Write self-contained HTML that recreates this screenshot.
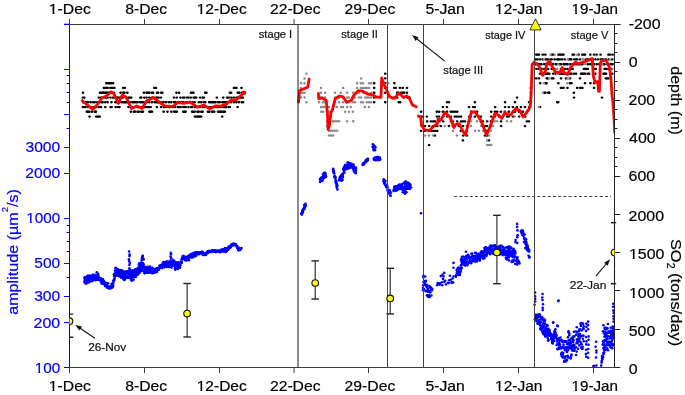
<!DOCTYPE html>
<html><head><meta charset="utf-8"><style>html,body{margin:0;padding:0;background:#fff;overflow:hidden}svg{display:block;will-change:transform}svg text{font-family:"Liberation Sans",sans-serif;stroke-width:0.2px}</style></head>
<body><svg width="685" height="395" viewBox="0 0 685 395">
<rect width="685" height="395" fill="#fff"/>
<defs><clipPath id="pc"><rect x="69.5" y="24" width="545" height="344"/></clipPath></defs>
<g clip-path="url(#pc)">
<g fill="#000"><rect x="81.6" y="91.6" width="2.7" height="2.3" rx="1.1"/><rect x="81.5" y="96.4" width="2.7" height="2.3" rx="1.1"/><rect x="81.8" y="101.1" width="2.7" height="2.3" rx="1.1"/><rect x="81.5" y="105.9" width="2.7" height="2.3" rx="1.1"/><rect x="83.0" y="96.4" width="2.7" height="2.3" rx="1.1"/><rect x="82.8" y="101.1" width="2.7" height="2.3" rx="1.1"/><rect x="83.0" y="105.9" width="2.7" height="2.3" rx="1.1"/><rect x="84.2" y="101.1" width="2.7" height="2.3" rx="1.1"/><rect x="84.3" y="105.9" width="2.7" height="2.3" rx="1.1"/><rect x="85.5" y="101.1" width="2.7" height="2.3" rx="1.1"/><rect x="85.5" y="110.6" width="2.7" height="2.3" rx="1.1"/><rect x="87.0" y="101.1" width="2.7" height="2.3" rx="1.1"/><rect x="86.7" y="105.9" width="2.7" height="2.3" rx="1.1"/><rect x="86.7" y="110.6" width="2.7" height="2.3" rx="1.1"/><rect x="88.1" y="110.6" width="2.7" height="2.3" rx="1.1"/><rect x="88.2" y="115.4" width="2.7" height="2.3" rx="1.1"/><rect x="89.4" y="101.1" width="2.7" height="2.3" rx="1.1"/><rect x="89.3" y="105.9" width="2.7" height="2.3" rx="1.1"/><rect x="90.7" y="110.6" width="2.7" height="2.3" rx="1.1"/><rect x="91.9" y="101.1" width="2.7" height="2.3" rx="1.1"/><rect x="92.0" y="105.9" width="2.7" height="2.3" rx="1.1"/><rect x="93.4" y="101.1" width="2.7" height="2.3" rx="1.1"/><rect x="93.5" y="110.6" width="2.7" height="2.3" rx="1.1"/><rect x="94.6" y="105.9" width="2.7" height="2.3" rx="1.1"/><rect x="94.5" y="110.6" width="2.7" height="2.3" rx="1.1"/><rect x="94.8" y="115.4" width="2.7" height="2.3" rx="1.1"/><rect x="95.9" y="101.1" width="2.7" height="2.3" rx="1.1"/><rect x="96.1" y="115.4" width="2.7" height="2.3" rx="1.1"/><rect x="97.4" y="96.4" width="2.7" height="2.3" rx="1.1"/><rect x="97.3" y="101.1" width="2.7" height="2.3" rx="1.1"/><rect x="97.2" y="105.9" width="2.7" height="2.3" rx="1.1"/><rect x="97.3" y="115.4" width="2.7" height="2.3" rx="1.1"/><rect x="98.6" y="91.6" width="2.7" height="2.3" rx="1.1"/><rect x="98.4" y="105.9" width="2.7" height="2.3" rx="1.1"/><rect x="98.4" y="115.4" width="2.7" height="2.3" rx="1.1"/><rect x="100.0" y="91.6" width="2.7" height="2.3" rx="1.1"/><rect x="99.7" y="96.4" width="2.7" height="2.3" rx="1.1"/><rect x="99.9" y="101.1" width="2.7" height="2.3" rx="1.1"/><rect x="99.7" y="105.9" width="2.7" height="2.3" rx="1.1"/><rect x="101.3" y="91.6" width="2.7" height="2.3" rx="1.1"/><rect x="101.0" y="96.4" width="2.7" height="2.3" rx="1.1"/><rect x="101.3" y="101.1" width="2.7" height="2.3" rx="1.1"/><rect x="102.6" y="86.8" width="2.7" height="2.3" rx="1.1"/><rect x="102.4" y="91.6" width="2.7" height="2.3" rx="1.1"/><rect x="103.7" y="86.8" width="2.7" height="2.3" rx="1.1"/><rect x="103.8" y="91.6" width="2.7" height="2.3" rx="1.1"/><rect x="103.6" y="96.4" width="2.7" height="2.3" rx="1.1"/><rect x="103.9" y="101.1" width="2.7" height="2.3" rx="1.1"/><rect x="103.9" y="105.9" width="2.7" height="2.3" rx="1.1"/><rect x="104.9" y="82.1" width="2.7" height="2.3" rx="1.1"/><rect x="105.1" y="86.8" width="2.7" height="2.3" rx="1.1"/><rect x="104.9" y="91.6" width="2.7" height="2.3" rx="1.1"/><rect x="105.2" y="96.4" width="2.7" height="2.3" rx="1.1"/><rect x="106.2" y="82.1" width="2.7" height="2.3" rx="1.1"/><rect x="106.3" y="86.8" width="2.7" height="2.3" rx="1.1"/><rect x="106.2" y="91.6" width="2.7" height="2.3" rx="1.1"/><rect x="106.2" y="96.4" width="2.7" height="2.3" rx="1.1"/><rect x="106.2" y="101.1" width="2.7" height="2.3" rx="1.1"/><rect x="107.7" y="82.1" width="2.7" height="2.3" rx="1.1"/><rect x="107.8" y="91.6" width="2.7" height="2.3" rx="1.1"/><rect x="108.8" y="82.1" width="2.7" height="2.3" rx="1.1"/><rect x="109.0" y="86.8" width="2.7" height="2.3" rx="1.1"/><rect x="109.0" y="96.4" width="2.7" height="2.3" rx="1.1"/><rect x="109.1" y="105.9" width="2.7" height="2.3" rx="1.1"/><rect x="110.2" y="82.1" width="2.7" height="2.3" rx="1.1"/><rect x="110.3" y="86.8" width="2.7" height="2.3" rx="1.1"/><rect x="110.3" y="91.6" width="2.7" height="2.3" rx="1.1"/><rect x="110.1" y="101.1" width="2.7" height="2.3" rx="1.1"/><rect x="110.3" y="105.9" width="2.7" height="2.3" rx="1.1"/><rect x="111.7" y="82.1" width="2.7" height="2.3" rx="1.1"/><rect x="111.7" y="86.8" width="2.7" height="2.3" rx="1.1"/><rect x="111.5" y="96.4" width="2.7" height="2.3" rx="1.1"/><rect x="113.0" y="86.8" width="2.7" height="2.3" rx="1.1"/><rect x="112.7" y="91.6" width="2.7" height="2.3" rx="1.1"/><rect x="112.8" y="96.4" width="2.7" height="2.3" rx="1.1"/><rect x="114.1" y="96.4" width="2.7" height="2.3" rx="1.1"/><rect x="114.0" y="101.1" width="2.7" height="2.3" rx="1.1"/><rect x="114.3" y="105.9" width="2.7" height="2.3" rx="1.1"/><rect x="115.5" y="96.4" width="2.7" height="2.3" rx="1.1"/><rect x="115.6" y="101.1" width="2.7" height="2.3" rx="1.1"/><rect x="116.6" y="96.4" width="2.7" height="2.3" rx="1.1"/><rect x="116.6" y="105.9" width="2.7" height="2.3" rx="1.1"/><rect x="117.9" y="96.4" width="2.7" height="2.3" rx="1.1"/><rect x="118.2" y="101.1" width="2.7" height="2.3" rx="1.1"/><rect x="118.1" y="105.9" width="2.7" height="2.3" rx="1.1"/><rect x="119.2" y="91.6" width="2.7" height="2.3" rx="1.1"/><rect x="119.5" y="96.4" width="2.7" height="2.3" rx="1.1"/><rect x="120.5" y="96.4" width="2.7" height="2.3" rx="1.1"/><rect x="120.7" y="101.1" width="2.7" height="2.3" rx="1.1"/><rect x="121.8" y="86.8" width="2.7" height="2.3" rx="1.1"/><rect x="122.0" y="91.6" width="2.7" height="2.3" rx="1.1"/><rect x="121.8" y="96.4" width="2.7" height="2.3" rx="1.1"/><rect x="122.0" y="101.1" width="2.7" height="2.3" rx="1.1"/><rect x="123.4" y="86.8" width="2.7" height="2.3" rx="1.1"/><rect x="123.1" y="91.6" width="2.7" height="2.3" rx="1.1"/><rect x="123.4" y="101.1" width="2.7" height="2.3" rx="1.1"/><rect x="124.7" y="96.4" width="2.7" height="2.3" rx="1.1"/><rect x="124.4" y="101.1" width="2.7" height="2.3" rx="1.1"/><rect x="126.0" y="91.6" width="2.7" height="2.3" rx="1.1"/><rect x="125.7" y="101.1" width="2.7" height="2.3" rx="1.1"/><rect x="127.1" y="96.4" width="2.7" height="2.3" rx="1.1"/><rect x="127.1" y="105.9" width="2.7" height="2.3" rx="1.1"/><rect x="128.4" y="96.4" width="2.7" height="2.3" rx="1.1"/><rect x="128.3" y="101.1" width="2.7" height="2.3" rx="1.1"/><rect x="129.9" y="96.4" width="2.7" height="2.3" rx="1.1"/><rect x="129.7" y="105.9" width="2.7" height="2.3" rx="1.1"/><rect x="129.6" y="110.6" width="2.7" height="2.3" rx="1.1"/><rect x="130.9" y="101.1" width="2.7" height="2.3" rx="1.1"/><rect x="130.9" y="105.9" width="2.7" height="2.3" rx="1.1"/><rect x="132.2" y="101.1" width="2.7" height="2.3" rx="1.1"/><rect x="132.5" y="110.6" width="2.7" height="2.3" rx="1.1"/><rect x="133.6" y="101.1" width="2.7" height="2.3" rx="1.1"/><rect x="133.5" y="105.9" width="2.7" height="2.3" rx="1.1"/><rect x="133.5" y="110.6" width="2.7" height="2.3" rx="1.1"/><rect x="134.9" y="101.1" width="2.7" height="2.3" rx="1.1"/><rect x="136.3" y="101.1" width="2.7" height="2.3" rx="1.1"/><rect x="136.3" y="105.9" width="2.7" height="2.3" rx="1.1"/><rect x="136.2" y="110.6" width="2.7" height="2.3" rx="1.1"/><rect x="137.7" y="105.9" width="2.7" height="2.3" rx="1.1"/><rect x="137.5" y="110.6" width="2.7" height="2.3" rx="1.1"/><rect x="139.0" y="96.4" width="2.7" height="2.3" rx="1.1"/><rect x="138.9" y="101.1" width="2.7" height="2.3" rx="1.1"/><rect x="140.0" y="96.4" width="2.7" height="2.3" rx="1.1"/><rect x="140.1" y="101.1" width="2.7" height="2.3" rx="1.1"/><rect x="140.1" y="105.9" width="2.7" height="2.3" rx="1.1"/><rect x="140.0" y="110.6" width="2.7" height="2.3" rx="1.1"/><rect x="141.6" y="101.1" width="2.7" height="2.3" rx="1.1"/><rect x="141.6" y="110.6" width="2.7" height="2.3" rx="1.1"/><rect x="142.6" y="91.6" width="2.7" height="2.3" rx="1.1"/><rect x="142.9" y="96.4" width="2.7" height="2.3" rx="1.1"/><rect x="142.6" y="105.9" width="2.7" height="2.3" rx="1.1"/><rect x="144.2" y="101.1" width="2.7" height="2.3" rx="1.1"/><rect x="143.9" y="105.9" width="2.7" height="2.3" rx="1.1"/><rect x="145.2" y="91.6" width="2.7" height="2.3" rx="1.1"/><rect x="145.2" y="96.4" width="2.7" height="2.3" rx="1.1"/><rect x="145.3" y="101.1" width="2.7" height="2.3" rx="1.1"/><rect x="145.3" y="105.9" width="2.7" height="2.3" rx="1.1"/><rect x="146.5" y="91.6" width="2.7" height="2.3" rx="1.1"/><rect x="146.7" y="105.9" width="2.7" height="2.3" rx="1.1"/><rect x="148.0" y="91.6" width="2.7" height="2.3" rx="1.1"/><rect x="148.0" y="96.4" width="2.7" height="2.3" rx="1.1"/><rect x="147.8" y="101.1" width="2.7" height="2.3" rx="1.1"/><rect x="147.9" y="105.9" width="2.7" height="2.3" rx="1.1"/><rect x="148.1" y="110.6" width="2.7" height="2.3" rx="1.1"/><rect x="149.3" y="105.9" width="2.7" height="2.3" rx="1.1"/><rect x="149.4" y="110.6" width="2.7" height="2.3" rx="1.1"/><rect x="150.4" y="91.6" width="2.7" height="2.3" rx="1.1"/><rect x="150.6" y="96.4" width="2.7" height="2.3" rx="1.1"/><rect x="150.6" y="101.1" width="2.7" height="2.3" rx="1.1"/><rect x="150.7" y="110.6" width="2.7" height="2.3" rx="1.1"/><rect x="151.7" y="91.6" width="2.7" height="2.3" rx="1.1"/><rect x="151.7" y="96.4" width="2.7" height="2.3" rx="1.1"/><rect x="153.0" y="86.8" width="2.7" height="2.3" rx="1.1"/><rect x="153.3" y="101.1" width="2.7" height="2.3" rx="1.1"/><rect x="154.6" y="86.8" width="2.7" height="2.3" rx="1.1"/><rect x="154.4" y="96.4" width="2.7" height="2.3" rx="1.1"/><rect x="154.6" y="101.1" width="2.7" height="2.3" rx="1.1"/><rect x="155.7" y="91.6" width="2.7" height="2.3" rx="1.1"/><rect x="155.9" y="96.4" width="2.7" height="2.3" rx="1.1"/><rect x="155.9" y="101.1" width="2.7" height="2.3" rx="1.1"/><rect x="155.6" y="105.9" width="2.7" height="2.3" rx="1.1"/><rect x="156.9" y="91.6" width="2.7" height="2.3" rx="1.1"/><rect x="157.2" y="96.4" width="2.7" height="2.3" rx="1.1"/><rect x="157.0" y="101.1" width="2.7" height="2.3" rx="1.1"/><rect x="158.3" y="101.1" width="2.7" height="2.3" rx="1.1"/><rect x="159.8" y="91.6" width="2.7" height="2.3" rx="1.1"/><rect x="159.6" y="96.4" width="2.7" height="2.3" rx="1.1"/><rect x="159.7" y="105.9" width="2.7" height="2.3" rx="1.1"/><rect x="161.0" y="91.6" width="2.7" height="2.3" rx="1.1"/><rect x="161.0" y="101.1" width="2.7" height="2.3" rx="1.1"/><rect x="162.2" y="101.1" width="2.7" height="2.3" rx="1.1"/><rect x="162.3" y="105.9" width="2.7" height="2.3" rx="1.1"/><rect x="162.3" y="110.6" width="2.7" height="2.3" rx="1.1"/><rect x="163.6" y="105.9" width="2.7" height="2.3" rx="1.1"/><rect x="164.8" y="101.1" width="2.7" height="2.3" rx="1.1"/><rect x="164.7" y="105.9" width="2.7" height="2.3" rx="1.1"/><rect x="166.1" y="110.6" width="2.7" height="2.3" rx="1.1"/><rect x="167.5" y="101.1" width="2.7" height="2.3" rx="1.1"/><rect x="167.4" y="105.9" width="2.7" height="2.3" rx="1.1"/><rect x="168.6" y="105.9" width="2.7" height="2.3" rx="1.1"/><rect x="169.9" y="101.1" width="2.7" height="2.3" rx="1.1"/><rect x="170.0" y="105.9" width="2.7" height="2.3" rx="1.1"/><rect x="170.0" y="110.6" width="2.7" height="2.3" rx="1.1"/><rect x="171.4" y="105.9" width="2.7" height="2.3" rx="1.1"/><rect x="172.6" y="96.4" width="2.7" height="2.3" rx="1.1"/><rect x="172.7" y="101.1" width="2.7" height="2.3" rx="1.1"/><rect x="172.8" y="110.6" width="2.7" height="2.3" rx="1.1"/><rect x="173.8" y="101.1" width="2.7" height="2.3" rx="1.1"/><rect x="173.8" y="105.9" width="2.7" height="2.3" rx="1.1"/><rect x="174.1" y="110.6" width="2.7" height="2.3" rx="1.1"/><rect x="175.1" y="91.6" width="2.7" height="2.3" rx="1.1"/><rect x="175.4" y="96.4" width="2.7" height="2.3" rx="1.1"/><rect x="175.4" y="110.6" width="2.7" height="2.3" rx="1.1"/><rect x="176.4" y="101.1" width="2.7" height="2.3" rx="1.1"/><rect x="176.6" y="105.9" width="2.7" height="2.3" rx="1.1"/><rect x="177.7" y="91.6" width="2.7" height="2.3" rx="1.1"/><rect x="177.9" y="101.1" width="2.7" height="2.3" rx="1.1"/><rect x="177.7" y="105.9" width="2.7" height="2.3" rx="1.1"/><rect x="179.1" y="96.4" width="2.7" height="2.3" rx="1.1"/><rect x="179.3" y="105.9" width="2.7" height="2.3" rx="1.1"/><rect x="180.3" y="101.1" width="2.7" height="2.3" rx="1.1"/><rect x="181.7" y="96.4" width="2.7" height="2.3" rx="1.1"/><rect x="181.8" y="101.1" width="2.7" height="2.3" rx="1.1"/><rect x="181.9" y="105.9" width="2.7" height="2.3" rx="1.1"/><rect x="181.9" y="110.6" width="2.7" height="2.3" rx="1.1"/><rect x="183.1" y="96.4" width="2.7" height="2.3" rx="1.1"/><rect x="182.9" y="105.9" width="2.7" height="2.3" rx="1.1"/><rect x="183.2" y="110.6" width="2.7" height="2.3" rx="1.1"/><rect x="184.4" y="101.1" width="2.7" height="2.3" rx="1.1"/><rect x="184.4" y="105.9" width="2.7" height="2.3" rx="1.1"/><rect x="184.2" y="110.6" width="2.7" height="2.3" rx="1.1"/><rect x="185.8" y="96.4" width="2.7" height="2.3" rx="1.1"/><rect x="185.8" y="101.1" width="2.7" height="2.3" rx="1.1"/><rect x="187.1" y="96.4" width="2.7" height="2.3" rx="1.1"/><rect x="187.0" y="101.1" width="2.7" height="2.3" rx="1.1"/><rect x="187.1" y="105.9" width="2.7" height="2.3" rx="1.1"/><rect x="188.1" y="101.1" width="2.7" height="2.3" rx="1.1"/><rect x="189.6" y="91.6" width="2.7" height="2.3" rx="1.1"/><rect x="189.4" y="96.4" width="2.7" height="2.3" rx="1.1"/><rect x="189.7" y="105.9" width="2.7" height="2.3" rx="1.1"/><rect x="190.9" y="91.6" width="2.7" height="2.3" rx="1.1"/><rect x="191.0" y="101.1" width="2.7" height="2.3" rx="1.1"/><rect x="190.8" y="105.9" width="2.7" height="2.3" rx="1.1"/><rect x="190.8" y="110.6" width="2.7" height="2.3" rx="1.1"/><rect x="192.0" y="91.6" width="2.7" height="2.3" rx="1.1"/><rect x="192.3" y="96.4" width="2.7" height="2.3" rx="1.1"/><rect x="192.1" y="110.6" width="2.7" height="2.3" rx="1.1"/><rect x="193.5" y="96.4" width="2.7" height="2.3" rx="1.1"/><rect x="193.3" y="101.1" width="2.7" height="2.3" rx="1.1"/><rect x="193.5" y="105.9" width="2.7" height="2.3" rx="1.1"/><rect x="193.3" y="110.6" width="2.7" height="2.3" rx="1.1"/><rect x="193.5" y="115.4" width="2.7" height="2.3" rx="1.1"/><rect x="194.9" y="96.4" width="2.7" height="2.3" rx="1.1"/><rect x="194.6" y="105.9" width="2.7" height="2.3" rx="1.1"/><rect x="194.9" y="115.4" width="2.7" height="2.3" rx="1.1"/><rect x="196.1" y="105.9" width="2.7" height="2.3" rx="1.1"/><rect x="196.2" y="110.6" width="2.7" height="2.3" rx="1.1"/><rect x="196.2" y="115.4" width="2.7" height="2.3" rx="1.1"/><rect x="197.4" y="101.1" width="2.7" height="2.3" rx="1.1"/><rect x="197.4" y="110.6" width="2.7" height="2.3" rx="1.1"/><rect x="197.5" y="115.4" width="2.7" height="2.3" rx="1.1"/><rect x="198.8" y="96.4" width="2.7" height="2.3" rx="1.1"/><rect x="198.6" y="105.9" width="2.7" height="2.3" rx="1.1"/><rect x="198.6" y="115.4" width="2.7" height="2.3" rx="1.1"/><rect x="199.9" y="101.1" width="2.7" height="2.3" rx="1.1"/><rect x="200.0" y="110.6" width="2.7" height="2.3" rx="1.1"/><rect x="199.9" y="115.4" width="2.7" height="2.3" rx="1.1"/><rect x="201.3" y="96.4" width="2.7" height="2.3" rx="1.1"/><rect x="201.2" y="105.9" width="2.7" height="2.3" rx="1.1"/><rect x="201.2" y="110.6" width="2.7" height="2.3" rx="1.1"/><rect x="202.5" y="96.4" width="2.7" height="2.3" rx="1.1"/><rect x="202.4" y="101.1" width="2.7" height="2.3" rx="1.1"/><rect x="202.7" y="105.9" width="2.7" height="2.3" rx="1.1"/><rect x="203.8" y="91.6" width="2.7" height="2.3" rx="1.1"/><rect x="203.9" y="101.1" width="2.7" height="2.3" rx="1.1"/><rect x="203.8" y="105.9" width="2.7" height="2.3" rx="1.1"/><rect x="205.1" y="91.6" width="2.7" height="2.3" rx="1.1"/><rect x="206.4" y="105.9" width="2.7" height="2.3" rx="1.1"/><rect x="206.6" y="110.6" width="2.7" height="2.3" rx="1.1"/><rect x="207.8" y="101.1" width="2.7" height="2.3" rx="1.1"/><rect x="207.9" y="110.6" width="2.7" height="2.3" rx="1.1"/><rect x="209.1" y="101.1" width="2.7" height="2.3" rx="1.1"/><rect x="209.0" y="105.9" width="2.7" height="2.3" rx="1.1"/><rect x="210.5" y="101.1" width="2.7" height="2.3" rx="1.1"/><rect x="210.3" y="105.9" width="2.7" height="2.3" rx="1.1"/><rect x="210.5" y="110.6" width="2.7" height="2.3" rx="1.1"/><rect x="211.8" y="101.1" width="2.7" height="2.3" rx="1.1"/><rect x="211.6" y="110.6" width="2.7" height="2.3" rx="1.1"/><rect x="212.8" y="101.1" width="2.7" height="2.3" rx="1.1"/><rect x="212.8" y="105.9" width="2.7" height="2.3" rx="1.1"/><rect x="212.8" y="110.6" width="2.7" height="2.3" rx="1.1"/><rect x="214.2" y="101.1" width="2.7" height="2.3" rx="1.1"/><rect x="214.4" y="105.9" width="2.7" height="2.3" rx="1.1"/><rect x="215.5" y="96.4" width="2.7" height="2.3" rx="1.1"/><rect x="215.5" y="105.9" width="2.7" height="2.3" rx="1.1"/><rect x="216.7" y="101.1" width="2.7" height="2.3" rx="1.1"/><rect x="216.8" y="105.9" width="2.7" height="2.3" rx="1.1"/><rect x="216.7" y="110.6" width="2.7" height="2.3" rx="1.1"/><rect x="218.3" y="101.1" width="2.7" height="2.3" rx="1.1"/><rect x="218.0" y="105.9" width="2.7" height="2.3" rx="1.1"/><rect x="218.0" y="110.6" width="2.7" height="2.3" rx="1.1"/><rect x="219.4" y="105.9" width="2.7" height="2.3" rx="1.1"/><rect x="219.3" y="110.6" width="2.7" height="2.3" rx="1.1"/><rect x="220.9" y="101.1" width="2.7" height="2.3" rx="1.1"/><rect x="220.7" y="110.6" width="2.7" height="2.3" rx="1.1"/><rect x="220.8" y="115.4" width="2.7" height="2.3" rx="1.1"/><rect x="221.9" y="96.4" width="2.7" height="2.3" rx="1.1"/><rect x="221.9" y="101.1" width="2.7" height="2.3" rx="1.1"/><rect x="222.0" y="105.9" width="2.7" height="2.3" rx="1.1"/><rect x="222.0" y="110.6" width="2.7" height="2.3" rx="1.1"/><rect x="223.2" y="101.1" width="2.7" height="2.3" rx="1.1"/><rect x="223.5" y="105.9" width="2.7" height="2.3" rx="1.1"/><rect x="223.5" y="110.6" width="2.7" height="2.3" rx="1.1"/><rect x="224.7" y="101.1" width="2.7" height="2.3" rx="1.1"/><rect x="224.7" y="105.9" width="2.7" height="2.3" rx="1.1"/><rect x="225.8" y="96.4" width="2.7" height="2.3" rx="1.1"/><rect x="227.4" y="96.4" width="2.7" height="2.3" rx="1.1"/><rect x="227.1" y="101.1" width="2.7" height="2.3" rx="1.1"/><rect x="227.2" y="105.9" width="2.7" height="2.3" rx="1.1"/><rect x="228.6" y="91.6" width="2.7" height="2.3" rx="1.1"/><rect x="228.5" y="105.9" width="2.7" height="2.3" rx="1.1"/><rect x="229.7" y="91.6" width="2.7" height="2.3" rx="1.1"/><rect x="230.0" y="96.4" width="2.7" height="2.3" rx="1.1"/><rect x="229.7" y="101.1" width="2.7" height="2.3" rx="1.1"/><rect x="232.6" y="86.8" width="2.7" height="2.3" rx="1.1"/><rect x="232.4" y="96.4" width="2.7" height="2.3" rx="1.1"/><rect x="232.5" y="101.1" width="2.7" height="2.3" rx="1.1"/><rect x="233.9" y="86.8" width="2.7" height="2.3" rx="1.1"/><rect x="235.1" y="86.8" width="2.7" height="2.3" rx="1.1"/><rect x="235.1" y="96.4" width="2.7" height="2.3" rx="1.1"/><rect x="235.1" y="101.1" width="2.7" height="2.3" rx="1.1"/><rect x="236.4" y="91.6" width="2.7" height="2.3" rx="1.1"/><rect x="236.4" y="96.4" width="2.7" height="2.3" rx="1.1"/><rect x="236.3" y="105.9" width="2.7" height="2.3" rx="1.1"/><rect x="237.8" y="91.6" width="2.7" height="2.3" rx="1.1"/><rect x="237.5" y="96.4" width="2.7" height="2.3" rx="1.1"/><rect x="237.5" y="101.1" width="2.7" height="2.3" rx="1.1"/><rect x="238.9" y="96.4" width="2.7" height="2.3" rx="1.1"/><rect x="240.1" y="86.8" width="2.7" height="2.3" rx="1.1"/><rect x="240.4" y="91.6" width="2.7" height="2.3" rx="1.1"/><rect x="240.3" y="96.4" width="2.7" height="2.3" rx="1.1"/><rect x="240.3" y="101.1" width="2.7" height="2.3" rx="1.1"/><rect x="241.5" y="96.4" width="2.7" height="2.3" rx="1.1"/><rect x="241.7" y="101.1" width="2.7" height="2.3" rx="1.1"/><rect x="372.8" y="82.1" width="2.7" height="2.3" rx="1.1"/><rect x="372.8" y="86.8" width="2.7" height="2.3" rx="1.1"/><rect x="372.8" y="91.6" width="2.7" height="2.3" rx="1.1"/><rect x="372.8" y="96.4" width="2.7" height="2.3" rx="1.1"/><rect x="372.8" y="101.1" width="2.7" height="2.3" rx="1.1"/><rect x="383.9" y="72.6" width="2.7" height="2.3" rx="1.1"/><rect x="383.9" y="77.3" width="2.7" height="2.3" rx="1.1"/><rect x="383.9" y="82.1" width="2.7" height="2.3" rx="1.1"/><rect x="383.9" y="86.8" width="2.7" height="2.3" rx="1.1"/><rect x="383.9" y="91.6" width="2.7" height="2.3" rx="1.1"/><rect x="383.9" y="101.1" width="2.7" height="2.3" rx="1.1"/><rect x="393.0" y="82.1" width="2.7" height="2.3" rx="1.1"/><rect x="392.9" y="86.8" width="2.7" height="2.3" rx="1.1"/><rect x="393.1" y="96.4" width="2.7" height="2.3" rx="1.1"/><rect x="394.4" y="86.8" width="2.7" height="2.3" rx="1.1"/><rect x="394.3" y="96.4" width="2.7" height="2.3" rx="1.1"/><rect x="395.8" y="91.6" width="2.7" height="2.3" rx="1.1"/><rect x="395.9" y="96.4" width="2.7" height="2.3" rx="1.1"/><rect x="397.2" y="91.6" width="2.7" height="2.3" rx="1.1"/><rect x="397.4" y="101.1" width="2.7" height="2.3" rx="1.1"/><rect x="398.6" y="86.8" width="2.7" height="2.3" rx="1.1"/><rect x="398.8" y="101.1" width="2.7" height="2.3" rx="1.1"/><rect x="399.9" y="91.6" width="2.7" height="2.3" rx="1.1"/><rect x="401.4" y="86.8" width="2.7" height="2.3" rx="1.1"/><rect x="401.4" y="91.6" width="2.7" height="2.3" rx="1.1"/><rect x="402.8" y="91.6" width="2.7" height="2.3" rx="1.1"/><rect x="405.6" y="86.8" width="2.7" height="2.3" rx="1.1"/><rect x="405.6" y="91.6" width="2.7" height="2.3" rx="1.1"/><rect x="405.8" y="96.4" width="2.7" height="2.3" rx="1.1"/><rect x="407.1" y="96.4" width="2.7" height="2.3" rx="1.1"/><rect x="408.3" y="96.4" width="2.7" height="2.3" rx="1.1"/><rect x="419.8" y="110.6" width="2.7" height="2.3" rx="1.1"/><rect x="419.7" y="115.4" width="2.7" height="2.3" rx="1.1"/><rect x="419.8" y="120.2" width="2.7" height="2.3" rx="1.1"/><rect x="419.7" y="129.7" width="2.7" height="2.3" rx="1.1"/><rect x="421.6" y="115.4" width="2.7" height="2.3" rx="1.1"/><rect x="423.7" y="124.9" width="2.7" height="2.3" rx="1.1"/><rect x="423.5" y="129.7" width="2.7" height="2.3" rx="1.1"/><rect x="425.5" y="115.4" width="2.7" height="2.3" rx="1.1"/><rect x="425.8" y="120.2" width="2.7" height="2.3" rx="1.1"/><rect x="427.8" y="124.9" width="2.7" height="2.3" rx="1.1"/><rect x="427.5" y="129.7" width="2.7" height="2.3" rx="1.1"/><rect x="427.8" y="144.0" width="2.7" height="2.3" rx="1.1"/><rect x="429.5" y="120.2" width="2.7" height="2.3" rx="1.1"/><rect x="429.5" y="129.7" width="2.7" height="2.3" rx="1.1"/><rect x="431.8" y="120.2" width="2.7" height="2.3" rx="1.1"/><rect x="431.5" y="124.9" width="2.7" height="2.3" rx="1.1"/><rect x="431.8" y="129.7" width="2.7" height="2.3" rx="1.1"/><rect x="433.5" y="120.2" width="2.7" height="2.3" rx="1.1"/><rect x="433.8" y="124.9" width="2.7" height="2.3" rx="1.1"/><rect x="433.7" y="129.7" width="2.7" height="2.3" rx="1.1"/><rect x="433.5" y="134.4" width="2.7" height="2.3" rx="1.1"/><rect x="435.5" y="110.6" width="2.7" height="2.3" rx="1.1"/><rect x="435.6" y="115.4" width="2.7" height="2.3" rx="1.1"/><rect x="435.7" y="124.9" width="2.7" height="2.3" rx="1.1"/><rect x="435.8" y="129.7" width="2.7" height="2.3" rx="1.1"/><rect x="437.8" y="110.6" width="2.7" height="2.3" rx="1.1"/><rect x="437.7" y="115.4" width="2.7" height="2.3" rx="1.1"/><rect x="437.8" y="120.2" width="2.7" height="2.3" rx="1.1"/><rect x="439.6" y="124.9" width="2.7" height="2.3" rx="1.1"/><rect x="441.6" y="105.9" width="2.7" height="2.3" rx="1.1"/><rect x="441.5" y="110.6" width="2.7" height="2.3" rx="1.1"/><rect x="441.8" y="115.4" width="2.7" height="2.3" rx="1.1"/><rect x="441.8" y="120.2" width="2.7" height="2.3" rx="1.1"/><rect x="445.7" y="101.1" width="2.7" height="2.3" rx="1.1"/><rect x="445.6" y="105.9" width="2.7" height="2.3" rx="1.1"/><rect x="445.7" y="110.6" width="2.7" height="2.3" rx="1.1"/><rect x="445.7" y="115.4" width="2.7" height="2.3" rx="1.1"/><rect x="447.6" y="101.1" width="2.7" height="2.3" rx="1.1"/><rect x="447.6" y="124.9" width="2.7" height="2.3" rx="1.1"/><rect x="449.5" y="110.6" width="2.7" height="2.3" rx="1.1"/><rect x="449.5" y="115.4" width="2.7" height="2.3" rx="1.1"/><rect x="449.6" y="120.2" width="2.7" height="2.3" rx="1.1"/><rect x="451.5" y="110.6" width="2.7" height="2.3" rx="1.1"/><rect x="451.6" y="120.2" width="2.7" height="2.3" rx="1.1"/><rect x="451.5" y="124.9" width="2.7" height="2.3" rx="1.1"/><rect x="453.6" y="110.6" width="2.7" height="2.3" rx="1.1"/><rect x="453.5" y="115.4" width="2.7" height="2.3" rx="1.1"/><rect x="453.5" y="124.9" width="2.7" height="2.3" rx="1.1"/><rect x="455.8" y="110.6" width="2.7" height="2.3" rx="1.1"/><rect x="455.5" y="115.4" width="2.7" height="2.3" rx="1.1"/><rect x="455.8" y="120.2" width="2.7" height="2.3" rx="1.1"/><rect x="457.6" y="115.4" width="2.7" height="2.3" rx="1.1"/><rect x="457.5" y="124.9" width="2.7" height="2.3" rx="1.1"/><rect x="459.7" y="115.4" width="2.7" height="2.3" rx="1.1"/><rect x="459.8" y="120.2" width="2.7" height="2.3" rx="1.1"/><rect x="459.5" y="129.7" width="2.7" height="2.3" rx="1.1"/><rect x="461.6" y="120.2" width="2.7" height="2.3" rx="1.1"/><rect x="461.7" y="124.9" width="2.7" height="2.3" rx="1.1"/><rect x="461.6" y="129.7" width="2.7" height="2.3" rx="1.1"/><rect x="461.8" y="134.4" width="2.7" height="2.3" rx="1.1"/><rect x="461.6" y="139.2" width="2.7" height="2.3" rx="1.1"/><rect x="463.7" y="120.2" width="2.7" height="2.3" rx="1.1"/><rect x="465.7" y="124.9" width="2.7" height="2.3" rx="1.1"/><rect x="465.5" y="129.7" width="2.7" height="2.3" rx="1.1"/><rect x="465.7" y="134.4" width="2.7" height="2.3" rx="1.1"/><rect x="467.7" y="105.9" width="2.7" height="2.3" rx="1.1"/><rect x="467.7" y="115.4" width="2.7" height="2.3" rx="1.1"/><rect x="467.5" y="120.2" width="2.7" height="2.3" rx="1.1"/><rect x="469.8" y="110.6" width="2.7" height="2.3" rx="1.1"/><rect x="469.5" y="115.4" width="2.7" height="2.3" rx="1.1"/><rect x="471.8" y="105.9" width="2.7" height="2.3" rx="1.1"/><rect x="473.5" y="101.1" width="2.7" height="2.3" rx="1.1"/><rect x="473.5" y="105.9" width="2.7" height="2.3" rx="1.1"/><rect x="473.5" y="110.6" width="2.7" height="2.3" rx="1.1"/><rect x="473.6" y="115.4" width="2.7" height="2.3" rx="1.1"/><rect x="475.8" y="110.6" width="2.7" height="2.3" rx="1.1"/><rect x="477.5" y="115.4" width="2.7" height="2.3" rx="1.1"/><rect x="479.6" y="115.4" width="2.7" height="2.3" rx="1.1"/><rect x="479.6" y="120.2" width="2.7" height="2.3" rx="1.1"/><rect x="481.5" y="120.2" width="2.7" height="2.3" rx="1.1"/><rect x="483.8" y="124.9" width="2.7" height="2.3" rx="1.1"/><rect x="483.6" y="134.4" width="2.7" height="2.3" rx="1.1"/><rect x="485.8" y="120.2" width="2.7" height="2.3" rx="1.1"/><rect x="485.6" y="124.9" width="2.7" height="2.3" rx="1.1"/><rect x="485.5" y="129.7" width="2.7" height="2.3" rx="1.1"/><rect x="485.5" y="134.4" width="2.7" height="2.3" rx="1.1"/><rect x="487.6" y="139.2" width="2.7" height="2.3" rx="1.1"/><rect x="489.8" y="110.6" width="2.7" height="2.3" rx="1.1"/><rect x="489.8" y="115.4" width="2.7" height="2.3" rx="1.1"/><rect x="489.6" y="120.2" width="2.7" height="2.3" rx="1.1"/><rect x="489.8" y="124.9" width="2.7" height="2.3" rx="1.1"/><rect x="493.8" y="105.9" width="2.7" height="2.3" rx="1.1"/><rect x="493.5" y="110.6" width="2.7" height="2.3" rx="1.1"/><rect x="493.5" y="115.4" width="2.7" height="2.3" rx="1.1"/><rect x="495.8" y="110.6" width="2.7" height="2.3" rx="1.1"/><rect x="497.7" y="115.4" width="2.7" height="2.3" rx="1.1"/><rect x="499.5" y="110.6" width="2.7" height="2.3" rx="1.1"/><rect x="499.7" y="120.2" width="2.7" height="2.3" rx="1.1"/><rect x="499.8" y="124.9" width="2.7" height="2.3" rx="1.1"/><rect x="501.5" y="115.4" width="2.7" height="2.3" rx="1.1"/><rect x="503.7" y="101.1" width="2.7" height="2.3" rx="1.1"/><rect x="503.7" y="105.9" width="2.7" height="2.3" rx="1.1"/><rect x="503.5" y="110.6" width="2.7" height="2.3" rx="1.1"/><rect x="505.8" y="115.4" width="2.7" height="2.3" rx="1.1"/><rect x="507.5" y="105.9" width="2.7" height="2.3" rx="1.1"/><rect x="507.5" y="110.6" width="2.7" height="2.3" rx="1.1"/><rect x="507.5" y="115.4" width="2.7" height="2.3" rx="1.1"/><rect x="511.5" y="105.9" width="2.7" height="2.3" rx="1.1"/><rect x="511.6" y="110.6" width="2.7" height="2.3" rx="1.1"/><rect x="511.6" y="115.4" width="2.7" height="2.3" rx="1.1"/><rect x="513.6" y="101.1" width="2.7" height="2.3" rx="1.1"/><rect x="513.7" y="110.6" width="2.7" height="2.3" rx="1.1"/><rect x="515.7" y="96.4" width="2.7" height="2.3" rx="1.1"/><rect x="515.5" y="105.9" width="2.7" height="2.3" rx="1.1"/><rect x="517.6" y="110.6" width="2.7" height="2.3" rx="1.1"/><rect x="517.8" y="115.4" width="2.7" height="2.3" rx="1.1"/><rect x="519.6" y="105.9" width="2.7" height="2.3" rx="1.1"/><rect x="521.6" y="110.6" width="2.7" height="2.3" rx="1.1"/><rect x="521.8" y="115.4" width="2.7" height="2.3" rx="1.1"/><rect x="523.6" y="105.9" width="2.7" height="2.3" rx="1.1"/><rect x="523.8" y="115.4" width="2.7" height="2.3" rx="1.1"/><rect x="523.7" y="124.9" width="2.7" height="2.3" rx="1.1"/><rect x="525.6" y="110.6" width="2.7" height="2.3" rx="1.1"/><rect x="525.6" y="120.2" width="2.7" height="2.3" rx="1.1"/><rect x="527.7" y="101.1" width="2.7" height="2.3" rx="1.1"/><rect x="527.8" y="105.9" width="2.7" height="2.3" rx="1.1"/><rect x="527.6" y="120.2" width="2.7" height="2.3" rx="1.1"/><rect x="529.5" y="86.8" width="2.7" height="2.3" rx="1.1"/><rect x="529.5" y="91.6" width="2.7" height="2.3" rx="1.1"/><rect x="529.7" y="96.4" width="2.7" height="2.3" rx="1.1"/><rect x="533.7" y="58.3" width="2.7" height="2.3" rx="1.1"/><rect x="533.5" y="63.1" width="2.7" height="2.3" rx="1.1"/><rect x="535.0" y="53.5" width="2.7" height="2.3" rx="1.1"/><rect x="534.8" y="58.3" width="2.7" height="2.3" rx="1.1"/><rect x="534.9" y="63.1" width="2.7" height="2.3" rx="1.1"/><rect x="535.1" y="67.8" width="2.7" height="2.3" rx="1.1"/><rect x="534.9" y="77.3" width="2.7" height="2.3" rx="1.1"/><rect x="536.1" y="53.5" width="2.7" height="2.3" rx="1.1"/><rect x="536.2" y="58.3" width="2.7" height="2.3" rx="1.1"/><rect x="537.5" y="53.5" width="2.7" height="2.3" rx="1.1"/><rect x="537.4" y="63.1" width="2.7" height="2.3" rx="1.1"/><rect x="537.4" y="67.8" width="2.7" height="2.3" rx="1.1"/><rect x="537.6" y="77.3" width="2.7" height="2.3" rx="1.1"/><rect x="538.7" y="58.3" width="2.7" height="2.3" rx="1.1"/><rect x="538.9" y="63.1" width="2.7" height="2.3" rx="1.1"/><rect x="538.7" y="72.6" width="2.7" height="2.3" rx="1.1"/><rect x="538.8" y="82.1" width="2.7" height="2.3" rx="1.1"/><rect x="538.7" y="105.9" width="2.7" height="2.3" rx="1.1"/><rect x="540.1" y="63.1" width="2.7" height="2.3" rx="1.1"/><rect x="540.2" y="67.8" width="2.7" height="2.3" rx="1.1"/><rect x="541.4" y="53.5" width="2.7" height="2.3" rx="1.1"/><rect x="541.3" y="58.3" width="2.7" height="2.3" rx="1.1"/><rect x="541.5" y="72.6" width="2.7" height="2.3" rx="1.1"/><rect x="542.9" y="63.1" width="2.7" height="2.3" rx="1.1"/><rect x="542.9" y="67.8" width="2.7" height="2.3" rx="1.1"/><rect x="542.9" y="72.6" width="2.7" height="2.3" rx="1.1"/><rect x="542.7" y="91.6" width="2.7" height="2.3" rx="1.1"/><rect x="544.0" y="53.5" width="2.7" height="2.3" rx="1.1"/><rect x="544.1" y="58.3" width="2.7" height="2.3" rx="1.1"/><rect x="543.9" y="63.1" width="2.7" height="2.3" rx="1.1"/><rect x="544.1" y="67.8" width="2.7" height="2.3" rx="1.1"/><rect x="543.9" y="72.6" width="2.7" height="2.3" rx="1.1"/><rect x="544.1" y="82.1" width="2.7" height="2.3" rx="1.1"/><rect x="544.1" y="91.6" width="2.7" height="2.3" rx="1.1"/><rect x="545.3" y="58.3" width="2.7" height="2.3" rx="1.1"/><rect x="545.4" y="72.6" width="2.7" height="2.3" rx="1.1"/><rect x="545.4" y="77.3" width="2.7" height="2.3" rx="1.1"/><rect x="545.2" y="82.1" width="2.7" height="2.3" rx="1.1"/><rect x="546.6" y="58.3" width="2.7" height="2.3" rx="1.1"/><rect x="546.8" y="67.8" width="2.7" height="2.3" rx="1.1"/><rect x="546.6" y="72.6" width="2.7" height="2.3" rx="1.1"/><rect x="546.7" y="77.3" width="2.7" height="2.3" rx="1.1"/><rect x="546.8" y="91.6" width="2.7" height="2.3" rx="1.1"/><rect x="547.9" y="63.1" width="2.7" height="2.3" rx="1.1"/><rect x="547.9" y="72.6" width="2.7" height="2.3" rx="1.1"/><rect x="548.0" y="91.6" width="2.7" height="2.3" rx="1.1"/><rect x="549.2" y="58.3" width="2.7" height="2.3" rx="1.1"/><rect x="550.5" y="53.5" width="2.7" height="2.3" rx="1.1"/><rect x="550.4" y="58.3" width="2.7" height="2.3" rx="1.1"/><rect x="550.6" y="63.1" width="2.7" height="2.3" rx="1.1"/><rect x="550.4" y="67.8" width="2.7" height="2.3" rx="1.1"/><rect x="550.6" y="77.3" width="2.7" height="2.3" rx="1.1"/><rect x="551.9" y="53.5" width="2.7" height="2.3" rx="1.1"/><rect x="551.7" y="63.1" width="2.7" height="2.3" rx="1.1"/><rect x="551.8" y="67.8" width="2.7" height="2.3" rx="1.1"/><rect x="551.9" y="72.6" width="2.7" height="2.3" rx="1.1"/><rect x="552.0" y="77.3" width="2.7" height="2.3" rx="1.1"/><rect x="553.3" y="58.3" width="2.7" height="2.3" rx="1.1"/><rect x="553.0" y="67.8" width="2.7" height="2.3" rx="1.1"/><rect x="554.4" y="63.1" width="2.7" height="2.3" rx="1.1"/><rect x="554.4" y="72.6" width="2.7" height="2.3" rx="1.1"/><rect x="555.9" y="58.3" width="2.7" height="2.3" rx="1.1"/><rect x="555.8" y="63.1" width="2.7" height="2.3" rx="1.1"/><rect x="555.8" y="101.1" width="2.7" height="2.3" rx="1.1"/><rect x="557.2" y="53.5" width="2.7" height="2.3" rx="1.1"/><rect x="557.1" y="58.3" width="2.7" height="2.3" rx="1.1"/><rect x="557.0" y="82.1" width="2.7" height="2.3" rx="1.1"/><rect x="556.9" y="101.1" width="2.7" height="2.3" rx="1.1"/><rect x="558.3" y="53.5" width="2.7" height="2.3" rx="1.1"/><rect x="558.5" y="58.3" width="2.7" height="2.3" rx="1.1"/><rect x="558.3" y="63.1" width="2.7" height="2.3" rx="1.1"/><rect x="558.2" y="72.6" width="2.7" height="2.3" rx="1.1"/><rect x="559.6" y="53.5" width="2.7" height="2.3" rx="1.1"/><rect x="559.5" y="63.1" width="2.7" height="2.3" rx="1.1"/><rect x="559.7" y="72.6" width="2.7" height="2.3" rx="1.1"/><rect x="559.7" y="77.3" width="2.7" height="2.3" rx="1.1"/><rect x="559.6" y="86.8" width="2.7" height="2.3" rx="1.1"/><rect x="561.0" y="53.5" width="2.7" height="2.3" rx="1.1"/><rect x="560.8" y="58.3" width="2.7" height="2.3" rx="1.1"/><rect x="561.0" y="67.8" width="2.7" height="2.3" rx="1.1"/><rect x="560.9" y="72.6" width="2.7" height="2.3" rx="1.1"/><rect x="560.9" y="86.8" width="2.7" height="2.3" rx="1.1"/><rect x="562.1" y="53.5" width="2.7" height="2.3" rx="1.1"/><rect x="562.2" y="63.1" width="2.7" height="2.3" rx="1.1"/><rect x="562.4" y="72.6" width="2.7" height="2.3" rx="1.1"/><rect x="562.1" y="86.8" width="2.7" height="2.3" rx="1.1"/><rect x="563.4" y="58.3" width="2.7" height="2.3" rx="1.1"/><rect x="563.6" y="63.1" width="2.7" height="2.3" rx="1.1"/><rect x="563.6" y="67.8" width="2.7" height="2.3" rx="1.1"/><rect x="563.6" y="72.6" width="2.7" height="2.3" rx="1.1"/><rect x="565.0" y="63.1" width="2.7" height="2.3" rx="1.1"/><rect x="564.7" y="77.3" width="2.7" height="2.3" rx="1.1"/><rect x="566.2" y="63.1" width="2.7" height="2.3" rx="1.1"/><rect x="566.0" y="67.8" width="2.7" height="2.3" rx="1.1"/><rect x="566.1" y="86.8" width="2.7" height="2.3" rx="1.1"/><rect x="567.4" y="58.3" width="2.7" height="2.3" rx="1.1"/><rect x="568.9" y="58.3" width="2.7" height="2.3" rx="1.1"/><rect x="568.9" y="63.1" width="2.7" height="2.3" rx="1.1"/><rect x="568.7" y="67.8" width="2.7" height="2.3" rx="1.1"/><rect x="568.9" y="72.6" width="2.7" height="2.3" rx="1.1"/><rect x="568.8" y="77.3" width="2.7" height="2.3" rx="1.1"/><rect x="568.8" y="82.1" width="2.7" height="2.3" rx="1.1"/><rect x="569.9" y="58.3" width="2.7" height="2.3" rx="1.1"/><rect x="570.2" y="67.8" width="2.7" height="2.3" rx="1.1"/><rect x="570.0" y="72.6" width="2.7" height="2.3" rx="1.1"/><rect x="570.1" y="82.1" width="2.7" height="2.3" rx="1.1"/><rect x="571.3" y="53.5" width="2.7" height="2.3" rx="1.1"/><rect x="571.4" y="63.1" width="2.7" height="2.3" rx="1.1"/><rect x="571.3" y="67.8" width="2.7" height="2.3" rx="1.1"/><rect x="572.7" y="53.5" width="2.7" height="2.3" rx="1.1"/><rect x="572.8" y="58.3" width="2.7" height="2.3" rx="1.1"/><rect x="572.5" y="63.1" width="2.7" height="2.3" rx="1.1"/><rect x="572.7" y="72.6" width="2.7" height="2.3" rx="1.1"/><rect x="572.5" y="91.6" width="2.7" height="2.3" rx="1.1"/><rect x="572.7" y="96.4" width="2.7" height="2.3" rx="1.1"/><rect x="574.5" y="58.3" width="2.7" height="2.3" rx="1.1"/><rect x="574.6" y="63.1" width="2.7" height="2.3" rx="1.1"/><rect x="574.7" y="72.6" width="2.7" height="2.3" rx="1.1"/><rect x="575.9" y="58.3" width="2.7" height="2.3" rx="1.1"/><rect x="575.9" y="63.1" width="2.7" height="2.3" rx="1.1"/><rect x="575.8" y="86.8" width="2.7" height="2.3" rx="1.1"/><rect x="577.2" y="53.5" width="2.7" height="2.3" rx="1.1"/><rect x="577.1" y="63.1" width="2.7" height="2.3" rx="1.1"/><rect x="578.6" y="58.3" width="2.7" height="2.3" rx="1.1"/><rect x="578.4" y="63.1" width="2.7" height="2.3" rx="1.1"/><rect x="578.7" y="77.3" width="2.7" height="2.3" rx="1.1"/><rect x="578.6" y="86.8" width="2.7" height="2.3" rx="1.1"/><rect x="579.9" y="63.1" width="2.7" height="2.3" rx="1.1"/><rect x="579.8" y="72.6" width="2.7" height="2.3" rx="1.1"/><rect x="579.8" y="86.8" width="2.7" height="2.3" rx="1.1"/><rect x="581.0" y="53.5" width="2.7" height="2.3" rx="1.1"/><rect x="581.1" y="63.1" width="2.7" height="2.3" rx="1.1"/><rect x="581.2" y="72.6" width="2.7" height="2.3" rx="1.1"/><rect x="581.0" y="86.8" width="2.7" height="2.3" rx="1.1"/><rect x="582.4" y="53.5" width="2.7" height="2.3" rx="1.1"/><rect x="582.6" y="67.8" width="2.7" height="2.3" rx="1.1"/><rect x="582.5" y="72.6" width="2.7" height="2.3" rx="1.1"/><rect x="583.7" y="53.5" width="2.7" height="2.3" rx="1.1"/><rect x="583.8" y="67.8" width="2.7" height="2.3" rx="1.1"/><rect x="583.6" y="72.6" width="2.7" height="2.3" rx="1.1"/><rect x="583.6" y="82.1" width="2.7" height="2.3" rx="1.1"/><rect x="584.9" y="58.3" width="2.7" height="2.3" rx="1.1"/><rect x="584.9" y="67.8" width="2.7" height="2.3" rx="1.1"/><rect x="586.2" y="58.3" width="2.7" height="2.3" rx="1.1"/><rect x="586.4" y="63.1" width="2.7" height="2.3" rx="1.1"/><rect x="586.4" y="67.8" width="2.7" height="2.3" rx="1.1"/><rect x="586.3" y="72.6" width="2.7" height="2.3" rx="1.1"/><rect x="587.8" y="58.3" width="2.7" height="2.3" rx="1.1"/><rect x="587.7" y="72.6" width="2.7" height="2.3" rx="1.1"/><rect x="589.0" y="53.5" width="2.7" height="2.3" rx="1.1"/><rect x="589.0" y="58.3" width="2.7" height="2.3" rx="1.1"/><rect x="588.8" y="63.1" width="2.7" height="2.3" rx="1.1"/><rect x="589.1" y="82.1" width="2.7" height="2.3" rx="1.1"/><rect x="590.3" y="58.3" width="2.7" height="2.3" rx="1.1"/><rect x="590.4" y="63.1" width="2.7" height="2.3" rx="1.1"/><rect x="591.5" y="58.3" width="2.7" height="2.3" rx="1.1"/><rect x="591.7" y="63.1" width="2.7" height="2.3" rx="1.1"/><rect x="592.7" y="53.5" width="2.7" height="2.3" rx="1.1"/><rect x="592.8" y="63.1" width="2.7" height="2.3" rx="1.1"/><rect x="592.7" y="67.8" width="2.7" height="2.3" rx="1.1"/><rect x="592.8" y="82.1" width="2.7" height="2.3" rx="1.1"/><rect x="592.7" y="86.8" width="2.7" height="2.3" rx="1.1"/><rect x="594.1" y="58.3" width="2.7" height="2.3" rx="1.1"/><rect x="594.3" y="67.8" width="2.7" height="2.3" rx="1.1"/><rect x="594.0" y="72.6" width="2.7" height="2.3" rx="1.1"/><rect x="595.3" y="53.5" width="2.7" height="2.3" rx="1.1"/><rect x="595.5" y="63.1" width="2.7" height="2.3" rx="1.1"/><rect x="596.8" y="58.3" width="2.7" height="2.3" rx="1.1"/><rect x="598.0" y="63.1" width="2.7" height="2.3" rx="1.1"/><rect x="599.2" y="53.5" width="2.7" height="2.3" rx="1.1"/><rect x="599.5" y="58.3" width="2.7" height="2.3" rx="1.1"/><rect x="599.5" y="63.1" width="2.7" height="2.3" rx="1.1"/><rect x="600.5" y="58.3" width="2.7" height="2.3" rx="1.1"/><rect x="600.6" y="96.4" width="2.7" height="2.3" rx="1.1"/><rect x="601.9" y="58.3" width="2.7" height="2.3" rx="1.1"/><rect x="602.1" y="63.1" width="2.7" height="2.3" rx="1.1"/><rect x="602.1" y="72.6" width="2.7" height="2.3" rx="1.1"/><rect x="603.2" y="63.1" width="2.7" height="2.3" rx="1.1"/><rect x="603.3" y="67.8" width="2.7" height="2.3" rx="1.1"/><rect x="603.4" y="72.6" width="2.7" height="2.3" rx="1.1"/><rect x="604.5" y="58.3" width="2.7" height="2.3" rx="1.1"/><rect x="604.7" y="67.8" width="2.7" height="2.3" rx="1.1"/><rect x="604.7" y="72.6" width="2.7" height="2.3" rx="1.1"/><rect x="604.4" y="77.3" width="2.7" height="2.3" rx="1.1"/><rect x="606.0" y="63.1" width="2.7" height="2.3" rx="1.1"/><rect x="605.8" y="77.3" width="2.7" height="2.3" rx="1.1"/><rect x="607.1" y="53.5" width="2.7" height="2.3" rx="1.1"/><rect x="607.3" y="58.3" width="2.7" height="2.3" rx="1.1"/><rect x="607.3" y="63.1" width="2.7" height="2.3" rx="1.1"/><rect x="607.0" y="67.8" width="2.7" height="2.3" rx="1.1"/><rect x="607.2" y="77.3" width="2.7" height="2.3" rx="1.1"/><rect x="608.6" y="53.5" width="2.7" height="2.3" rx="1.1"/><rect x="608.6" y="67.8" width="2.7" height="2.3" rx="1.1"/><rect x="609.7" y="63.1" width="2.7" height="2.3" rx="1.1"/><rect x="609.9" y="67.8" width="2.7" height="2.3" rx="1.1"/><rect x="611.2" y="53.5" width="2.7" height="2.3" rx="1.1"/><rect x="610.9" y="58.3" width="2.7" height="2.3" rx="1.1"/><rect x="611.2" y="63.1" width="2.7" height="2.3" rx="1.1"/><rect x="610.9" y="72.6" width="2.7" height="2.3" rx="1.1"/></g>
<g fill="#8a8a8a"><circle cx="301.0" cy="83.2" r="1.25"/><circle cx="300.8" cy="88.0" r="1.25"/><circle cx="301.2" cy="92.8" r="1.25"/><circle cx="300.9" cy="97.5" r="1.25"/><circle cx="302.9" cy="92.8" r="1.25"/><circle cx="304.5" cy="78.5" r="1.25"/><circle cx="304.5" cy="83.2" r="1.25"/><circle cx="304.5" cy="88.0" r="1.25"/><circle cx="304.7" cy="92.8" r="1.25"/><circle cx="304.6" cy="97.5" r="1.25"/><circle cx="306.4" cy="73.7" r="1.25"/><circle cx="306.4" cy="102.3" r="1.25"/><circle cx="319.0" cy="97.5" r="1.25"/><circle cx="319.1" cy="102.3" r="1.25"/><circle cx="321.0" cy="88.0" r="1.25"/><circle cx="321.1" cy="92.8" r="1.25"/><circle cx="321.0" cy="97.5" r="1.25"/><circle cx="321.0" cy="107.0" r="1.25"/><circle cx="321.2" cy="111.8" r="1.25"/><circle cx="323.0" cy="102.3" r="1.25"/><circle cx="323.1" cy="107.0" r="1.25"/><circle cx="323.1" cy="111.8" r="1.25"/><circle cx="325.2" cy="92.8" r="1.25"/><circle cx="325.1" cy="97.5" r="1.25"/><circle cx="324.8" cy="102.3" r="1.25"/><circle cx="324.8" cy="107.0" r="1.25"/><circle cx="327.1" cy="107.0" r="1.25"/><circle cx="326.9" cy="111.8" r="1.25"/><circle cx="327.1" cy="121.3" r="1.25"/><circle cx="327.1" cy="126.1" r="1.25"/><circle cx="329.0" cy="107.0" r="1.25"/><circle cx="328.9" cy="111.8" r="1.25"/><circle cx="329.2" cy="126.1" r="1.25"/><circle cx="329.0" cy="130.8" r="1.25"/><circle cx="329.1" cy="135.6" r="1.25"/><circle cx="331.1" cy="111.8" r="1.25"/><circle cx="330.9" cy="116.6" r="1.25"/><circle cx="330.8" cy="130.8" r="1.25"/><circle cx="331.2" cy="135.6" r="1.25"/><circle cx="332.9" cy="107.0" r="1.25"/><circle cx="333.0" cy="121.3" r="1.25"/><circle cx="332.8" cy="130.8" r="1.25"/><circle cx="333.2" cy="135.6" r="1.25"/><circle cx="334.9" cy="92.8" r="1.25"/><circle cx="335.2" cy="97.5" r="1.25"/><circle cx="334.9" cy="102.3" r="1.25"/><circle cx="334.9" cy="121.3" r="1.25"/><circle cx="334.8" cy="130.8" r="1.25"/><circle cx="336.9" cy="107.0" r="1.25"/><circle cx="337.0" cy="121.3" r="1.25"/><circle cx="337.2" cy="130.8" r="1.25"/><circle cx="339.1" cy="97.5" r="1.25"/><circle cx="339.1" cy="102.3" r="1.25"/><circle cx="339.1" cy="121.3" r="1.25"/><circle cx="340.9" cy="92.8" r="1.25"/><circle cx="341.0" cy="107.0" r="1.25"/><circle cx="343.1" cy="88.0" r="1.25"/><circle cx="343.1" cy="97.5" r="1.25"/><circle cx="343.1" cy="102.3" r="1.25"/><circle cx="343.0" cy="107.0" r="1.25"/><circle cx="345.1" cy="111.8" r="1.25"/><circle cx="347.1" cy="92.8" r="1.25"/><circle cx="347.1" cy="97.5" r="1.25"/><circle cx="346.9" cy="102.3" r="1.25"/><circle cx="347.1" cy="107.0" r="1.25"/><circle cx="347.0" cy="121.3" r="1.25"/><circle cx="349.1" cy="97.5" r="1.25"/><circle cx="348.8" cy="102.3" r="1.25"/><circle cx="349.0" cy="111.8" r="1.25"/><circle cx="350.8" cy="107.0" r="1.25"/><circle cx="353.1" cy="92.8" r="1.25"/><circle cx="353.0" cy="97.5" r="1.25"/><circle cx="353.1" cy="102.3" r="1.25"/><circle cx="352.9" cy="111.8" r="1.25"/><circle cx="353.2" cy="121.3" r="1.25"/><circle cx="354.9" cy="97.5" r="1.25"/><circle cx="355.0" cy="102.3" r="1.25"/><circle cx="357.1" cy="83.2" r="1.25"/><circle cx="357.1" cy="88.0" r="1.25"/><circle cx="357.0" cy="92.8" r="1.25"/><circle cx="358.9" cy="92.8" r="1.25"/><circle cx="358.9" cy="97.5" r="1.25"/><circle cx="361.1" cy="78.5" r="1.25"/><circle cx="360.9" cy="83.2" r="1.25"/><circle cx="360.9" cy="88.0" r="1.25"/><circle cx="361.2" cy="97.5" r="1.25"/><circle cx="361.1" cy="102.3" r="1.25"/><circle cx="363.1" cy="83.2" r="1.25"/><circle cx="363.2" cy="88.0" r="1.25"/><circle cx="363.2" cy="92.8" r="1.25"/><circle cx="362.9" cy="102.3" r="1.25"/><circle cx="365.0" cy="88.0" r="1.25"/><circle cx="365.2" cy="97.5" r="1.25"/><circle cx="364.9" cy="107.0" r="1.25"/><circle cx="367.0" cy="88.0" r="1.25"/><circle cx="367.1" cy="92.8" r="1.25"/><circle cx="367.0" cy="97.5" r="1.25"/><circle cx="366.9" cy="102.3" r="1.25"/><circle cx="369.0" cy="83.2" r="1.25"/><circle cx="369.0" cy="88.0" r="1.25"/><circle cx="368.9" cy="97.5" r="1.25"/><circle cx="368.9" cy="102.3" r="1.25"/><circle cx="368.9" cy="107.0" r="1.25"/><circle cx="371.0" cy="83.2" r="1.25"/><circle cx="371.2" cy="92.8" r="1.25"/><circle cx="371.0" cy="97.5" r="1.25"/><circle cx="371.0" cy="102.3" r="1.25"/><circle cx="388.2" cy="83.2" r="1.25"/><circle cx="387.9" cy="97.5" r="1.25"/><circle cx="421.0" cy="126.1" r="1.25"/><circle cx="425.1" cy="135.6" r="1.25"/><circle cx="429.0" cy="135.6" r="1.25"/><circle cx="433.1" cy="135.6" r="1.25"/><circle cx="438.8" cy="126.1" r="1.25"/><circle cx="444.9" cy="126.1" r="1.25"/><circle cx="453.0" cy="130.8" r="1.25"/><circle cx="456.9" cy="135.6" r="1.25"/><circle cx="470.8" cy="121.3" r="1.25"/><circle cx="471.0" cy="126.1" r="1.25"/><circle cx="475.2" cy="130.8" r="1.25"/><circle cx="476.9" cy="121.3" r="1.25"/><circle cx="479.0" cy="130.8" r="1.25"/><circle cx="481.1" cy="126.1" r="1.25"/><circle cx="483.1" cy="130.8" r="1.25"/><circle cx="487.1" cy="140.4" r="1.25"/><circle cx="487.1" cy="145.1" r="1.25"/><circle cx="489.2" cy="135.6" r="1.25"/><circle cx="489.0" cy="145.1" r="1.25"/><circle cx="490.9" cy="130.8" r="1.25"/><circle cx="491.2" cy="145.1" r="1.25"/><circle cx="492.9" cy="126.1" r="1.25"/><circle cx="494.8" cy="121.3" r="1.25"/><circle cx="497.1" cy="121.3" r="1.25"/><circle cx="506.9" cy="121.3" r="1.25"/><circle cx="511.1" cy="121.3" r="1.25"/><circle cx="514.8" cy="116.6" r="1.25"/><circle cx="531.2" cy="102.3" r="1.25"/><circle cx="538.9" cy="107.0" r="1.25"/><circle cx="542.8" cy="92.8" r="1.25"/><circle cx="544.1" cy="59.4" r="1.25"/><circle cx="543.9" cy="83.2" r="1.25"/><circle cx="546.8" cy="64.2" r="1.25"/><circle cx="549.4" cy="78.5" r="1.25"/><circle cx="550.5" cy="54.7" r="1.25"/><circle cx="554.7" cy="54.7" r="1.25"/><circle cx="557.1" cy="69.0" r="1.25"/><circle cx="557.0" cy="73.7" r="1.25"/><circle cx="558.3" cy="64.2" r="1.25"/><circle cx="560.8" cy="69.0" r="1.25"/><circle cx="567.7" cy="59.4" r="1.25"/><circle cx="567.4" cy="78.5" r="1.25"/><circle cx="567.5" cy="83.2" r="1.25"/><circle cx="569.0" cy="78.5" r="1.25"/><circle cx="577.2" cy="54.7" r="1.25"/><circle cx="582.6" cy="59.4" r="1.25"/><circle cx="583.8" cy="59.4" r="1.25"/><circle cx="585.3" cy="64.2" r="1.25"/><circle cx="602.0" cy="64.2" r="1.25"/><circle cx="609.9" cy="59.4" r="1.25"/><circle cx="612.5" cy="69.0" r="1.25"/></g>
<path d="M82.2,100.6 L85.0,103.0 L92.7,109.4 L97.0,105.0 L102.0,98.0 L106.5,96.0 L111.1,91.8 L114.0,94.0 L118.4,103.3 L122.3,95.0 L126.2,97.3 L131.5,108.5 L136.8,105.9 L142.0,108.5 L146.6,100.9 L153.8,97.6 L159.1,102.0 L164.6,105.9 L172.5,106.5 L177.7,102.6 L184.3,103.3 L189.6,102.0 L197.5,107.2 L204.0,105.2 L210.0,108.9 L215.2,105.9 L220.4,106.1 L225.7,104.6 L231.0,100.0 L236.2,100.0 L240.2,96.0 L244.1,92.7" fill="none" stroke="#ff0000" stroke-width="2.8" stroke-linejoin="round" stroke-linecap="round"/>
<path d="M298.5,102.2 L299.5,90.7 L301.5,89.8 L307.7,87.2 L309.1,79.2" fill="none" stroke="#ff0000" stroke-width="2.8" stroke-linejoin="round" stroke-linecap="round"/>
<path d="M318.4,93.4 L318.8,98.7 L321.9,97.8 L326.3,100.5 L327.5,115.0 L328.1,129.7 L329.5,125.0 L330.8,112.9 L332.6,109.3 L335.2,98.7 L339.6,96.0 L343.2,96.9 L346.5,102.2 L351.2,100.5 L354.0,95.0 L358.2,90.7 L362.7,91.2 L367.5,94.0 L373.0,95.0 L376.0,97.0 L381.0,97.3 L381.7,78.0 L384.5,85.5 L386.0,88.0 L389.0,96.0 L392.2,98.0 L395.3,98.0 L398.5,93.2 L401.0,94.8 L403.5,97.6 L406.7,96.0 L409.2,98.0 L412.4,104.9 L416.2,106.8" fill="none" stroke="#ff0000" stroke-width="2.8" stroke-linejoin="round" stroke-linecap="round"/>
<path d="M418.4,116.1 L420.6,116.9 L421.4,124.5 L424.4,129.8 L429.7,130.5 L432.8,126.8 L437.3,123.7 L438.1,119.2 L441.1,119.9 L444.9,112.3 L450.2,117.6 L454.0,127.5 L455.6,124.5 L459.3,123.7 L462.4,130.5 L465.4,135.1 L468.5,123.0 L471.5,111.6 L475.3,112.3 L480.6,119.9 L486.7,135.1 L489.7,127.5 L495.1,113.1 L498.8,115.4 L501.9,118.4 L504.9,112.3 L507.2,114.6 L511.0,114.6 L515.6,108.5 L520.1,110.8 L523.1,116.9 L526.9,112.3 L530.2,107.0 L531.2,93.2 L532.1,64.8 L533.9,62.2 L537.4,63.9 L540.1,68.4 L542.7,75.4 L545.4,71.0 L547.2,63.0 L549.8,61.3 L551.6,65.7 L555.1,71.9 L559.6,72.8 L562.2,67.5 L564.0,72.8 L567.5,74.6 L571.1,66.6 L575.5,62.2 L578.2,63.9 L583.5,62.2 L587.9,60.4 L592.3,58.6 L593.2,75.4 L595.0,82.5 L597.7,81.7 L598.6,91.4 L599.4,91.4 L600.3,63.0 L602.1,60.4 L606.5,60.9 L609.2,66.6 L611.0,79.0 L612.0,95.0 L612.7,100.0 L613.8,115.0 L614.8,133.0" fill="none" stroke="#ff0000" stroke-width="2.8" stroke-linejoin="round" stroke-linecap="round"/>
<circle cx="244.0" cy="92.8" r="2.3" fill="#ff0000"/>
<g fill="#0000ff"><circle cx="84.6" cy="282.3" r="1.3"/><circle cx="84.6" cy="280.8" r="1.3"/><circle cx="84.6" cy="277.4" r="1.3"/><circle cx="84.9" cy="278.4" r="1.3"/><circle cx="85.1" cy="277.8" r="1.3"/><circle cx="84.9" cy="278.4" r="1.3"/><circle cx="85.6" cy="279.8" r="1.3"/><circle cx="85.4" cy="283.5" r="1.3"/><circle cx="86.0" cy="280.2" r="1.3"/><circle cx="86.2" cy="277.6" r="1.3"/><circle cx="86.3" cy="279.4" r="1.3"/><circle cx="86.6" cy="276.5" r="1.3"/><circle cx="86.5" cy="283.5" r="1.3"/><circle cx="86.9" cy="281.9" r="1.3"/><circle cx="87.2" cy="278.0" r="1.3"/><circle cx="86.8" cy="280.2" r="1.3"/><circle cx="87.7" cy="280.1" r="1.3"/><circle cx="87.4" cy="278.9" r="1.3"/><circle cx="87.4" cy="278.3" r="1.3"/><circle cx="88.2" cy="281.9" r="1.3"/><circle cx="88.2" cy="278.3" r="1.3"/><circle cx="88.2" cy="275.5" r="1.3"/><circle cx="88.6" cy="281.5" r="1.3"/><circle cx="88.5" cy="282.5" r="1.3"/><circle cx="89.2" cy="281.0" r="1.3"/><circle cx="88.9" cy="281.0" r="1.3"/><circle cx="88.9" cy="280.5" r="1.3"/><circle cx="89.5" cy="276.3" r="1.3"/><circle cx="89.7" cy="280.2" r="1.3"/><circle cx="89.3" cy="282.0" r="1.3"/><circle cx="89.9" cy="277.9" r="1.3"/><circle cx="90.0" cy="281.3" r="1.3"/><circle cx="90.2" cy="279.4" r="1.3"/><circle cx="90.3" cy="275.6" r="1.3"/><circle cx="90.5" cy="279.1" r="1.3"/><circle cx="91.2" cy="277.9" r="1.3"/><circle cx="90.9" cy="278.0" r="1.3"/><circle cx="91.7" cy="278.9" r="1.3"/><circle cx="91.5" cy="277.8" r="1.3"/><circle cx="91.4" cy="277.1" r="1.3"/><circle cx="92.0" cy="281.3" r="1.3"/><circle cx="92.0" cy="276.2" r="1.3"/><circle cx="92.3" cy="276.9" r="1.3"/><circle cx="92.6" cy="280.6" r="1.3"/><circle cx="92.4" cy="279.8" r="1.3"/><circle cx="93.0" cy="278.0" r="1.3"/><circle cx="92.8" cy="274.8" r="1.3"/><circle cx="93.6" cy="276.7" r="1.3"/><circle cx="93.7" cy="279.8" r="1.3"/><circle cx="93.8" cy="277.8" r="1.3"/><circle cx="94.1" cy="275.4" r="1.3"/><circle cx="93.8" cy="277.3" r="1.3"/><circle cx="94.6" cy="278.1" r="1.3"/><circle cx="94.4" cy="276.8" r="1.3"/><circle cx="94.4" cy="274.9" r="1.3"/><circle cx="95.2" cy="276.7" r="1.3"/><circle cx="95.1" cy="275.9" r="1.3"/><circle cx="95.2" cy="277.7" r="1.3"/><circle cx="95.4" cy="277.2" r="1.3"/><circle cx="95.3" cy="280.3" r="1.3"/><circle cx="96.0" cy="277.6" r="1.3"/><circle cx="95.8" cy="275.2" r="1.3"/><circle cx="96.7" cy="272.4" r="1.3"/><circle cx="96.5" cy="279.2" r="1.3"/><circle cx="96.6" cy="278.0" r="1.3"/><circle cx="96.9" cy="277.6" r="1.3"/><circle cx="96.9" cy="277.8" r="1.3"/><circle cx="96.9" cy="278.1" r="1.3"/><circle cx="97.7" cy="279.7" r="1.3"/><circle cx="97.4" cy="279.8" r="1.3"/><circle cx="97.3" cy="278.9" r="1.3"/><circle cx="98.0" cy="274.6" r="1.3"/><circle cx="98.1" cy="273.9" r="1.3"/><circle cx="97.9" cy="277.9" r="1.3"/><circle cx="98.6" cy="276.5" r="1.3"/><circle cx="98.3" cy="278.7" r="1.3"/><circle cx="98.4" cy="276.4" r="1.3"/><circle cx="98.9" cy="278.9" r="1.3"/><circle cx="99.1" cy="278.7" r="1.3"/><circle cx="99.0" cy="279.4" r="1.3"/><circle cx="99.4" cy="279.1" r="1.3"/><circle cx="99.5" cy="280.3" r="1.3"/><circle cx="99.9" cy="279.2" r="1.3"/><circle cx="99.8" cy="279.2" r="1.3"/><circle cx="100.5" cy="278.6" r="1.3"/><circle cx="100.6" cy="278.3" r="1.3"/><circle cx="100.8" cy="278.5" r="1.3"/><circle cx="100.9" cy="280.7" r="1.3"/><circle cx="101.7" cy="283.4" r="1.3"/><circle cx="101.4" cy="282.3" r="1.3"/><circle cx="102.0" cy="280.0" r="1.3"/><circle cx="102.2" cy="283.8" r="1.3"/><circle cx="102.4" cy="280.7" r="1.3"/><circle cx="102.3" cy="281.3" r="1.3"/><circle cx="102.8" cy="283.8" r="1.3"/><circle cx="102.9" cy="279.4" r="1.3"/><circle cx="103.4" cy="280.8" r="1.3"/><circle cx="103.3" cy="281.7" r="1.3"/><circle cx="103.8" cy="281.4" r="1.3"/><circle cx="104.0" cy="282.5" r="1.3"/><circle cx="104.5" cy="284.6" r="1.3"/><circle cx="104.6" cy="282.3" r="1.3"/><circle cx="105.1" cy="283.8" r="1.3"/><circle cx="105.0" cy="282.6" r="1.3"/><circle cx="105.7" cy="284.5" r="1.3"/><circle cx="105.3" cy="286.2" r="1.3"/><circle cx="105.8" cy="285.3" r="1.3"/><circle cx="105.9" cy="284.4" r="1.3"/><circle cx="106.4" cy="284.6" r="1.3"/><circle cx="106.6" cy="283.0" r="1.3"/><circle cx="107.0" cy="287.6" r="1.3"/><circle cx="106.8" cy="286.1" r="1.3"/><circle cx="107.4" cy="283.2" r="1.3"/><circle cx="107.3" cy="285.4" r="1.3"/><circle cx="108.1" cy="283.5" r="1.3"/><circle cx="108.1" cy="287.3" r="1.3"/><circle cx="108.4" cy="287.0" r="1.3"/><circle cx="108.5" cy="287.9" r="1.3"/><circle cx="108.9" cy="288.2" r="1.3"/><circle cx="108.9" cy="288.2" r="1.3"/><circle cx="109.4" cy="286.5" r="1.3"/><circle cx="109.8" cy="288.0" r="1.3"/><circle cx="110.6" cy="286.9" r="1.3"/><circle cx="110.3" cy="288.5" r="1.3"/><circle cx="111.1" cy="287.4" r="1.3"/><circle cx="110.9" cy="287.2" r="1.3"/><circle cx="111.6" cy="283.9" r="1.3"/><circle cx="111.7" cy="285.6" r="1.3"/><circle cx="112.0" cy="287.7" r="1.3"/><circle cx="111.9" cy="286.3" r="1.3"/><circle cx="112.5" cy="283.7" r="1.3"/><circle cx="112.7" cy="287.0" r="1.3"/><circle cx="113.2" cy="286.0" r="1.3"/><circle cx="113.2" cy="280.8" r="1.3"/><circle cx="113.6" cy="281.4" r="1.3"/><circle cx="113.3" cy="283.5" r="1.3"/><circle cx="114.0" cy="280.3" r="1.3"/><circle cx="113.9" cy="274.5" r="1.3"/><circle cx="114.2" cy="276.3" r="1.3"/><circle cx="114.3" cy="279.3" r="1.3"/><circle cx="114.6" cy="273.5" r="1.3"/><circle cx="114.3" cy="278.6" r="1.3"/><circle cx="115.0" cy="270.6" r="1.3"/><circle cx="115.0" cy="276.6" r="1.3"/><circle cx="115.5" cy="267.7" r="1.3"/><circle cx="115.7" cy="268.1" r="1.3"/><circle cx="115.7" cy="273.5" r="1.3"/><circle cx="115.8" cy="273.0" r="1.3"/><circle cx="116.0" cy="271.4" r="1.3"/><circle cx="116.5" cy="274.4" r="1.3"/><circle cx="116.3" cy="274.9" r="1.3"/><circle cx="116.5" cy="270.2" r="1.3"/><circle cx="117.0" cy="273.7" r="1.3"/><circle cx="117.0" cy="275.6" r="1.3"/><circle cx="117.0" cy="272.6" r="1.3"/><circle cx="117.4" cy="269.0" r="1.3"/><circle cx="117.4" cy="271.5" r="1.3"/><circle cx="118.0" cy="269.6" r="1.3"/><circle cx="118.2" cy="273.4" r="1.3"/><circle cx="118.2" cy="275.2" r="1.3"/><circle cx="118.6" cy="271.9" r="1.3"/><circle cx="118.6" cy="271.1" r="1.3"/><circle cx="118.5" cy="274.4" r="1.3"/><circle cx="118.8" cy="272.3" r="1.3"/><circle cx="119.2" cy="276.3" r="1.3"/><circle cx="119.2" cy="270.3" r="1.3"/><circle cx="119.3" cy="275.7" r="1.3"/><circle cx="119.6" cy="275.1" r="1.3"/><circle cx="119.6" cy="273.9" r="1.3"/><circle cx="120.2" cy="275.2" r="1.3"/><circle cx="120.1" cy="274.6" r="1.3"/><circle cx="120.0" cy="276.2" r="1.3"/><circle cx="120.3" cy="273.2" r="1.3"/><circle cx="120.5" cy="273.3" r="1.3"/><circle cx="120.5" cy="272.6" r="1.3"/><circle cx="121.0" cy="272.8" r="1.3"/><circle cx="121.2" cy="270.1" r="1.3"/><circle cx="120.8" cy="276.1" r="1.3"/><circle cx="121.5" cy="275.2" r="1.3"/><circle cx="121.4" cy="271.9" r="1.3"/><circle cx="121.3" cy="277.8" r="1.3"/><circle cx="121.9" cy="274.3" r="1.3"/><circle cx="121.9" cy="270.5" r="1.3"/><circle cx="122.2" cy="277.8" r="1.3"/><circle cx="122.4" cy="276.9" r="1.3"/><circle cx="122.6" cy="274.7" r="1.3"/><circle cx="122.4" cy="272.5" r="1.3"/><circle cx="123.2" cy="278.7" r="1.3"/><circle cx="122.8" cy="276.2" r="1.3"/><circle cx="123.2" cy="277.4" r="1.3"/><circle cx="123.3" cy="271.5" r="1.3"/><circle cx="123.6" cy="271.6" r="1.3"/><circle cx="123.7" cy="277.2" r="1.3"/><circle cx="124.2" cy="280.1" r="1.3"/><circle cx="124.1" cy="272.2" r="1.3"/><circle cx="124.0" cy="275.3" r="1.3"/><circle cx="124.7" cy="277.8" r="1.3"/><circle cx="124.3" cy="273.2" r="1.3"/><circle cx="124.4" cy="276.3" r="1.3"/><circle cx="125.0" cy="278.1" r="1.3"/><circle cx="124.8" cy="277.3" r="1.3"/><circle cx="124.9" cy="279.2" r="1.3"/><circle cx="125.4" cy="275.9" r="1.3"/><circle cx="125.3" cy="274.2" r="1.3"/><circle cx="126.1" cy="273.4" r="1.3"/><circle cx="125.8" cy="271.6" r="1.3"/><circle cx="126.0" cy="272.0" r="1.3"/><circle cx="126.6" cy="277.4" r="1.3"/><circle cx="126.5" cy="272.4" r="1.3"/><circle cx="126.5" cy="272.6" r="1.3"/><circle cx="126.8" cy="272.2" r="1.3"/><circle cx="127.0" cy="277.0" r="1.3"/><circle cx="127.3" cy="271.2" r="1.3"/><circle cx="127.4" cy="272.8" r="1.3"/><circle cx="127.4" cy="276.2" r="1.3"/><circle cx="128.0" cy="273.4" r="1.3"/><circle cx="128.1" cy="277.6" r="1.3"/><circle cx="128.0" cy="277.8" r="1.3"/><circle cx="128.7" cy="274.6" r="1.3"/><circle cx="128.6" cy="273.3" r="1.3"/><circle cx="128.4" cy="271.1" r="1.3"/><circle cx="128.9" cy="276.4" r="1.3"/><circle cx="129.0" cy="274.8" r="1.3"/><circle cx="128.9" cy="271.5" r="1.3"/><circle cx="129.6" cy="275.1" r="1.3"/><circle cx="129.3" cy="276.7" r="1.3"/><circle cx="129.5" cy="270.4" r="1.3"/><circle cx="129.9" cy="278.1" r="1.3"/><circle cx="130.0" cy="272.9" r="1.3"/><circle cx="129.9" cy="272.6" r="1.3"/><circle cx="130.4" cy="278.0" r="1.3"/><circle cx="130.6" cy="277.0" r="1.3"/><circle cx="130.7" cy="276.6" r="1.3"/><circle cx="130.3" cy="269.9" r="1.3"/><circle cx="130.9" cy="275.3" r="1.3"/><circle cx="131.2" cy="276.0" r="1.3"/><circle cx="131.0" cy="272.1" r="1.3"/><circle cx="131.2" cy="277.9" r="1.3"/><circle cx="131.3" cy="280.5" r="1.3"/><circle cx="131.4" cy="279.0" r="1.3"/><circle cx="131.3" cy="276.8" r="1.3"/><circle cx="131.4" cy="279.5" r="1.3"/><circle cx="131.8" cy="271.8" r="1.3"/><circle cx="132.2" cy="280.5" r="1.3"/><circle cx="132.1" cy="277.2" r="1.3"/><circle cx="131.9" cy="272.6" r="1.3"/><circle cx="132.7" cy="270.3" r="1.3"/><circle cx="132.6" cy="273.6" r="1.3"/><circle cx="132.3" cy="274.6" r="1.3"/><circle cx="132.7" cy="272.5" r="1.3"/><circle cx="133.1" cy="277.0" r="1.3"/><circle cx="133.0" cy="271.9" r="1.3"/><circle cx="133.2" cy="271.2" r="1.3"/><circle cx="132.8" cy="272.6" r="1.3"/><circle cx="133.5" cy="276.0" r="1.3"/><circle cx="133.6" cy="279.6" r="1.3"/><circle cx="133.5" cy="270.6" r="1.3"/><circle cx="133.8" cy="273.6" r="1.3"/><circle cx="133.8" cy="276.6" r="1.3"/><circle cx="134.1" cy="271.6" r="1.3"/><circle cx="134.7" cy="276.6" r="1.3"/><circle cx="134.3" cy="276.6" r="1.3"/><circle cx="134.6" cy="273.7" r="1.3"/><circle cx="134.3" cy="276.3" r="1.3"/><circle cx="134.8" cy="270.1" r="1.3"/><circle cx="135.0" cy="269.7" r="1.3"/><circle cx="134.9" cy="274.3" r="1.3"/><circle cx="135.0" cy="272.7" r="1.3"/><circle cx="135.3" cy="271.0" r="1.3"/><circle cx="135.7" cy="276.9" r="1.3"/><circle cx="135.7" cy="275.8" r="1.3"/><circle cx="136.1" cy="272.8" r="1.3"/><circle cx="135.8" cy="269.2" r="1.3"/><circle cx="135.8" cy="276.3" r="1.3"/><circle cx="136.5" cy="271.8" r="1.3"/><circle cx="136.3" cy="273.7" r="1.3"/><circle cx="136.6" cy="274.7" r="1.3"/><circle cx="136.7" cy="269.4" r="1.3"/><circle cx="137.1" cy="273.0" r="1.3"/><circle cx="136.9" cy="269.1" r="1.3"/><circle cx="136.8" cy="274.5" r="1.3"/><circle cx="137.0" cy="274.3" r="1.3"/><circle cx="137.4" cy="270.4" r="1.3"/><circle cx="137.6" cy="274.4" r="1.3"/><circle cx="137.4" cy="272.4" r="1.3"/><circle cx="137.5" cy="274.2" r="1.3"/><circle cx="138.0" cy="268.2" r="1.3"/><circle cx="137.9" cy="273.8" r="1.3"/><circle cx="138.2" cy="267.6" r="1.3"/><circle cx="138.3" cy="274.0" r="1.3"/><circle cx="138.3" cy="272.4" r="1.3"/><circle cx="138.5" cy="269.7" r="1.3"/><circle cx="138.5" cy="268.1" r="1.3"/><circle cx="138.8" cy="272.9" r="1.3"/><circle cx="138.8" cy="264.7" r="1.3"/><circle cx="139.1" cy="270.0" r="1.3"/><circle cx="139.6" cy="272.7" r="1.3"/><circle cx="139.3" cy="263.4" r="1.3"/><circle cx="139.4" cy="271.1" r="1.3"/><circle cx="140.0" cy="270.8" r="1.3"/><circle cx="139.8" cy="268.4" r="1.3"/><circle cx="140.2" cy="270.6" r="1.3"/><circle cx="140.5" cy="265.9" r="1.3"/><circle cx="140.7" cy="270.7" r="1.3"/><circle cx="140.6" cy="266.2" r="1.3"/><circle cx="141.0" cy="270.5" r="1.3"/><circle cx="140.9" cy="271.3" r="1.3"/><circle cx="141.1" cy="267.4" r="1.3"/><circle cx="141.7" cy="267.9" r="1.3"/><circle cx="141.7" cy="263.4" r="1.3"/><circle cx="141.7" cy="269.5" r="1.3"/><circle cx="142.2" cy="264.6" r="1.3"/><circle cx="141.9" cy="269.3" r="1.3"/><circle cx="142.2" cy="266.4" r="1.3"/><circle cx="142.6" cy="264.3" r="1.3"/><circle cx="142.3" cy="264.6" r="1.3"/><circle cx="142.9" cy="266.7" r="1.3"/><circle cx="143.0" cy="265.2" r="1.3"/><circle cx="143.2" cy="271.1" r="1.3"/><circle cx="143.5" cy="267.6" r="1.3"/><circle cx="143.6" cy="267.9" r="1.3"/><circle cx="144.2" cy="271.1" r="1.3"/><circle cx="144.2" cy="266.5" r="1.3"/><circle cx="144.4" cy="267.5" r="1.3"/><circle cx="144.5" cy="273.3" r="1.3"/><circle cx="144.7" cy="273.1" r="1.3"/><circle cx="144.9" cy="267.4" r="1.3"/><circle cx="144.9" cy="267.7" r="1.3"/><circle cx="145.0" cy="269.2" r="1.3"/><circle cx="145.5" cy="271.0" r="1.3"/><circle cx="145.4" cy="271.9" r="1.3"/><circle cx="146.1" cy="270.1" r="1.3"/><circle cx="146.0" cy="268.9" r="1.3"/><circle cx="146.5" cy="270.9" r="1.3"/><circle cx="146.3" cy="272.5" r="1.3"/><circle cx="146.7" cy="272.5" r="1.3"/><circle cx="147.0" cy="268.0" r="1.3"/><circle cx="146.9" cy="271.6" r="1.3"/><circle cx="147.3" cy="266.8" r="1.3"/><circle cx="147.4" cy="269.0" r="1.3"/><circle cx="147.8" cy="272.1" r="1.3"/><circle cx="147.9" cy="272.5" r="1.3"/><circle cx="148.4" cy="267.7" r="1.3"/><circle cx="148.7" cy="270.4" r="1.3"/><circle cx="148.8" cy="270.0" r="1.3"/><circle cx="149.1" cy="272.8" r="1.3"/><circle cx="149.3" cy="268.8" r="1.3"/><circle cx="149.7" cy="269.8" r="1.3"/><circle cx="149.9" cy="266.5" r="1.3"/><circle cx="150.2" cy="268.0" r="1.3"/><circle cx="150.4" cy="270.2" r="1.3"/><circle cx="150.7" cy="272.5" r="1.3"/><circle cx="150.9" cy="271.8" r="1.3"/><circle cx="150.8" cy="269.4" r="1.3"/><circle cx="151.4" cy="269.3" r="1.3"/><circle cx="151.5" cy="268.6" r="1.3"/><circle cx="152.1" cy="268.0" r="1.3"/><circle cx="152.2" cy="267.9" r="1.3"/><circle cx="152.4" cy="268.6" r="1.3"/><circle cx="152.3" cy="273.2" r="1.3"/><circle cx="153.0" cy="272.2" r="1.3"/><circle cx="153.2" cy="272.9" r="1.3"/><circle cx="153.4" cy="271.0" r="1.3"/><circle cx="153.7" cy="272.1" r="1.3"/><circle cx="154.2" cy="270.7" r="1.3"/><circle cx="154.0" cy="272.8" r="1.3"/><circle cx="154.7" cy="269.1" r="1.3"/><circle cx="154.5" cy="271.6" r="1.3"/><circle cx="155.2" cy="271.2" r="1.3"/><circle cx="154.8" cy="271.1" r="1.3"/><circle cx="155.5" cy="268.9" r="1.3"/><circle cx="155.3" cy="272.0" r="1.3"/><circle cx="155.9" cy="271.9" r="1.3"/><circle cx="156.2" cy="272.2" r="1.3"/><circle cx="156.3" cy="271.2" r="1.3"/><circle cx="156.5" cy="269.5" r="1.3"/><circle cx="157.0" cy="268.5" r="1.3"/><circle cx="157.0" cy="271.7" r="1.3"/><circle cx="157.3" cy="270.0" r="1.3"/><circle cx="157.3" cy="268.0" r="1.3"/><circle cx="158.2" cy="268.0" r="1.3"/><circle cx="157.9" cy="268.6" r="1.3"/><circle cx="158.5" cy="269.1" r="1.3"/><circle cx="158.4" cy="269.5" r="1.3"/><circle cx="158.8" cy="268.4" r="1.3"/><circle cx="159.0" cy="269.6" r="1.3"/><circle cx="159.6" cy="268.1" r="1.3"/><circle cx="159.4" cy="265.8" r="1.3"/><circle cx="160.1" cy="266.8" r="1.3"/><circle cx="160.0" cy="267.7" r="1.3"/><circle cx="160.5" cy="265.2" r="1.3"/><circle cx="160.5" cy="266.8" r="1.3"/><circle cx="161.2" cy="266.6" r="1.3"/><circle cx="161.4" cy="266.7" r="1.3"/><circle cx="161.6" cy="264.8" r="1.3"/><circle cx="162.2" cy="265.2" r="1.3"/><circle cx="162.2" cy="265.4" r="1.3"/><circle cx="162.7" cy="263.9" r="1.3"/><circle cx="162.4" cy="268.1" r="1.3"/><circle cx="162.9" cy="265.1" r="1.3"/><circle cx="163.1" cy="265.9" r="1.3"/><circle cx="163.6" cy="262.0" r="1.3"/><circle cx="163.3" cy="262.2" r="1.3"/><circle cx="163.8" cy="264.8" r="1.3"/><circle cx="164.1" cy="262.8" r="1.3"/><circle cx="164.5" cy="267.2" r="1.3"/><circle cx="164.4" cy="265.1" r="1.3"/><circle cx="164.9" cy="265.9" r="1.3"/><circle cx="164.8" cy="262.4" r="1.3"/><circle cx="165.7" cy="264.1" r="1.3"/><circle cx="165.3" cy="262.9" r="1.3"/><circle cx="166.2" cy="261.8" r="1.3"/><circle cx="166.1" cy="263.6" r="1.3"/><circle cx="166.5" cy="264.0" r="1.3"/><circle cx="166.7" cy="266.9" r="1.3"/><circle cx="167.1" cy="265.6" r="1.3"/><circle cx="166.8" cy="261.6" r="1.3"/><circle cx="167.6" cy="265.3" r="1.3"/><circle cx="167.4" cy="263.1" r="1.3"/><circle cx="168.0" cy="261.8" r="1.3"/><circle cx="167.9" cy="263.7" r="1.3"/><circle cx="168.7" cy="267.0" r="1.3"/><circle cx="168.7" cy="261.9" r="1.3"/><circle cx="168.5" cy="262.5" r="1.3"/><circle cx="169.2" cy="266.4" r="1.3"/><circle cx="169.1" cy="262.7" r="1.3"/><circle cx="169.3" cy="266.8" r="1.3"/><circle cx="169.7" cy="265.0" r="1.3"/><circle cx="169.4" cy="266.9" r="1.3"/><circle cx="169.9" cy="262.3" r="1.3"/><circle cx="170.2" cy="264.5" r="1.3"/><circle cx="170.7" cy="265.3" r="1.3"/><circle cx="170.7" cy="266.4" r="1.3"/><circle cx="171.2" cy="262.1" r="1.3"/><circle cx="171.1" cy="262.9" r="1.3"/><circle cx="171.4" cy="267.6" r="1.3"/><circle cx="171.3" cy="264.0" r="1.3"/><circle cx="172.2" cy="264.2" r="1.3"/><circle cx="172.1" cy="264.4" r="1.3"/><circle cx="172.1" cy="263.1" r="1.3"/><circle cx="172.6" cy="265.5" r="1.3"/><circle cx="172.7" cy="262.7" r="1.3"/><circle cx="172.7" cy="265.8" r="1.3"/><circle cx="173.0" cy="264.4" r="1.3"/><circle cx="172.8" cy="260.8" r="1.3"/><circle cx="173.3" cy="260.1" r="1.3"/><circle cx="173.6" cy="265.5" r="1.3"/><circle cx="173.6" cy="261.3" r="1.3"/><circle cx="174.2" cy="264.5" r="1.3"/><circle cx="173.9" cy="264.0" r="1.3"/><circle cx="173.9" cy="261.6" r="1.3"/><circle cx="174.7" cy="265.4" r="1.3"/><circle cx="174.7" cy="261.5" r="1.3"/><circle cx="174.4" cy="264.3" r="1.3"/><circle cx="174.9" cy="265.3" r="1.3"/><circle cx="175.0" cy="268.4" r="1.3"/><circle cx="175.0" cy="266.2" r="1.3"/><circle cx="175.6" cy="264.6" r="1.3"/><circle cx="175.3" cy="269.8" r="1.3"/><circle cx="175.6" cy="262.6" r="1.3"/><circle cx="175.9" cy="267.8" r="1.3"/><circle cx="175.8" cy="262.5" r="1.3"/><circle cx="176.0" cy="262.4" r="1.3"/><circle cx="176.4" cy="263.9" r="1.3"/><circle cx="176.3" cy="264.4" r="1.3"/><circle cx="176.4" cy="264.9" r="1.3"/><circle cx="176.9" cy="264.8" r="1.3"/><circle cx="176.8" cy="268.7" r="1.3"/><circle cx="177.1" cy="266.1" r="1.3"/><circle cx="177.4" cy="268.9" r="1.3"/><circle cx="177.5" cy="263.8" r="1.3"/><circle cx="177.7" cy="268.8" r="1.3"/><circle cx="178.0" cy="266.2" r="1.3"/><circle cx="177.8" cy="264.5" r="1.3"/><circle cx="178.1" cy="266.9" r="1.3"/><circle cx="178.6" cy="264.8" r="1.3"/><circle cx="178.3" cy="262.4" r="1.3"/><circle cx="179.2" cy="267.9" r="1.3"/><circle cx="178.8" cy="267.0" r="1.3"/><circle cx="179.4" cy="263.5" r="1.3"/><circle cx="179.7" cy="267.0" r="1.3"/><circle cx="179.9" cy="267.4" r="1.3"/><circle cx="179.9" cy="265.4" r="1.3"/><circle cx="180.4" cy="263.2" r="1.3"/><circle cx="180.3" cy="265.3" r="1.3"/><circle cx="180.8" cy="261.5" r="1.3"/><circle cx="181.1" cy="263.3" r="1.3"/><circle cx="181.7" cy="262.6" r="1.3"/><circle cx="181.4" cy="261.6" r="1.3"/><circle cx="181.9" cy="258.6" r="1.3"/><circle cx="181.8" cy="259.5" r="1.3"/><circle cx="182.6" cy="257.2" r="1.3"/><circle cx="183.0" cy="257.9" r="1.3"/><circle cx="182.8" cy="256.1" r="1.3"/><circle cx="183.6" cy="256.0" r="1.3"/><circle cx="183.6" cy="256.7" r="1.3"/><circle cx="184.0" cy="257.2" r="1.3"/><circle cx="184.2" cy="257.4" r="1.3"/><circle cx="184.5" cy="259.5" r="1.3"/><circle cx="184.7" cy="259.2" r="1.3"/><circle cx="185.1" cy="258.7" r="1.3"/><circle cx="185.2" cy="260.2" r="1.3"/><circle cx="185.4" cy="258.4" r="1.3"/><circle cx="185.5" cy="256.8" r="1.3"/><circle cx="185.9" cy="259.1" r="1.3"/><circle cx="186.0" cy="257.8" r="1.3"/><circle cx="186.6" cy="260.6" r="1.3"/><circle cx="186.7" cy="259.7" r="1.3"/><circle cx="187.1" cy="258.2" r="1.3"/><circle cx="187.2" cy="258.0" r="1.3"/><circle cx="187.3" cy="258.1" r="1.3"/><circle cx="187.5" cy="257.3" r="1.3"/><circle cx="188.0" cy="256.1" r="1.3"/><circle cx="187.8" cy="258.1" r="1.3"/><circle cx="188.5" cy="258.2" r="1.3"/><circle cx="188.4" cy="256.1" r="1.3"/><circle cx="189.0" cy="260.2" r="1.3"/><circle cx="188.9" cy="257.0" r="1.3"/><circle cx="189.6" cy="257.4" r="1.3"/><circle cx="189.6" cy="254.9" r="1.3"/><circle cx="189.9" cy="256.4" r="1.3"/><circle cx="189.9" cy="256.5" r="1.3"/><circle cx="190.5" cy="257.2" r="1.3"/><circle cx="191.1" cy="257.0" r="1.3"/><circle cx="191.4" cy="253.9" r="1.3"/><circle cx="191.7" cy="256.4" r="1.3"/><circle cx="191.8" cy="257.1" r="1.3"/><circle cx="191.9" cy="256.6" r="1.3"/><circle cx="192.7" cy="254.9" r="1.3"/><circle cx="192.4" cy="257.5" r="1.3"/><circle cx="192.9" cy="255.2" r="1.3"/><circle cx="193.2" cy="253.4" r="1.3"/><circle cx="193.6" cy="253.0" r="1.3"/><circle cx="193.5" cy="256.4" r="1.3"/><circle cx="194.1" cy="253.1" r="1.3"/><circle cx="194.2" cy="254.2" r="1.3"/><circle cx="194.5" cy="256.5" r="1.3"/><circle cx="194.9" cy="253.0" r="1.3"/><circle cx="195.0" cy="252.6" r="1.3"/><circle cx="195.7" cy="254.7" r="1.3"/><circle cx="195.7" cy="252.9" r="1.3"/><circle cx="196.0" cy="252.6" r="1.3"/><circle cx="195.9" cy="255.9" r="1.3"/><circle cx="196.5" cy="254.5" r="1.3"/><circle cx="197.2" cy="254.2" r="1.3"/><circle cx="197.7" cy="252.4" r="1.3"/><circle cx="197.4" cy="252.3" r="1.3"/><circle cx="198.0" cy="253.4" r="1.3"/><circle cx="198.0" cy="252.2" r="1.3"/><circle cx="198.5" cy="252.5" r="1.3"/><circle cx="199.2" cy="254.3" r="1.3"/><circle cx="199.3" cy="252.3" r="1.3"/><circle cx="199.9" cy="253.1" r="1.3"/><circle cx="200.3" cy="252.6" r="1.3"/><circle cx="201.2" cy="252.6" r="1.3"/><circle cx="201.5" cy="253.0" r="1.3"/><circle cx="201.6" cy="252.0" r="1.3"/><circle cx="202.2" cy="251.8" r="1.3"/><circle cx="202.1" cy="252.0" r="1.3"/><circle cx="202.5" cy="254.5" r="1.3"/><circle cx="203.2" cy="252.8" r="1.3"/><circle cx="202.8" cy="252.4" r="1.3"/><circle cx="203.4" cy="255.0" r="1.3"/><circle cx="203.4" cy="254.3" r="1.3"/><circle cx="204.0" cy="254.1" r="1.3"/><circle cx="203.8" cy="254.2" r="1.3"/><circle cx="204.4" cy="255.0" r="1.3"/><circle cx="204.8" cy="253.4" r="1.3"/><circle cx="205.4" cy="254.2" r="1.3"/><circle cx="205.7" cy="255.0" r="1.3"/><circle cx="205.8" cy="254.2" r="1.3"/><circle cx="206.5" cy="254.1" r="1.3"/><circle cx="206.8" cy="252.0" r="1.3"/><circle cx="207.6" cy="252.4" r="1.3"/><circle cx="207.7" cy="251.2" r="1.3"/><circle cx="208.2" cy="251.3" r="1.3"/><circle cx="207.9" cy="252.4" r="1.3"/><circle cx="208.6" cy="252.4" r="1.3"/><circle cx="208.5" cy="251.9" r="1.3"/><circle cx="209.1" cy="251.8" r="1.3"/><circle cx="209.1" cy="251.6" r="1.3"/><circle cx="209.4" cy="251.8" r="1.3"/><circle cx="209.3" cy="250.7" r="1.3"/><circle cx="210.1" cy="251.5" r="1.3"/><circle cx="210.7" cy="251.5" r="1.3"/><circle cx="211.0" cy="252.1" r="1.3"/><circle cx="211.5" cy="251.3" r="1.3"/><circle cx="212.1" cy="250.3" r="1.3"/><circle cx="212.4" cy="250.9" r="1.3"/><circle cx="212.8" cy="250.9" r="1.3"/><circle cx="213.5" cy="251.7" r="1.3"/><circle cx="214.1" cy="250.4" r="1.3"/><circle cx="214.5" cy="251.0" r="1.3"/><circle cx="214.4" cy="251.6" r="1.3"/><circle cx="214.9" cy="250.4" r="1.3"/><circle cx="215.7" cy="252.1" r="1.3"/><circle cx="215.8" cy="251.3" r="1.3"/><circle cx="216.7" cy="251.5" r="1.3"/><circle cx="216.4" cy="250.9" r="1.3"/><circle cx="216.8" cy="250.8" r="1.3"/><circle cx="217.6" cy="251.3" r="1.3"/><circle cx="217.9" cy="250.6" r="1.3"/><circle cx="217.8" cy="251.4" r="1.3"/><circle cx="218.7" cy="251.3" r="1.3"/><circle cx="219.0" cy="251.2" r="1.3"/><circle cx="219.5" cy="252.1" r="1.3"/><circle cx="219.8" cy="250.9" r="1.3"/><circle cx="220.6" cy="251.1" r="1.3"/><circle cx="220.5" cy="252.1" r="1.3"/><circle cx="220.8" cy="249.9" r="1.3"/><circle cx="221.5" cy="251.4" r="1.3"/><circle cx="221.8" cy="250.8" r="1.3"/><circle cx="222.6" cy="249.3" r="1.3"/><circle cx="223.2" cy="250.9" r="1.3"/><circle cx="222.8" cy="251.5" r="1.3"/><circle cx="223.7" cy="251.2" r="1.3"/><circle cx="223.8" cy="250.4" r="1.3"/><circle cx="224.4" cy="248.9" r="1.3"/><circle cx="225.1" cy="248.1" r="1.3"/><circle cx="225.5" cy="251.9" r="1.3"/><circle cx="225.6" cy="251.5" r="1.3"/><circle cx="226.0" cy="248.4" r="1.3"/><circle cx="225.9" cy="248.3" r="1.3"/><circle cx="226.3" cy="250.2" r="1.3"/><circle cx="226.6" cy="251.2" r="1.3"/><circle cx="226.8" cy="250.9" r="1.3"/><circle cx="227.7" cy="249.1" r="1.3"/><circle cx="227.3" cy="250.0" r="1.3"/><circle cx="228.2" cy="249.1" r="1.3"/><circle cx="228.2" cy="248.9" r="1.3"/><circle cx="228.6" cy="249.2" r="1.3"/><circle cx="228.5" cy="247.4" r="1.3"/><circle cx="229.1" cy="246.7" r="1.3"/><circle cx="228.8" cy="247.8" r="1.3"/><circle cx="229.3" cy="246.4" r="1.3"/><circle cx="229.9" cy="247.8" r="1.3"/><circle cx="230.3" cy="246.2" r="1.3"/><circle cx="230.7" cy="247.3" r="1.3"/><circle cx="231.1" cy="246.2" r="1.3"/><circle cx="231.0" cy="246.3" r="1.3"/><circle cx="231.3" cy="245.9" r="1.3"/><circle cx="231.3" cy="244.5" r="1.3"/><circle cx="232.0" cy="244.7" r="1.3"/><circle cx="232.5" cy="244.2" r="1.3"/><circle cx="232.8" cy="244.0" r="1.3"/><circle cx="233.7" cy="245.4" r="1.3"/><circle cx="233.6" cy="243.5" r="1.3"/><circle cx="233.9" cy="244.9" r="1.3"/><circle cx="234.6" cy="244.5" r="1.3"/><circle cx="235.2" cy="244.1" r="1.3"/><circle cx="235.7" cy="244.4" r="1.3"/><circle cx="235.9" cy="244.8" r="1.3"/><circle cx="236.6" cy="246.4" r="1.3"/><circle cx="237.2" cy="246.1" r="1.3"/><circle cx="237.6" cy="248.2" r="1.3"/><circle cx="237.5" cy="247.4" r="1.3"/><circle cx="238.1" cy="248.4" r="1.3"/><circle cx="238.2" cy="250.2" r="1.3"/><circle cx="238.4" cy="248.9" r="1.3"/><circle cx="238.9" cy="247.7" r="1.3"/><circle cx="239.0" cy="250.2" r="1.3"/><circle cx="239.4" cy="248.3" r="1.3"/><circle cx="239.8" cy="249.7" r="1.3"/><circle cx="240.3" cy="249.9" r="1.3"/><circle cx="240.9" cy="248.8" r="1.3"/><circle cx="241.5" cy="248.0" r="1.3"/><circle cx="129.1" cy="251.5" r="1.3"/><circle cx="129.6" cy="254.6" r="1.3"/><circle cx="129.5" cy="256.1" r="1.3"/><circle cx="128.9" cy="259.4" r="1.3"/><circle cx="129.2" cy="261.1" r="1.3"/><circle cx="129.8" cy="263.0" r="1.3"/><circle cx="129.4" cy="265.0" r="1.3"/><circle cx="129.4" cy="268.2" r="1.3"/><circle cx="141.1" cy="264.4" r="1.3"/><circle cx="141.2" cy="262.7" r="1.3"/><circle cx="141.6" cy="260.4" r="1.3"/><circle cx="141.7" cy="262.9" r="1.3"/><circle cx="142.1" cy="257.0" r="1.3"/><circle cx="141.9" cy="258.4" r="1.3"/><circle cx="142.6" cy="258.0" r="1.3"/><circle cx="142.7" cy="255.9" r="1.3"/><circle cx="142.9" cy="256.0" r="1.3"/><circle cx="143.2" cy="258.7" r="1.3"/><circle cx="142.9" cy="263.3" r="1.3"/><circle cx="143.6" cy="259.4" r="1.3"/><circle cx="143.5" cy="264.3" r="1.3"/><circle cx="170.8" cy="252.9" r="1.3"/><circle cx="171.0" cy="254.3" r="1.3"/><circle cx="170.6" cy="256.5" r="1.3"/><circle cx="171.3" cy="258.2" r="1.3"/><circle cx="170.6" cy="260.6" r="1.3"/><circle cx="301.5" cy="213.5" r="1.3"/><circle cx="301.4" cy="213.8" r="1.3"/><circle cx="301.8" cy="214.6" r="1.3"/><circle cx="301.8" cy="213.5" r="1.3"/><circle cx="302.3" cy="211.8" r="1.3"/><circle cx="302.5" cy="211.4" r="1.3"/><circle cx="302.5" cy="211.5" r="1.3"/><circle cx="302.6" cy="210.4" r="1.3"/><circle cx="302.9" cy="212.4" r="1.3"/><circle cx="302.9" cy="210.6" r="1.3"/><circle cx="303.5" cy="208.9" r="1.3"/><circle cx="303.6" cy="209.4" r="1.3"/><circle cx="303.9" cy="208.2" r="1.3"/><circle cx="304.0" cy="209.3" r="1.3"/><circle cx="304.5" cy="205.2" r="1.3"/><circle cx="304.3" cy="205.4" r="1.3"/><circle cx="304.8" cy="206.7" r="1.3"/><circle cx="304.9" cy="207.8" r="1.3"/><circle cx="304.9" cy="204.8" r="1.3"/><circle cx="305.3" cy="205.7" r="1.3"/><circle cx="305.5" cy="203.7" r="1.3"/><circle cx="305.7" cy="205.7" r="1.3"/><circle cx="320.1" cy="182.0" r="1.3"/><circle cx="320.0" cy="179.2" r="1.3"/><circle cx="320.7" cy="180.0" r="1.3"/><circle cx="320.6" cy="178.6" r="1.3"/><circle cx="321.2" cy="179.4" r="1.3"/><circle cx="320.9" cy="180.2" r="1.3"/><circle cx="321.4" cy="177.5" r="1.3"/><circle cx="321.6" cy="179.6" r="1.3"/><circle cx="322.2" cy="180.8" r="1.3"/><circle cx="322.2" cy="180.6" r="1.3"/><circle cx="322.3" cy="180.7" r="1.3"/><circle cx="322.7" cy="178.5" r="1.3"/><circle cx="322.6" cy="177.4" r="1.3"/><circle cx="322.8" cy="177.3" r="1.3"/><circle cx="322.9" cy="174.6" r="1.3"/><circle cx="323.2" cy="177.5" r="1.3"/><circle cx="323.4" cy="176.8" r="1.3"/><circle cx="323.4" cy="178.5" r="1.3"/><circle cx="324.1" cy="176.0" r="1.3"/><circle cx="323.9" cy="173.0" r="1.3"/><circle cx="324.0" cy="175.8" r="1.3"/><circle cx="324.4" cy="173.0" r="1.3"/><circle cx="324.4" cy="176.9" r="1.3"/><circle cx="325.1" cy="172.8" r="1.3"/><circle cx="324.8" cy="177.4" r="1.3"/><circle cx="325.0" cy="173.4" r="1.3"/><circle cx="325.7" cy="176.2" r="1.3"/><circle cx="325.5" cy="176.4" r="1.3"/><circle cx="325.5" cy="173.8" r="1.3"/><circle cx="326.0" cy="176.8" r="1.3"/><circle cx="325.9" cy="175.7" r="1.3"/><circle cx="333.2" cy="168.8" r="1.3"/><circle cx="333.1" cy="169.5" r="1.3"/><circle cx="333.3" cy="172.0" r="1.3"/><circle cx="333.3" cy="171.3" r="1.3"/><circle cx="333.8" cy="171.1" r="1.3"/><circle cx="334.1" cy="173.3" r="1.3"/><circle cx="334.2" cy="173.5" r="1.3"/><circle cx="334.3" cy="177.0" r="1.3"/><circle cx="334.5" cy="176.4" r="1.3"/><circle cx="335.2" cy="176.9" r="1.3"/><circle cx="334.9" cy="176.5" r="1.3"/><circle cx="334.8" cy="177.4" r="1.3"/><circle cx="335.6" cy="177.7" r="1.3"/><circle cx="335.6" cy="180.1" r="1.3"/><circle cx="335.6" cy="181.9" r="1.3"/><circle cx="336.1" cy="181.4" r="1.3"/><circle cx="336.2" cy="183.8" r="1.3"/><circle cx="336.1" cy="182.5" r="1.3"/><circle cx="336.7" cy="187.0" r="1.3"/><circle cx="336.7" cy="183.6" r="1.3"/><circle cx="336.7" cy="185.5" r="1.3"/><circle cx="337.2" cy="185.8" r="1.3"/><circle cx="336.9" cy="187.6" r="1.3"/><circle cx="337.5" cy="189.6" r="1.3"/><circle cx="337.3" cy="185.2" r="1.3"/><circle cx="339.1" cy="180.0" r="1.3"/><circle cx="339.1" cy="180.3" r="1.3"/><circle cx="339.6" cy="179.7" r="1.3"/><circle cx="339.9" cy="177.1" r="1.3"/><circle cx="339.8" cy="178.2" r="1.3"/><circle cx="340.3" cy="178.4" r="1.3"/><circle cx="340.3" cy="177.4" r="1.3"/><circle cx="340.6" cy="179.8" r="1.3"/><circle cx="341.0" cy="180.3" r="1.3"/><circle cx="340.9" cy="175.5" r="1.3"/><circle cx="340.8" cy="178.8" r="1.3"/><circle cx="341.7" cy="175.5" r="1.3"/><circle cx="341.6" cy="180.8" r="1.3"/><circle cx="342.2" cy="174.9" r="1.3"/><circle cx="341.9" cy="178.1" r="1.3"/><circle cx="342.1" cy="177.4" r="1.3"/><circle cx="342.7" cy="176.4" r="1.3"/><circle cx="342.5" cy="174.6" r="1.3"/><circle cx="342.5" cy="179.9" r="1.3"/><circle cx="343.1" cy="173.5" r="1.3"/><circle cx="342.8" cy="176.9" r="1.3"/><circle cx="342.9" cy="173.8" r="1.3"/><circle cx="343.4" cy="168.9" r="1.3"/><circle cx="343.4" cy="169.6" r="1.3"/><circle cx="344.0" cy="167.4" r="1.3"/><circle cx="343.9" cy="171.0" r="1.3"/><circle cx="344.4" cy="172.7" r="1.3"/><circle cx="344.5" cy="167.5" r="1.3"/><circle cx="344.5" cy="166.6" r="1.3"/><circle cx="345.1" cy="165.0" r="1.3"/><circle cx="345.0" cy="166.7" r="1.3"/><circle cx="345.1" cy="169.2" r="1.3"/><circle cx="345.6" cy="165.4" r="1.3"/><circle cx="345.3" cy="169.4" r="1.3"/><circle cx="345.8" cy="166.8" r="1.3"/><circle cx="345.9" cy="167.2" r="1.3"/><circle cx="346.5" cy="168.8" r="1.3"/><circle cx="346.6" cy="165.4" r="1.3"/><circle cx="346.9" cy="166.4" r="1.3"/><circle cx="347.0" cy="167.8" r="1.3"/><circle cx="346.8" cy="169.0" r="1.3"/><circle cx="347.4" cy="168.6" r="1.3"/><circle cx="347.7" cy="165.2" r="1.3"/><circle cx="347.7" cy="162.9" r="1.3"/><circle cx="347.9" cy="162.5" r="1.3"/><circle cx="348.1" cy="163.4" r="1.3"/><circle cx="348.3" cy="163.1" r="1.3"/><circle cx="348.4" cy="162.9" r="1.3"/><circle cx="348.9" cy="166.8" r="1.3"/><circle cx="349.0" cy="168.2" r="1.3"/><circle cx="349.3" cy="167.6" r="1.3"/><circle cx="349.7" cy="165.6" r="1.3"/><circle cx="349.8" cy="164.0" r="1.3"/><circle cx="349.9" cy="163.4" r="1.3"/><circle cx="350.4" cy="166.8" r="1.3"/><circle cx="350.5" cy="167.1" r="1.3"/><circle cx="351.2" cy="165.7" r="1.3"/><circle cx="351.1" cy="164.1" r="1.3"/><circle cx="351.1" cy="165.1" r="1.3"/><circle cx="351.5" cy="163.9" r="1.3"/><circle cx="351.4" cy="167.4" r="1.3"/><circle cx="352.1" cy="166.5" r="1.3"/><circle cx="352.1" cy="165.2" r="1.3"/><circle cx="352.0" cy="166.1" r="1.3"/><circle cx="352.3" cy="166.9" r="1.3"/><circle cx="352.4" cy="167.4" r="1.3"/><circle cx="352.9" cy="165.6" r="1.3"/><circle cx="353.2" cy="166.5" r="1.3"/><circle cx="353.2" cy="168.9" r="1.3"/><circle cx="353.5" cy="164.5" r="1.3"/><circle cx="353.7" cy="168.9" r="1.3"/><circle cx="353.3" cy="168.1" r="1.3"/><circle cx="354.1" cy="166.9" r="1.3"/><circle cx="354.2" cy="169.4" r="1.3"/><circle cx="353.8" cy="170.9" r="1.3"/><circle cx="354.4" cy="170.5" r="1.3"/><circle cx="354.7" cy="171.8" r="1.3"/><circle cx="355.2" cy="167.5" r="1.3"/><circle cx="355.2" cy="170.8" r="1.3"/><circle cx="355.0" cy="172.3" r="1.3"/><circle cx="355.7" cy="173.2" r="1.3"/><circle cx="355.5" cy="171.5" r="1.3"/><circle cx="356.0" cy="170.2" r="1.3"/><circle cx="356.0" cy="168.1" r="1.3"/><circle cx="355.9" cy="172.8" r="1.3"/><circle cx="362.7" cy="165.0" r="1.3"/><circle cx="363.1" cy="164.5" r="1.3"/><circle cx="362.9" cy="163.8" r="1.3"/><circle cx="363.5" cy="163.4" r="1.3"/><circle cx="364.0" cy="164.1" r="1.3"/><circle cx="363.9" cy="164.0" r="1.3"/><circle cx="364.7" cy="162.0" r="1.3"/><circle cx="364.9" cy="162.0" r="1.3"/><circle cx="365.5" cy="162.2" r="1.3"/><circle cx="365.8" cy="160.2" r="1.3"/><circle cx="365.8" cy="162.1" r="1.3"/><circle cx="366.7" cy="161.1" r="1.3"/><circle cx="366.3" cy="161.2" r="1.3"/><circle cx="367.0" cy="159.1" r="1.3"/><circle cx="367.2" cy="161.0" r="1.3"/><circle cx="367.6" cy="159.4" r="1.3"/><circle cx="367.9" cy="159.9" r="1.3"/><circle cx="368.0" cy="158.7" r="1.3"/><circle cx="372.8" cy="144.4" r="1.3"/><circle cx="372.6" cy="147.0" r="1.3"/><circle cx="373.5" cy="145.1" r="1.3"/><circle cx="373.4" cy="149.0" r="1.3"/><circle cx="373.8" cy="150.2" r="1.3"/><circle cx="373.9" cy="146.6" r="1.3"/><circle cx="374.2" cy="149.9" r="1.3"/><circle cx="374.8" cy="146.2" r="1.3"/><circle cx="374.9" cy="149.5" r="1.3"/><circle cx="375.1" cy="150.1" r="1.3"/><circle cx="375.4" cy="147.3" r="1.3"/><circle cx="373.8" cy="158.9" r="1.3"/><circle cx="374.1" cy="159.7" r="1.3"/><circle cx="374.3" cy="158.4" r="1.3"/><circle cx="374.4" cy="159.0" r="1.3"/><circle cx="375.0" cy="158.7" r="1.3"/><circle cx="375.0" cy="160.1" r="1.3"/><circle cx="375.4" cy="157.3" r="1.3"/><circle cx="375.3" cy="159.9" r="1.3"/><circle cx="375.8" cy="158.0" r="1.3"/><circle cx="376.7" cy="160.2" r="1.3"/><circle cx="376.9" cy="157.0" r="1.3"/><circle cx="377.5" cy="157.0" r="1.3"/><circle cx="377.4" cy="158.5" r="1.3"/><circle cx="377.8" cy="157.5" r="1.3"/><circle cx="377.9" cy="157.4" r="1.3"/><circle cx="378.3" cy="159.6" r="1.3"/><circle cx="378.7" cy="157.4" r="1.3"/><circle cx="379.2" cy="159.2" r="1.3"/><circle cx="379.7" cy="157.8" r="1.3"/><circle cx="379.3" cy="160.1" r="1.3"/><circle cx="380.2" cy="159.6" r="1.3"/><circle cx="379.8" cy="157.9" r="1.3"/><circle cx="383.4" cy="180.9" r="1.3"/><circle cx="383.7" cy="179.2" r="1.3"/><circle cx="384.0" cy="182.7" r="1.3"/><circle cx="384.2" cy="181.9" r="1.3"/><circle cx="384.4" cy="183.8" r="1.3"/><circle cx="384.7" cy="182.0" r="1.3"/><circle cx="385.1" cy="184.1" r="1.3"/><circle cx="385.1" cy="181.7" r="1.3"/><circle cx="385.4" cy="180.8" r="1.3"/><circle cx="385.5" cy="185.5" r="1.3"/><circle cx="385.9" cy="184.9" r="1.3"/><circle cx="386.0" cy="185.3" r="1.3"/><circle cx="386.5" cy="187.2" r="1.3"/><circle cx="386.7" cy="186.3" r="1.3"/><circle cx="387.1" cy="185.4" r="1.3"/><circle cx="386.9" cy="186.5" r="1.3"/><circle cx="387.5" cy="187.6" r="1.3"/><circle cx="387.7" cy="189.9" r="1.3"/><circle cx="388.1" cy="191.8" r="1.3"/><circle cx="387.8" cy="190.4" r="1.3"/><circle cx="388.4" cy="192.7" r="1.3"/><circle cx="388.7" cy="190.2" r="1.3"/><circle cx="389.2" cy="191.3" r="1.3"/><circle cx="388.9" cy="191.5" r="1.3"/><circle cx="389.1" cy="193.5" r="1.3"/><circle cx="389.6" cy="190.8" r="1.3"/><circle cx="389.4" cy="190.0" r="1.3"/><circle cx="389.9" cy="191.5" r="1.3"/><circle cx="390.0" cy="191.3" r="1.3"/><circle cx="390.1" cy="192.7" r="1.3"/><circle cx="390.6" cy="192.9" r="1.3"/><circle cx="390.3" cy="195.6" r="1.3"/><circle cx="390.6" cy="195.8" r="1.3"/><circle cx="393.7" cy="189.9" r="1.3"/><circle cx="393.6" cy="191.1" r="1.3"/><circle cx="394.3" cy="186.9" r="1.3"/><circle cx="394.2" cy="188.6" r="1.3"/><circle cx="394.6" cy="189.3" r="1.3"/><circle cx="395.5" cy="190.0" r="1.3"/><circle cx="395.5" cy="190.0" r="1.3"/><circle cx="395.7" cy="186.4" r="1.3"/><circle cx="395.8" cy="186.6" r="1.3"/><circle cx="396.1" cy="190.8" r="1.3"/><circle cx="396.4" cy="187.5" r="1.3"/><circle cx="396.6" cy="186.6" r="1.3"/><circle cx="396.7" cy="190.2" r="1.3"/><circle cx="397.1" cy="188.7" r="1.3"/><circle cx="397.1" cy="187.6" r="1.3"/><circle cx="397.3" cy="189.4" r="1.3"/><circle cx="397.5" cy="189.6" r="1.3"/><circle cx="397.9" cy="186.4" r="1.3"/><circle cx="398.2" cy="189.0" r="1.3"/><circle cx="398.6" cy="185.2" r="1.3"/><circle cx="398.5" cy="186.4" r="1.3"/><circle cx="399.1" cy="188.3" r="1.3"/><circle cx="398.8" cy="185.0" r="1.3"/><circle cx="399.6" cy="184.6" r="1.3"/><circle cx="399.7" cy="189.0" r="1.3"/><circle cx="400.0" cy="187.5" r="1.3"/><circle cx="400.2" cy="187.5" r="1.3"/><circle cx="400.6" cy="186.8" r="1.3"/><circle cx="400.3" cy="187.1" r="1.3"/><circle cx="400.9" cy="186.3" r="1.3"/><circle cx="400.9" cy="185.8" r="1.3"/><circle cx="401.7" cy="186.8" r="1.3"/><circle cx="401.7" cy="184.4" r="1.3"/><circle cx="402.1" cy="189.5" r="1.3"/><circle cx="401.9" cy="184.6" r="1.3"/><circle cx="402.2" cy="188.1" r="1.3"/><circle cx="402.4" cy="184.0" r="1.3"/><circle cx="402.5" cy="186.6" r="1.3"/><circle cx="402.7" cy="188.8" r="1.3"/><circle cx="403.0" cy="189.9" r="1.3"/><circle cx="402.8" cy="192.2" r="1.3"/><circle cx="403.0" cy="188.4" r="1.3"/><circle cx="403.3" cy="189.7" r="1.3"/><circle cx="403.6" cy="189.3" r="1.3"/><circle cx="403.4" cy="187.4" r="1.3"/><circle cx="403.6" cy="189.0" r="1.3"/><circle cx="403.8" cy="190.7" r="1.3"/><circle cx="403.8" cy="189.0" r="1.3"/><circle cx="404.0" cy="182.9" r="1.3"/><circle cx="404.6" cy="192.1" r="1.3"/><circle cx="404.3" cy="187.8" r="1.3"/><circle cx="404.6" cy="183.1" r="1.3"/><circle cx="404.7" cy="193.0" r="1.3"/><circle cx="404.9" cy="183.2" r="1.3"/><circle cx="404.9" cy="186.7" r="1.3"/><circle cx="405.1" cy="193.4" r="1.3"/><circle cx="405.0" cy="193.6" r="1.3"/><circle cx="405.6" cy="181.5" r="1.3"/><circle cx="405.5" cy="181.7" r="1.3"/><circle cx="405.3" cy="191.2" r="1.3"/><circle cx="405.3" cy="185.1" r="1.3"/><circle cx="406.0" cy="182.0" r="1.3"/><circle cx="405.8" cy="189.2" r="1.3"/><circle cx="406.0" cy="182.7" r="1.3"/><circle cx="406.4" cy="192.2" r="1.3"/><circle cx="406.3" cy="183.7" r="1.3"/><circle cx="406.3" cy="187.5" r="1.3"/><circle cx="407.1" cy="183.0" r="1.3"/><circle cx="407.0" cy="185.4" r="1.3"/><circle cx="407.2" cy="188.7" r="1.3"/><circle cx="407.4" cy="185.9" r="1.3"/><circle cx="407.5" cy="185.4" r="1.3"/><circle cx="407.5" cy="182.9" r="1.3"/><circle cx="408.2" cy="185.5" r="1.3"/><circle cx="408.0" cy="188.3" r="1.3"/><circle cx="408.2" cy="188.1" r="1.3"/><circle cx="408.6" cy="184.3" r="1.3"/><circle cx="408.6" cy="183.0" r="1.3"/><circle cx="408.3" cy="184.1" r="1.3"/><circle cx="409.1" cy="183.5" r="1.3"/><circle cx="409.2" cy="184.0" r="1.3"/><circle cx="409.7" cy="187.2" r="1.3"/><circle cx="409.7" cy="188.9" r="1.3"/><circle cx="410.2" cy="184.6" r="1.3"/><circle cx="410.1" cy="187.4" r="1.3"/><circle cx="410.3" cy="185.3" r="1.3"/><circle cx="411.1" cy="187.5" r="1.3"/><circle cx="421.0" cy="213.2" r="1.3"/><circle cx="423.0" cy="290.2" r="1.3"/><circle cx="422.9" cy="287.7" r="1.3"/><circle cx="423.2" cy="285.2" r="1.3"/><circle cx="423.5" cy="282.1" r="1.3"/><circle cx="423.3" cy="275.7" r="1.3"/><circle cx="423.4" cy="277.3" r="1.3"/><circle cx="423.9" cy="289.1" r="1.3"/><circle cx="424.0" cy="289.4" r="1.3"/><circle cx="424.6" cy="282.5" r="1.3"/><circle cx="424.4" cy="284.4" r="1.3"/><circle cx="425.2" cy="276.5" r="1.3"/><circle cx="425.1" cy="281.1" r="1.3"/><circle cx="425.0" cy="284.3" r="1.3"/><circle cx="425.7" cy="281.8" r="1.3"/><circle cx="425.7" cy="291.0" r="1.3"/><circle cx="426.0" cy="280.8" r="1.3"/><circle cx="426.1" cy="285.0" r="1.3"/><circle cx="426.1" cy="291.2" r="1.3"/><circle cx="426.6" cy="287.0" r="1.3"/><circle cx="426.3" cy="285.8" r="1.3"/><circle cx="426.8" cy="295.5" r="1.3"/><circle cx="426.9" cy="285.8" r="1.3"/><circle cx="427.0" cy="285.0" r="1.3"/><circle cx="427.4" cy="287.1" r="1.3"/><circle cx="427.6" cy="295.3" r="1.3"/><circle cx="428.1" cy="291.7" r="1.3"/><circle cx="428.0" cy="289.8" r="1.3"/><circle cx="427.8" cy="289.0" r="1.3"/><circle cx="428.4" cy="296.9" r="1.3"/><circle cx="428.4" cy="295.2" r="1.3"/><circle cx="429.1" cy="291.4" r="1.3"/><circle cx="429.0" cy="295.5" r="1.3"/><circle cx="429.4" cy="286.1" r="1.3"/><circle cx="429.5" cy="291.3" r="1.3"/><circle cx="429.7" cy="297.0" r="1.3"/><circle cx="430.0" cy="287.5" r="1.3"/><circle cx="430.1" cy="292.5" r="1.3"/><circle cx="430.7" cy="287.2" r="1.3"/><circle cx="430.3" cy="291.9" r="1.3"/><circle cx="430.8" cy="289.7" r="1.3"/><circle cx="431.4" cy="295.5" r="1.3"/><circle cx="431.9" cy="290.2" r="1.3"/><circle cx="432.2" cy="288.7" r="1.3"/><circle cx="437.7" cy="283.0" r="1.3"/><circle cx="438.0" cy="284.2" r="1.3"/><circle cx="437.1" cy="285.3" r="1.3"/><circle cx="439.7" cy="283.3" r="1.3"/><circle cx="439.7" cy="284.6" r="1.3"/><circle cx="440.8" cy="276.1" r="1.3"/><circle cx="441.7" cy="282.3" r="1.3"/><circle cx="442.2" cy="285.2" r="1.3"/><circle cx="442.4" cy="274.8" r="1.3"/><circle cx="443.0" cy="279.1" r="1.3"/><circle cx="443.5" cy="276.4" r="1.3"/><circle cx="444.2" cy="272.9" r="1.3"/><circle cx="444.3" cy="281.9" r="1.3"/><circle cx="445.2" cy="280.8" r="1.3"/><circle cx="446.0" cy="284.5" r="1.3"/><circle cx="447.8" cy="283.0" r="1.3"/><circle cx="448.7" cy="283.1" r="1.3"/><circle cx="449.2" cy="280.3" r="1.3"/><circle cx="449.9" cy="275.7" r="1.3"/><circle cx="450.8" cy="279.8" r="1.3"/><circle cx="451.4" cy="282.6" r="1.3"/><circle cx="452.1" cy="282.0" r="1.3"/><circle cx="452.5" cy="278.5" r="1.3"/><circle cx="453.1" cy="282.6" r="1.3"/><circle cx="453.6" cy="276.4" r="1.3"/><circle cx="453.5" cy="262.9" r="1.3"/><circle cx="453.5" cy="267.7" r="1.3"/><circle cx="456.1" cy="275.0" r="1.3"/><circle cx="455.9" cy="276.7" r="1.3"/><circle cx="456.4" cy="274.7" r="1.3"/><circle cx="456.7" cy="270.0" r="1.3"/><circle cx="457.0" cy="270.7" r="1.3"/><circle cx="456.9" cy="272.7" r="1.3"/><circle cx="457.4" cy="268.7" r="1.3"/><circle cx="457.6" cy="274.0" r="1.3"/><circle cx="457.9" cy="275.0" r="1.3"/><circle cx="457.8" cy="268.9" r="1.3"/><circle cx="458.5" cy="271.9" r="1.3"/><circle cx="458.4" cy="272.0" r="1.3"/><circle cx="458.3" cy="267.7" r="1.3"/><circle cx="459.2" cy="267.7" r="1.3"/><circle cx="459.1" cy="271.6" r="1.3"/><circle cx="459.7" cy="272.5" r="1.3"/><circle cx="459.7" cy="272.9" r="1.3"/><circle cx="459.8" cy="274.0" r="1.3"/><circle cx="459.9" cy="275.0" r="1.3"/><circle cx="460.7" cy="271.6" r="1.3"/><circle cx="460.4" cy="269.5" r="1.3"/><circle cx="460.8" cy="267.9" r="1.3"/><circle cx="461.0" cy="269.5" r="1.3"/><circle cx="461.6" cy="268.0" r="1.3"/><circle cx="461.4" cy="267.5" r="1.3"/><circle cx="461.7" cy="264.5" r="1.3"/><circle cx="461.0" cy="265.2" r="1.3"/><circle cx="460.9" cy="260.0" r="1.3"/><circle cx="461.6" cy="258.5" r="1.3"/><circle cx="461.7" cy="261.9" r="1.3"/><circle cx="462.0" cy="257.1" r="1.3"/><circle cx="461.9" cy="262.5" r="1.3"/><circle cx="462.7" cy="262.5" r="1.3"/><circle cx="462.5" cy="256.8" r="1.3"/><circle cx="462.4" cy="260.0" r="1.3"/><circle cx="462.8" cy="261.3" r="1.3"/><circle cx="462.9" cy="262.2" r="1.3"/><circle cx="463.5" cy="264.0" r="1.3"/><circle cx="463.6" cy="256.9" r="1.3"/><circle cx="464.0" cy="264.1" r="1.3"/><circle cx="464.2" cy="259.6" r="1.3"/><circle cx="464.4" cy="262.8" r="1.3"/><circle cx="464.3" cy="264.7" r="1.3"/><circle cx="465.0" cy="261.0" r="1.3"/><circle cx="464.9" cy="257.9" r="1.3"/><circle cx="465.1" cy="262.4" r="1.3"/><circle cx="465.4" cy="265.6" r="1.3"/><circle cx="465.4" cy="258.5" r="1.3"/><circle cx="465.5" cy="259.4" r="1.3"/><circle cx="466.2" cy="256.5" r="1.3"/><circle cx="465.9" cy="257.0" r="1.3"/><circle cx="466.4" cy="262.3" r="1.3"/><circle cx="466.7" cy="255.8" r="1.3"/><circle cx="466.3" cy="256.2" r="1.3"/><circle cx="466.8" cy="259.5" r="1.3"/><circle cx="466.9" cy="262.6" r="1.3"/><circle cx="467.2" cy="265.3" r="1.3"/><circle cx="467.6" cy="256.2" r="1.3"/><circle cx="467.6" cy="264.0" r="1.3"/><circle cx="467.7" cy="256.3" r="1.3"/><circle cx="468.2" cy="261.8" r="1.3"/><circle cx="468.1" cy="255.4" r="1.3"/><circle cx="468.1" cy="254.9" r="1.3"/><circle cx="468.6" cy="257.8" r="1.3"/><circle cx="468.3" cy="261.9" r="1.3"/><circle cx="469.1" cy="258.1" r="1.3"/><circle cx="468.9" cy="262.5" r="1.3"/><circle cx="469.4" cy="256.5" r="1.3"/><circle cx="469.7" cy="258.5" r="1.3"/><circle cx="469.9" cy="261.1" r="1.3"/><circle cx="470.2" cy="258.7" r="1.3"/><circle cx="470.5" cy="258.1" r="1.3"/><circle cx="470.7" cy="263.2" r="1.3"/><circle cx="471.1" cy="261.7" r="1.3"/><circle cx="471.2" cy="262.9" r="1.3"/><circle cx="471.4" cy="253.8" r="1.3"/><circle cx="471.5" cy="257.0" r="1.3"/><circle cx="472.2" cy="256.4" r="1.3"/><circle cx="472.2" cy="253.6" r="1.3"/><circle cx="471.9" cy="260.9" r="1.3"/><circle cx="472.6" cy="257.9" r="1.3"/><circle cx="472.3" cy="261.1" r="1.3"/><circle cx="473.0" cy="258.4" r="1.3"/><circle cx="473.2" cy="257.7" r="1.3"/><circle cx="473.5" cy="259.8" r="1.3"/><circle cx="473.6" cy="256.0" r="1.3"/><circle cx="473.9" cy="259.0" r="1.3"/><circle cx="473.9" cy="261.2" r="1.3"/><circle cx="474.6" cy="256.1" r="1.3"/><circle cx="474.4" cy="256.6" r="1.3"/><circle cx="474.8" cy="257.4" r="1.3"/><circle cx="475.2" cy="252.9" r="1.3"/><circle cx="475.5" cy="261.6" r="1.3"/><circle cx="475.6" cy="258.9" r="1.3"/><circle cx="476.0" cy="253.0" r="1.3"/><circle cx="476.2" cy="260.3" r="1.3"/><circle cx="476.4" cy="256.5" r="1.3"/><circle cx="476.5" cy="255.2" r="1.3"/><circle cx="477.0" cy="261.1" r="1.3"/><circle cx="477.1" cy="261.1" r="1.3"/><circle cx="477.3" cy="258.9" r="1.3"/><circle cx="477.4" cy="257.2" r="1.3"/><circle cx="478.1" cy="254.1" r="1.3"/><circle cx="478.1" cy="254.8" r="1.3"/><circle cx="478.5" cy="257.4" r="1.3"/><circle cx="478.7" cy="253.7" r="1.3"/><circle cx="479.2" cy="256.1" r="1.3"/><circle cx="479.1" cy="259.2" r="1.3"/><circle cx="479.2" cy="254.6" r="1.3"/><circle cx="479.4" cy="258.0" r="1.3"/><circle cx="479.7" cy="254.2" r="1.3"/><circle cx="479.9" cy="253.9" r="1.3"/><circle cx="480.0" cy="259.1" r="1.3"/><circle cx="479.8" cy="260.6" r="1.3"/><circle cx="480.5" cy="256.7" r="1.3"/><circle cx="480.4" cy="258.0" r="1.3"/><circle cx="480.9" cy="255.0" r="1.3"/><circle cx="480.9" cy="252.4" r="1.3"/><circle cx="481.6" cy="254.2" r="1.3"/><circle cx="481.6" cy="251.4" r="1.3"/><circle cx="481.9" cy="255.3" r="1.3"/><circle cx="481.8" cy="255.0" r="1.3"/><circle cx="481.9" cy="251.9" r="1.3"/><circle cx="482.4" cy="256.9" r="1.3"/><circle cx="482.6" cy="252.9" r="1.3"/><circle cx="483.2" cy="254.6" r="1.3"/><circle cx="483.0" cy="256.0" r="1.3"/><circle cx="483.0" cy="258.5" r="1.3"/><circle cx="483.7" cy="255.0" r="1.3"/><circle cx="483.5" cy="258.3" r="1.3"/><circle cx="483.7" cy="254.8" r="1.3"/><circle cx="484.1" cy="252.5" r="1.3"/><circle cx="484.0" cy="257.2" r="1.3"/><circle cx="483.8" cy="257.4" r="1.3"/><circle cx="484.4" cy="248.0" r="1.3"/><circle cx="484.3" cy="250.6" r="1.3"/><circle cx="484.5" cy="258.2" r="1.3"/><circle cx="484.9" cy="251.6" r="1.3"/><circle cx="485.1" cy="251.3" r="1.3"/><circle cx="485.1" cy="249.0" r="1.3"/><circle cx="485.5" cy="255.1" r="1.3"/><circle cx="485.3" cy="247.6" r="1.3"/><circle cx="485.6" cy="247.8" r="1.3"/><circle cx="486.1" cy="248.5" r="1.3"/><circle cx="486.0" cy="247.4" r="1.3"/><circle cx="486.4" cy="255.9" r="1.3"/><circle cx="486.7" cy="254.6" r="1.3"/><circle cx="486.6" cy="252.8" r="1.3"/><circle cx="466.0" cy="251.7" r="1.3"/><circle cx="487.1" cy="250.0" r="1.3"/><circle cx="486.9" cy="253.2" r="1.3"/><circle cx="486.9" cy="249.1" r="1.3"/><circle cx="487.7" cy="248.5" r="1.3"/><circle cx="487.5" cy="249.1" r="1.3"/><circle cx="487.9" cy="252.7" r="1.3"/><circle cx="487.8" cy="249.8" r="1.3"/><circle cx="487.9" cy="250.7" r="1.3"/><circle cx="488.3" cy="249.9" r="1.3"/><circle cx="488.3" cy="251.4" r="1.3"/><circle cx="488.9" cy="247.5" r="1.3"/><circle cx="488.9" cy="248.4" r="1.3"/><circle cx="489.7" cy="252.7" r="1.3"/><circle cx="489.4" cy="249.6" r="1.3"/><circle cx="490.0" cy="254.2" r="1.3"/><circle cx="489.8" cy="249.0" r="1.3"/><circle cx="489.8" cy="253.2" r="1.3"/><circle cx="490.5" cy="245.8" r="1.3"/><circle cx="490.6" cy="250.1" r="1.3"/><circle cx="490.7" cy="252.1" r="1.3"/><circle cx="490.9" cy="247.7" r="1.3"/><circle cx="491.0" cy="245.8" r="1.3"/><circle cx="491.6" cy="249.9" r="1.3"/><circle cx="491.4" cy="246.0" r="1.3"/><circle cx="492.1" cy="246.4" r="1.3"/><circle cx="491.8" cy="251.7" r="1.3"/><circle cx="492.6" cy="249.2" r="1.3"/><circle cx="492.7" cy="253.5" r="1.3"/><circle cx="492.4" cy="250.3" r="1.3"/><circle cx="493.0" cy="253.0" r="1.3"/><circle cx="493.1" cy="253.0" r="1.3"/><circle cx="493.5" cy="250.4" r="1.3"/><circle cx="493.5" cy="245.5" r="1.3"/><circle cx="493.7" cy="249.5" r="1.3"/><circle cx="494.2" cy="250.5" r="1.3"/><circle cx="494.1" cy="252.3" r="1.3"/><circle cx="494.1" cy="253.9" r="1.3"/><circle cx="494.4" cy="246.8" r="1.3"/><circle cx="494.6" cy="247.4" r="1.3"/><circle cx="494.3" cy="246.6" r="1.3"/><circle cx="495.0" cy="249.6" r="1.3"/><circle cx="495.0" cy="245.4" r="1.3"/><circle cx="495.0" cy="247.7" r="1.3"/><circle cx="495.3" cy="246.7" r="1.3"/><circle cx="495.5" cy="246.9" r="1.3"/><circle cx="495.5" cy="246.9" r="1.3"/><circle cx="496.2" cy="248.4" r="1.3"/><circle cx="495.8" cy="254.5" r="1.3"/><circle cx="496.6" cy="252.5" r="1.3"/><circle cx="496.5" cy="253.8" r="1.3"/><circle cx="496.3" cy="252.2" r="1.3"/><circle cx="497.2" cy="253.5" r="1.3"/><circle cx="497.0" cy="250.3" r="1.3"/><circle cx="497.4" cy="247.9" r="1.3"/><circle cx="497.3" cy="247.4" r="1.3"/><circle cx="498.2" cy="248.4" r="1.3"/><circle cx="497.9" cy="254.8" r="1.3"/><circle cx="498.1" cy="249.6" r="1.3"/><circle cx="498.4" cy="248.3" r="1.3"/><circle cx="498.7" cy="249.5" r="1.3"/><circle cx="498.7" cy="248.1" r="1.3"/><circle cx="499.2" cy="246.2" r="1.3"/><circle cx="499.1" cy="251.2" r="1.3"/><circle cx="498.9" cy="253.5" r="1.3"/><circle cx="499.7" cy="250.9" r="1.3"/><circle cx="499.7" cy="254.5" r="1.3"/><circle cx="499.4" cy="252.2" r="1.3"/><circle cx="500.1" cy="245.8" r="1.3"/><circle cx="500.1" cy="252.9" r="1.3"/><circle cx="500.3" cy="246.2" r="1.3"/><circle cx="500.5" cy="246.6" r="1.3"/><circle cx="500.7" cy="249.6" r="1.3"/><circle cx="501.1" cy="249.8" r="1.3"/><circle cx="500.8" cy="249.7" r="1.3"/><circle cx="501.7" cy="254.3" r="1.3"/><circle cx="501.4" cy="245.9" r="1.3"/><circle cx="502.1" cy="252.0" r="1.3"/><circle cx="502.2" cy="253.6" r="1.3"/><circle cx="502.7" cy="246.9" r="1.3"/><circle cx="502.7" cy="252.2" r="1.3"/><circle cx="502.8" cy="252.0" r="1.3"/><circle cx="502.9" cy="254.9" r="1.3"/><circle cx="502.9" cy="250.5" r="1.3"/><circle cx="503.7" cy="248.7" r="1.3"/><circle cx="503.7" cy="252.8" r="1.3"/><circle cx="503.5" cy="255.0" r="1.3"/><circle cx="504.1" cy="251.1" r="1.3"/><circle cx="503.8" cy="247.9" r="1.3"/><circle cx="504.3" cy="252.1" r="1.3"/><circle cx="504.4" cy="249.6" r="1.3"/><circle cx="505.2" cy="253.2" r="1.3"/><circle cx="505.0" cy="251.1" r="1.3"/><circle cx="505.7" cy="251.9" r="1.3"/><circle cx="505.3" cy="254.8" r="1.3"/><circle cx="505.8" cy="252.5" r="1.3"/><circle cx="505.8" cy="253.5" r="1.3"/><circle cx="506.1" cy="247.6" r="1.3"/><circle cx="506.7" cy="252.6" r="1.3"/><circle cx="506.7" cy="254.0" r="1.3"/><circle cx="507.2" cy="255.5" r="1.3"/><circle cx="507.1" cy="247.0" r="1.3"/><circle cx="506.9" cy="253.2" r="1.3"/><circle cx="507.3" cy="250.8" r="1.3"/><circle cx="507.3" cy="251.0" r="1.3"/><circle cx="507.3" cy="253.5" r="1.3"/><circle cx="508.2" cy="247.5" r="1.3"/><circle cx="508.1" cy="252.8" r="1.3"/><circle cx="507.8" cy="252.6" r="1.3"/><circle cx="508.6" cy="248.3" r="1.3"/><circle cx="508.5" cy="254.8" r="1.3"/><circle cx="508.6" cy="248.9" r="1.3"/><circle cx="509.2" cy="247.1" r="1.3"/><circle cx="509.0" cy="251.7" r="1.3"/><circle cx="509.0" cy="246.6" r="1.3"/><circle cx="509.7" cy="251.2" r="1.3"/><circle cx="509.4" cy="251.2" r="1.3"/><circle cx="509.3" cy="247.5" r="1.3"/><circle cx="510.1" cy="248.8" r="1.3"/><circle cx="509.9" cy="247.6" r="1.3"/><circle cx="510.5" cy="254.3" r="1.3"/><circle cx="510.5" cy="255.3" r="1.3"/><circle cx="510.7" cy="252.5" r="1.3"/><circle cx="510.8" cy="253.6" r="1.3"/><circle cx="510.8" cy="255.9" r="1.3"/><circle cx="510.8" cy="247.5" r="1.3"/><circle cx="511.5" cy="252.5" r="1.3"/><circle cx="511.5" cy="248.2" r="1.3"/><circle cx="511.9" cy="254.4" r="1.3"/><circle cx="512.1" cy="254.0" r="1.3"/><circle cx="511.8" cy="251.7" r="1.3"/><circle cx="512.3" cy="250.7" r="1.3"/><circle cx="512.6" cy="257.1" r="1.3"/><circle cx="513.1" cy="251.9" r="1.3"/><circle cx="513.0" cy="255.6" r="1.3"/><circle cx="512.8" cy="253.2" r="1.3"/><circle cx="513.6" cy="254.5" r="1.3"/><circle cx="513.5" cy="248.9" r="1.3"/><circle cx="513.6" cy="254.3" r="1.3"/><circle cx="514.1" cy="256.9" r="1.3"/><circle cx="513.9" cy="254.3" r="1.3"/><circle cx="514.2" cy="250.1" r="1.3"/><circle cx="514.4" cy="257.0" r="1.3"/><circle cx="514.5" cy="257.2" r="1.3"/><circle cx="515.1" cy="251.3" r="1.3"/><circle cx="515.0" cy="253.4" r="1.3"/><circle cx="515.5" cy="256.6" r="1.3"/><circle cx="515.4" cy="252.9" r="1.3"/><circle cx="505.8" cy="257.6" r="1.3"/><circle cx="506.5" cy="259.2" r="1.3"/><circle cx="507.1" cy="259.1" r="1.3"/><circle cx="507.9" cy="256.7" r="1.3"/><circle cx="508.7" cy="257.4" r="1.3"/><circle cx="508.9" cy="260.4" r="1.3"/><circle cx="511.7" cy="262.0" r="1.3"/><circle cx="511.9" cy="260.7" r="1.3"/><circle cx="513.2" cy="261.8" r="1.3"/><circle cx="513.5" cy="260.0" r="1.3"/><circle cx="514.1" cy="260.4" r="1.3"/><circle cx="515.3" cy="264.0" r="1.3"/><circle cx="516.2" cy="260.5" r="1.3"/><circle cx="516.3" cy="260.7" r="1.3"/><circle cx="516.8" cy="258.0" r="1.3"/><circle cx="517.7" cy="263.0" r="1.3"/><circle cx="518.0" cy="260.9" r="1.3"/><circle cx="518.9" cy="261.6" r="1.3"/><circle cx="519.5" cy="263.4" r="1.3"/><circle cx="517.5" cy="257.4" r="1.3"/><circle cx="517.3" cy="259.5" r="1.3"/><circle cx="517.2" cy="260.9" r="1.3"/><circle cx="517.6" cy="262.5" r="1.3"/><circle cx="517.2" cy="264.6" r="1.3"/><circle cx="517.1" cy="223.9" r="1.3"/><circle cx="517.1" cy="226.9" r="1.3"/><circle cx="517.5" cy="230.4" r="1.3"/><circle cx="517.6" cy="235.3" r="1.3"/><circle cx="517.3" cy="237.2" r="1.3"/><circle cx="517.2" cy="243.0" r="1.3"/><circle cx="515.6" cy="240.1" r="1.3"/><circle cx="515.4" cy="242.0" r="1.3"/><circle cx="521.0" cy="231.2" r="1.3"/><circle cx="521.4" cy="231.7" r="1.3"/><circle cx="521.7" cy="230.3" r="1.3"/><circle cx="521.8" cy="233.0" r="1.3"/><circle cx="521.9" cy="233.4" r="1.3"/><circle cx="522.3" cy="231.6" r="1.3"/><circle cx="522.6" cy="235.3" r="1.3"/><circle cx="523.0" cy="230.9" r="1.3"/><circle cx="523.2" cy="232.7" r="1.3"/><circle cx="523.5" cy="235.9" r="1.3"/><circle cx="523.3" cy="233.8" r="1.3"/><circle cx="524.0" cy="242.0" r="1.3"/><circle cx="524.2" cy="238.4" r="1.3"/><circle cx="524.3" cy="238.4" r="1.3"/><circle cx="524.5" cy="234.6" r="1.3"/><circle cx="524.8" cy="241.9" r="1.3"/><circle cx="524.9" cy="239.7" r="1.3"/><circle cx="525.4" cy="238.8" r="1.3"/><circle cx="525.6" cy="243.9" r="1.3"/><circle cx="525.3" cy="247.9" r="1.3"/><circle cx="525.9" cy="241.5" r="1.3"/><circle cx="525.9" cy="243.9" r="1.3"/><circle cx="526.2" cy="239.5" r="1.3"/><circle cx="526.6" cy="242.7" r="1.3"/><circle cx="526.4" cy="244.9" r="1.3"/><circle cx="526.7" cy="248.7" r="1.3"/><circle cx="526.8" cy="245.4" r="1.3"/><circle cx="527.2" cy="246.3" r="1.3"/><circle cx="526.9" cy="248.6" r="1.3"/><circle cx="527.6" cy="250.4" r="1.3"/><circle cx="527.3" cy="247.5" r="1.3"/><circle cx="527.7" cy="245.8" r="1.3"/><circle cx="527.9" cy="250.3" r="1.3"/><circle cx="527.9" cy="248.2" r="1.3"/><circle cx="528.6" cy="255.7" r="1.3"/><circle cx="528.4" cy="250.8" r="1.3"/><circle cx="529.2" cy="251.4" r="1.3"/><circle cx="529.1" cy="249.8" r="1.3"/><circle cx="529.4" cy="257.1" r="1.3"/><circle cx="529.4" cy="257.4" r="1.3"/><circle cx="535.1" cy="292.6" r="1.3"/><circle cx="535.1" cy="296.4" r="1.3"/><circle cx="535.2" cy="299.0" r="1.3"/><circle cx="535.1" cy="301.5" r="1.3"/><circle cx="534.6" cy="304.7" r="1.3"/><circle cx="542.6" cy="294.0" r="1.3"/><circle cx="542.3" cy="297.5" r="1.3"/><circle cx="542.5" cy="300.0" r="1.3"/><circle cx="543.0" cy="304.2" r="1.3"/><circle cx="542.7" cy="307.7" r="1.3"/><circle cx="542.7" cy="310.1" r="1.3"/><circle cx="558.5" cy="300.6" r="1.3"/><circle cx="558.3" cy="301.1" r="1.3"/><circle cx="534.8" cy="319.2" r="1.3"/><circle cx="535.2" cy="317.7" r="1.3"/><circle cx="535.7" cy="314.8" r="1.3"/><circle cx="535.5" cy="316.2" r="1.3"/><circle cx="535.9" cy="318.7" r="1.3"/><circle cx="536.2" cy="317.4" r="1.3"/><circle cx="536.3" cy="320.9" r="1.3"/><circle cx="536.5" cy="317.9" r="1.3"/><circle cx="536.3" cy="315.3" r="1.3"/><circle cx="537.2" cy="314.9" r="1.3"/><circle cx="536.9" cy="318.5" r="1.3"/><circle cx="537.0" cy="316.4" r="1.3"/><circle cx="537.6" cy="323.7" r="1.3"/><circle cx="537.3" cy="317.2" r="1.3"/><circle cx="537.9" cy="316.5" r="1.3"/><circle cx="537.8" cy="322.7" r="1.3"/><circle cx="537.9" cy="322.0" r="1.3"/><circle cx="538.6" cy="314.6" r="1.3"/><circle cx="538.5" cy="324.0" r="1.3"/><circle cx="538.6" cy="321.2" r="1.3"/><circle cx="539.2" cy="320.9" r="1.3"/><circle cx="538.9" cy="320.4" r="1.3"/><circle cx="539.0" cy="316.6" r="1.3"/><circle cx="539.7" cy="323.1" r="1.3"/><circle cx="539.3" cy="319.7" r="1.3"/><circle cx="539.6" cy="316.1" r="1.3"/><circle cx="540.1" cy="322.0" r="1.3"/><circle cx="539.9" cy="314.5" r="1.3"/><circle cx="540.1" cy="316.7" r="1.3"/><circle cx="540.1" cy="321.9" r="1.3"/><circle cx="540.3" cy="329.1" r="1.3"/><circle cx="540.6" cy="327.7" r="1.3"/><circle cx="540.3" cy="325.4" r="1.3"/><circle cx="541.1" cy="325.8" r="1.3"/><circle cx="541.0" cy="329.6" r="1.3"/><circle cx="541.0" cy="322.3" r="1.3"/><circle cx="541.1" cy="317.6" r="1.3"/><circle cx="541.4" cy="329.5" r="1.3"/><circle cx="541.3" cy="317.7" r="1.3"/><circle cx="541.5" cy="319.5" r="1.3"/><circle cx="541.9" cy="327.7" r="1.3"/><circle cx="542.1" cy="327.1" r="1.3"/><circle cx="541.8" cy="317.0" r="1.3"/><circle cx="542.0" cy="317.6" r="1.3"/><circle cx="542.5" cy="331.8" r="1.3"/><circle cx="542.7" cy="327.3" r="1.3"/><circle cx="542.7" cy="325.0" r="1.3"/><circle cx="542.4" cy="317.8" r="1.3"/><circle cx="543.1" cy="327.7" r="1.3"/><circle cx="543.0" cy="324.8" r="1.3"/><circle cx="543.2" cy="323.5" r="1.3"/><circle cx="542.8" cy="332.9" r="1.3"/><circle cx="543.7" cy="334.2" r="1.3"/><circle cx="543.5" cy="320.4" r="1.3"/><circle cx="543.5" cy="326.0" r="1.3"/><circle cx="543.4" cy="330.9" r="1.3"/><circle cx="544.2" cy="321.9" r="1.3"/><circle cx="543.9" cy="332.3" r="1.3"/><circle cx="543.9" cy="330.6" r="1.3"/><circle cx="543.9" cy="325.2" r="1.3"/><circle cx="544.4" cy="332.9" r="1.3"/><circle cx="544.7" cy="334.7" r="1.3"/><circle cx="544.3" cy="319.2" r="1.3"/><circle cx="544.5" cy="331.5" r="1.3"/><circle cx="545.2" cy="336.5" r="1.3"/><circle cx="545.1" cy="323.8" r="1.3"/><circle cx="545.0" cy="320.4" r="1.3"/><circle cx="544.9" cy="332.4" r="1.3"/><circle cx="545.3" cy="329.6" r="1.3"/><circle cx="545.7" cy="331.4" r="1.3"/><circle cx="545.3" cy="327.8" r="1.3"/><circle cx="545.4" cy="334.2" r="1.3"/><circle cx="546.0" cy="336.0" r="1.3"/><circle cx="545.9" cy="329.0" r="1.3"/><circle cx="546.2" cy="326.7" r="1.3"/><circle cx="546.0" cy="332.3" r="1.3"/><circle cx="546.6" cy="329.5" r="1.3"/><circle cx="546.7" cy="331.7" r="1.3"/><circle cx="546.6" cy="331.9" r="1.3"/><circle cx="546.6" cy="329.0" r="1.3"/><circle cx="546.9" cy="329.0" r="1.3"/><circle cx="546.8" cy="335.8" r="1.3"/><circle cx="547.0" cy="331.4" r="1.3"/><circle cx="547.1" cy="325.0" r="1.3"/><circle cx="547.6" cy="325.7" r="1.3"/><circle cx="547.7" cy="332.7" r="1.3"/><circle cx="547.7" cy="337.9" r="1.3"/><circle cx="547.5" cy="330.3" r="1.3"/><circle cx="548.1" cy="332.9" r="1.3"/><circle cx="548.1" cy="340.6" r="1.3"/><circle cx="548.1" cy="333.7" r="1.3"/><circle cx="548.1" cy="333.4" r="1.3"/><circle cx="548.5" cy="340.1" r="1.3"/><circle cx="548.7" cy="335.2" r="1.3"/><circle cx="548.5" cy="328.9" r="1.3"/><circle cx="549.2" cy="331.8" r="1.3"/><circle cx="549.1" cy="332.0" r="1.3"/><circle cx="549.1" cy="332.3" r="1.3"/><circle cx="549.6" cy="330.4" r="1.3"/><circle cx="549.7" cy="336.0" r="1.3"/><circle cx="549.4" cy="333.6" r="1.3"/><circle cx="550.1" cy="333.2" r="1.3"/><circle cx="549.8" cy="333.7" r="1.3"/><circle cx="550.1" cy="335.5" r="1.3"/><circle cx="550.6" cy="335.8" r="1.3"/><circle cx="550.5" cy="333.5" r="1.3"/><circle cx="551.1" cy="335.1" r="1.3"/><circle cx="551.1" cy="334.2" r="1.3"/><circle cx="551.2" cy="338.2" r="1.3"/><circle cx="551.6" cy="335.6" r="1.3"/><circle cx="551.6" cy="339.5" r="1.3"/><circle cx="552.1" cy="341.4" r="1.3"/><circle cx="552.1" cy="336.4" r="1.3"/><circle cx="552.2" cy="342.8" r="1.3"/><circle cx="552.7" cy="343.4" r="1.3"/><circle cx="552.4" cy="335.4" r="1.3"/><circle cx="552.4" cy="338.4" r="1.3"/><circle cx="552.9" cy="340.4" r="1.3"/><circle cx="552.8" cy="339.2" r="1.3"/><circle cx="553.0" cy="340.2" r="1.3"/><circle cx="553.5" cy="334.4" r="1.3"/><circle cx="553.3" cy="341.5" r="1.3"/><circle cx="553.4" cy="335.3" r="1.3"/><circle cx="553.9" cy="337.5" r="1.3"/><circle cx="553.8" cy="336.0" r="1.3"/><circle cx="554.2" cy="340.7" r="1.3"/><circle cx="554.7" cy="332.7" r="1.3"/><circle cx="554.3" cy="331.6" r="1.3"/><circle cx="554.6" cy="336.4" r="1.3"/><circle cx="555.1" cy="331.4" r="1.3"/><circle cx="555.1" cy="333.8" r="1.3"/><circle cx="554.8" cy="338.0" r="1.3"/><circle cx="555.7" cy="336.8" r="1.3"/><circle cx="555.5" cy="333.1" r="1.3"/><circle cx="555.4" cy="329.2" r="1.3"/><circle cx="553.2" cy="322.2" r="1.3"/><circle cx="553.1" cy="322.7" r="1.3"/><circle cx="557.3" cy="325.6" r="1.3"/><circle cx="557.8" cy="326.2" r="1.3"/><circle cx="556.2" cy="336.5" r="1.3"/><circle cx="555.9" cy="336.6" r="1.3"/><circle cx="556.6" cy="335.0" r="1.3"/><circle cx="556.7" cy="344.9" r="1.3"/><circle cx="557.0" cy="341.4" r="1.3"/><circle cx="556.8" cy="338.8" r="1.3"/><circle cx="557.4" cy="349.0" r="1.3"/><circle cx="557.7" cy="349.3" r="1.3"/><circle cx="558.0" cy="348.6" r="1.3"/><circle cx="557.9" cy="339.2" r="1.3"/><circle cx="557.8" cy="343.8" r="1.3"/><circle cx="558.4" cy="339.8" r="1.3"/><circle cx="558.6" cy="338.4" r="1.3"/><circle cx="559.2" cy="342.8" r="1.3"/><circle cx="558.8" cy="345.3" r="1.3"/><circle cx="559.3" cy="348.1" r="1.3"/><circle cx="559.5" cy="340.7" r="1.3"/><circle cx="559.4" cy="348.4" r="1.3"/><circle cx="559.9" cy="346.5" r="1.3"/><circle cx="559.9" cy="344.4" r="1.3"/><circle cx="560.4" cy="347.7" r="1.3"/><circle cx="560.5" cy="337.6" r="1.3"/><circle cx="561.0" cy="340.1" r="1.3"/><circle cx="561.0" cy="348.4" r="1.3"/><circle cx="561.1" cy="353.9" r="1.3"/><circle cx="561.6" cy="340.0" r="1.3"/><circle cx="561.7" cy="355.8" r="1.3"/><circle cx="561.5" cy="353.9" r="1.3"/><circle cx="562.0" cy="341.5" r="1.3"/><circle cx="562.0" cy="352.6" r="1.3"/><circle cx="562.1" cy="356.2" r="1.3"/><circle cx="562.7" cy="346.5" r="1.3"/><circle cx="562.3" cy="347.6" r="1.3"/><circle cx="562.5" cy="354.8" r="1.3"/><circle cx="562.8" cy="354.8" r="1.3"/><circle cx="562.8" cy="357.5" r="1.3"/><circle cx="563.0" cy="342.2" r="1.3"/><circle cx="563.6" cy="344.8" r="1.3"/><circle cx="563.7" cy="341.1" r="1.3"/><circle cx="563.3" cy="353.0" r="1.3"/><circle cx="564.1" cy="361.4" r="1.3"/><circle cx="563.9" cy="341.4" r="1.3"/><circle cx="564.0" cy="348.3" r="1.3"/><circle cx="564.4" cy="361.7" r="1.3"/><circle cx="564.4" cy="357.2" r="1.3"/><circle cx="564.5" cy="347.5" r="1.3"/><circle cx="564.9" cy="348.6" r="1.3"/><circle cx="564.8" cy="358.4" r="1.3"/><circle cx="565.1" cy="350.2" r="1.3"/><circle cx="565.5" cy="348.8" r="1.3"/><circle cx="565.5" cy="356.4" r="1.3"/><circle cx="565.3" cy="341.7" r="1.3"/><circle cx="565.7" cy="361.5" r="1.3"/><circle cx="565.9" cy="350.1" r="1.3"/><circle cx="566.2" cy="347.3" r="1.3"/><circle cx="566.2" cy="342.1" r="1.3"/><circle cx="566.2" cy="341.3" r="1.3"/><circle cx="566.7" cy="356.2" r="1.3"/><circle cx="566.7" cy="347.5" r="1.3"/><circle cx="566.7" cy="360.4" r="1.3"/><circle cx="567.1" cy="359.8" r="1.3"/><circle cx="566.9" cy="347.7" r="1.3"/><circle cx="567.1" cy="351.9" r="1.3"/><circle cx="567.5" cy="348.2" r="1.3"/><circle cx="567.3" cy="344.2" r="1.3"/><circle cx="567.7" cy="343.9" r="1.3"/><circle cx="568.2" cy="350.1" r="1.3"/><circle cx="567.9" cy="337.3" r="1.3"/><circle cx="567.8" cy="355.9" r="1.3"/><circle cx="568.7" cy="343.0" r="1.3"/><circle cx="568.7" cy="346.7" r="1.3"/><circle cx="568.4" cy="357.5" r="1.3"/><circle cx="569.1" cy="342.6" r="1.3"/><circle cx="568.8" cy="340.1" r="1.3"/><circle cx="568.9" cy="340.3" r="1.3"/><circle cx="569.4" cy="340.3" r="1.3"/><circle cx="569.7" cy="344.0" r="1.3"/><circle cx="569.3" cy="335.3" r="1.3"/><circle cx="569.8" cy="348.2" r="1.3"/><circle cx="569.8" cy="346.0" r="1.3"/><circle cx="570.1" cy="347.7" r="1.3"/><circle cx="570.7" cy="358.4" r="1.3"/><circle cx="570.7" cy="357.3" r="1.3"/><circle cx="570.7" cy="342.9" r="1.3"/><circle cx="570.5" cy="344.1" r="1.3"/><circle cx="570.8" cy="338.7" r="1.3"/><circle cx="571.0" cy="347.0" r="1.3"/><circle cx="571.2" cy="341.6" r="1.3"/><circle cx="571.4" cy="355.5" r="1.3"/><circle cx="571.3" cy="345.9" r="1.3"/><circle cx="571.5" cy="354.5" r="1.3"/><circle cx="571.4" cy="348.3" r="1.3"/><circle cx="572.2" cy="346.8" r="1.3"/><circle cx="571.9" cy="349.1" r="1.3"/><circle cx="572.1" cy="349.9" r="1.3"/><circle cx="572.4" cy="350.6" r="1.3"/><circle cx="572.4" cy="337.5" r="1.3"/><circle cx="572.3" cy="346.2" r="1.3"/><circle cx="572.9" cy="339.0" r="1.3"/><circle cx="572.9" cy="342.2" r="1.3"/><circle cx="573.2" cy="345.2" r="1.3"/><circle cx="573.0" cy="341.8" r="1.3"/><circle cx="573.7" cy="344.9" r="1.3"/><circle cx="573.5" cy="340.2" r="1.3"/><circle cx="573.3" cy="336.5" r="1.3"/><circle cx="573.9" cy="331.7" r="1.3"/><circle cx="574.0" cy="346.0" r="1.3"/><circle cx="573.8" cy="350.8" r="1.3"/><circle cx="574.0" cy="347.3" r="1.3"/><circle cx="574.6" cy="348.5" r="1.3"/><circle cx="574.3" cy="345.0" r="1.3"/><circle cx="574.4" cy="350.3" r="1.3"/><circle cx="574.4" cy="336.4" r="1.3"/><circle cx="568.5" cy="331.3" r="1.3"/><circle cx="568.6" cy="332.3" r="1.3"/><circle cx="569.4" cy="333.7" r="1.3"/><circle cx="576.0" cy="347.3" r="1.3"/><circle cx="576.1" cy="355.0" r="1.3"/><circle cx="575.9" cy="331.5" r="1.3"/><circle cx="576.3" cy="334.8" r="1.3"/><circle cx="576.6" cy="351.6" r="1.3"/><circle cx="576.3" cy="334.8" r="1.3"/><circle cx="576.7" cy="343.3" r="1.3"/><circle cx="576.8" cy="327.3" r="1.3"/><circle cx="576.9" cy="342.7" r="1.3"/><circle cx="576.8" cy="339.6" r="1.3"/><circle cx="577.3" cy="332.1" r="1.3"/><circle cx="577.5" cy="341.1" r="1.3"/><circle cx="577.6" cy="343.0" r="1.3"/><circle cx="577.9" cy="340.1" r="1.3"/><circle cx="578.0" cy="348.7" r="1.3"/><circle cx="578.0" cy="338.9" r="1.3"/><circle cx="578.5" cy="336.3" r="1.3"/><circle cx="578.6" cy="339.3" r="1.3"/><circle cx="578.7" cy="331.0" r="1.3"/><circle cx="579.2" cy="345.4" r="1.3"/><circle cx="579.0" cy="330.9" r="1.3"/><circle cx="578.8" cy="334.1" r="1.3"/><circle cx="579.5" cy="329.6" r="1.3"/><circle cx="579.5" cy="338.6" r="1.3"/><circle cx="579.3" cy="341.0" r="1.3"/><circle cx="579.8" cy="329.4" r="1.3"/><circle cx="579.8" cy="335.7" r="1.3"/><circle cx="580.1" cy="334.0" r="1.3"/><circle cx="580.6" cy="323.6" r="1.3"/><circle cx="580.3" cy="336.7" r="1.3"/><circle cx="580.7" cy="342.4" r="1.3"/><circle cx="580.9" cy="326.0" r="1.3"/><circle cx="581.1" cy="344.0" r="1.3"/><circle cx="580.9" cy="324.7" r="1.3"/><circle cx="581.6" cy="344.2" r="1.3"/><circle cx="581.5" cy="347.5" r="1.3"/><circle cx="581.4" cy="323.0" r="1.3"/><circle cx="581.4" cy="347.6" r="1.3"/><circle cx="581.8" cy="330.4" r="1.3"/><circle cx="581.9" cy="336.0" r="1.3"/><circle cx="581.8" cy="348.5" r="1.3"/><circle cx="582.4" cy="323.2" r="1.3"/><circle cx="582.5" cy="348.8" r="1.3"/><circle cx="582.6" cy="346.7" r="1.3"/><circle cx="583.1" cy="323.9" r="1.3"/><circle cx="582.9" cy="338.8" r="1.3"/><circle cx="583.0" cy="328.5" r="1.3"/><circle cx="583.7" cy="341.2" r="1.3"/><circle cx="583.4" cy="335.6" r="1.3"/><circle cx="583.7" cy="326.4" r="1.3"/><circle cx="583.6" cy="328.9" r="1.3"/><circle cx="586.3" cy="323.6" r="1.3"/><circle cx="586.4" cy="326.9" r="1.3"/><circle cx="586.0" cy="331.0" r="1.3"/><circle cx="585.9" cy="337.0" r="1.3"/><circle cx="586.4" cy="341.4" r="1.3"/><circle cx="586.3" cy="344.4" r="1.3"/><circle cx="586.1" cy="349.8" r="1.3"/><circle cx="585.9" cy="354.1" r="1.3"/><circle cx="586.2" cy="356.8" r="1.3"/><circle cx="588.2" cy="321.6" r="1.3"/><circle cx="588.0" cy="325.1" r="1.3"/><circle cx="588.1" cy="329.3" r="1.3"/><circle cx="588.6" cy="336.4" r="1.3"/><circle cx="588.6" cy="339.7" r="1.3"/><circle cx="588.5" cy="344.8" r="1.3"/><circle cx="588.3" cy="349.0" r="1.3"/><circle cx="588.0" cy="352.8" r="1.3"/><circle cx="588.2" cy="357.8" r="1.3"/><circle cx="596.2" cy="341.8" r="1.3"/><circle cx="595.6" cy="346.8" r="1.3"/><circle cx="596.4" cy="350.5" r="1.3"/><circle cx="596.4" cy="352.5" r="1.3"/><circle cx="596.0" cy="357.5" r="1.3"/><circle cx="593.5" cy="366.1" r="1.3"/><circle cx="593.9" cy="366.0" r="1.3"/><circle cx="596.3" cy="365.6" r="1.3"/><circle cx="601.2" cy="365.6" r="1.3"/><circle cx="601.7" cy="361.1" r="1.3"/><circle cx="601.6" cy="362.6" r="1.3"/><circle cx="602.0" cy="356.8" r="1.3"/><circle cx="602.1" cy="358.3" r="1.3"/><circle cx="602.4" cy="359.2" r="1.3"/><circle cx="602.6" cy="355.8" r="1.3"/><circle cx="602.8" cy="357.2" r="1.3"/><circle cx="603.1" cy="357.0" r="1.3"/><circle cx="603.7" cy="353.9" r="1.3"/><circle cx="603.5" cy="353.1" r="1.3"/><circle cx="603.9" cy="348.2" r="1.3"/><circle cx="604.1" cy="352.3" r="1.3"/><circle cx="604.6" cy="347.2" r="1.3"/><circle cx="603.1" cy="341.3" r="1.3"/><circle cx="603.2" cy="343.9" r="1.3"/><circle cx="602.9" cy="331.3" r="1.3"/><circle cx="602.8" cy="344.8" r="1.3"/><circle cx="603.4" cy="325.2" r="1.3"/><circle cx="603.5" cy="348.0" r="1.3"/><circle cx="603.4" cy="343.8" r="1.3"/><circle cx="603.6" cy="341.6" r="1.3"/><circle cx="603.9" cy="341.9" r="1.3"/><circle cx="604.0" cy="349.8" r="1.3"/><circle cx="604.0" cy="333.3" r="1.3"/><circle cx="604.2" cy="340.6" r="1.3"/><circle cx="604.6" cy="327.9" r="1.3"/><circle cx="604.3" cy="347.6" r="1.3"/><circle cx="604.5" cy="345.4" r="1.3"/><circle cx="604.4" cy="336.5" r="1.3"/><circle cx="605.2" cy="339.9" r="1.3"/><circle cx="604.9" cy="334.1" r="1.3"/><circle cx="604.9" cy="329.5" r="1.3"/><circle cx="605.1" cy="332.2" r="1.3"/><circle cx="605.4" cy="336.0" r="1.3"/><circle cx="605.7" cy="334.2" r="1.3"/><circle cx="605.5" cy="349.9" r="1.3"/><circle cx="605.6" cy="336.1" r="1.3"/><circle cx="605.9" cy="327.9" r="1.3"/><circle cx="606.0" cy="341.0" r="1.3"/><circle cx="605.8" cy="336.6" r="1.3"/><circle cx="605.8" cy="340.0" r="1.3"/><circle cx="606.6" cy="344.9" r="1.3"/><circle cx="606.5" cy="334.1" r="1.3"/><circle cx="606.3" cy="329.5" r="1.3"/><circle cx="606.6" cy="345.5" r="1.3"/><circle cx="607.2" cy="348.4" r="1.3"/><circle cx="606.9" cy="338.3" r="1.3"/><circle cx="607.1" cy="332.7" r="1.3"/><circle cx="606.9" cy="343.2" r="1.3"/><circle cx="607.5" cy="338.9" r="1.3"/><circle cx="607.3" cy="336.5" r="1.3"/><circle cx="607.4" cy="328.3" r="1.3"/><circle cx="607.5" cy="342.7" r="1.3"/><circle cx="608.0" cy="341.8" r="1.3"/><circle cx="608.0" cy="350.2" r="1.3"/><circle cx="607.9" cy="324.0" r="1.3"/><circle cx="608.0" cy="342.5" r="1.3"/><circle cx="608.4" cy="333.0" r="1.3"/><circle cx="608.4" cy="345.1" r="1.3"/><circle cx="608.7" cy="331.3" r="1.3"/><circle cx="608.5" cy="336.2" r="1.3"/><circle cx="610.1" cy="338.4" r="1.3"/><circle cx="610.2" cy="346.7" r="1.3"/><circle cx="610.2" cy="332.5" r="1.3"/><circle cx="609.8" cy="344.5" r="1.3"/><circle cx="609.8" cy="341.8" r="1.3"/><circle cx="610.6" cy="327.8" r="1.3"/><circle cx="610.3" cy="345.8" r="1.3"/><circle cx="610.5" cy="336.6" r="1.3"/><circle cx="610.7" cy="343.9" r="1.3"/><circle cx="610.4" cy="342.2" r="1.3"/><circle cx="611.0" cy="333.5" r="1.3"/><circle cx="610.9" cy="333.3" r="1.3"/><circle cx="610.9" cy="330.8" r="1.3"/><circle cx="611.2" cy="335.0" r="1.3"/><circle cx="611.7" cy="341.6" r="1.3"/><circle cx="611.3" cy="347.7" r="1.3"/><circle cx="611.7" cy="345.1" r="1.3"/><circle cx="611.4" cy="344.9" r="1.3"/><circle cx="611.8" cy="334.9" r="1.3"/><circle cx="612.1" cy="338.6" r="1.3"/><circle cx="612.2" cy="344.1" r="1.3"/><circle cx="612.2" cy="348.3" r="1.3"/><circle cx="612.7" cy="326.5" r="1.3"/><circle cx="612.6" cy="328.4" r="1.3"/><circle cx="612.5" cy="336.3" r="1.3"/><circle cx="612.3" cy="340.6" r="1.3"/><circle cx="612.6" cy="331.4" r="1.3"/><circle cx="613.1" cy="338.2" r="1.3"/><circle cx="612.8" cy="333.2" r="1.3"/><circle cx="613.2" cy="332.6" r="1.3"/><circle cx="612.9" cy="336.5" r="1.3"/><circle cx="613.2" cy="344.4" r="1.3"/><circle cx="613.6" cy="327.0" r="1.3"/><circle cx="613.3" cy="334.7" r="1.3"/><circle cx="613.6" cy="329.5" r="1.3"/><circle cx="613.3" cy="345.4" r="1.3"/><circle cx="613.2" cy="303.7" r="1.3"/><circle cx="613.1" cy="306.7" r="1.3"/><circle cx="613.3" cy="310.6" r="1.3"/><circle cx="613.7" cy="313.1" r="1.3"/><circle cx="613.5" cy="316.2" r="1.3"/><circle cx="613.6" cy="318.8" r="1.3"/><circle cx="613.6" cy="321.6" r="1.3"/></g>
</g>
<line x1="298.00" y1="24.50" x2="298.00" y2="367.50" stroke="#1a1a1a" stroke-width="1" />
<line x1="387.50" y1="24.50" x2="387.50" y2="367.50" stroke="#444" stroke-width="1" />
<line x1="423.50" y1="24.50" x2="423.50" y2="367.50" stroke="#444" stroke-width="1" />
<line x1="534.50" y1="24.50" x2="534.50" y2="367.50" stroke="#444" stroke-width="1" />
<line x1="454.20" y1="196.50" x2="611.00" y2="196.50" stroke="#444" stroke-width="1" stroke-dasharray="3,2.2"/>
<line x1="69.50" y1="24.50" x2="620.50" y2="24.50" stroke="#3a3a3a" stroke-width="1" />
<line x1="69.50" y1="367.50" x2="614.50" y2="367.50" stroke="#3a3a3a" stroke-width="1" />
<line x1="614.50" y1="24.50" x2="614.50" y2="367.50" stroke="#222" stroke-width="1" />
<line x1="69.50" y1="24.50" x2="69.50" y2="367.50" stroke="#0000ff" stroke-width="1" />
<line x1="69.50" y1="24.50" x2="69.50" y2="19.00" stroke="#3a3a3a" stroke-width="1" />
<line x1="69.50" y1="367.50" x2="69.50" y2="373.00" stroke="#3a3a3a" stroke-width="1" />
<line x1="144.50" y1="24.50" x2="144.50" y2="19.00" stroke="#3a3a3a" stroke-width="1" />
<line x1="144.50" y1="367.50" x2="144.50" y2="373.00" stroke="#3a3a3a" stroke-width="1" />
<line x1="219.50" y1="24.50" x2="219.50" y2="19.00" stroke="#3a3a3a" stroke-width="1" />
<line x1="219.50" y1="367.50" x2="219.50" y2="373.00" stroke="#3a3a3a" stroke-width="1" />
<line x1="294.00" y1="24.50" x2="294.00" y2="19.00" stroke="#3a3a3a" stroke-width="1" />
<line x1="294.00" y1="367.50" x2="294.00" y2="373.00" stroke="#3a3a3a" stroke-width="1" />
<line x1="368.50" y1="24.50" x2="368.50" y2="19.00" stroke="#3a3a3a" stroke-width="1" />
<line x1="368.50" y1="367.50" x2="368.50" y2="373.00" stroke="#3a3a3a" stroke-width="1" />
<line x1="443.50" y1="24.50" x2="443.50" y2="19.00" stroke="#3a3a3a" stroke-width="1" />
<line x1="443.50" y1="367.50" x2="443.50" y2="373.00" stroke="#3a3a3a" stroke-width="1" />
<line x1="518.50" y1="24.50" x2="518.50" y2="19.00" stroke="#3a3a3a" stroke-width="1" />
<line x1="518.50" y1="367.50" x2="518.50" y2="373.00" stroke="#3a3a3a" stroke-width="1" />
<line x1="593.50" y1="24.50" x2="593.50" y2="19.00" stroke="#3a3a3a" stroke-width="1" />
<line x1="593.50" y1="367.50" x2="593.50" y2="373.00" stroke="#3a3a3a" stroke-width="1" />
<line x1="64.00" y1="367.50" x2="69.50" y2="367.50" stroke="#0000ff" stroke-width="1" />
<line x1="64.00" y1="322.50" x2="69.50" y2="322.50" stroke="#0000ff" stroke-width="1" />
<line x1="64.00" y1="296.50" x2="69.50" y2="296.50" stroke="#0000ff" stroke-width="1" />
<line x1="66.50" y1="277.50" x2="69.50" y2="277.50" stroke="#0000ff" stroke-width="1" />
<line x1="64.00" y1="263.50" x2="69.50" y2="263.50" stroke="#0000ff" stroke-width="1" />
<line x1="66.50" y1="251.50" x2="69.50" y2="251.50" stroke="#0000ff" stroke-width="1" />
<line x1="66.50" y1="241.50" x2="69.50" y2="241.50" stroke="#0000ff" stroke-width="1" />
<line x1="66.50" y1="232.50" x2="69.50" y2="232.50" stroke="#0000ff" stroke-width="1" />
<line x1="66.50" y1="225.50" x2="69.50" y2="225.50" stroke="#0000ff" stroke-width="1" />
<line x1="64.00" y1="218.50" x2="69.50" y2="218.50" stroke="#0000ff" stroke-width="1" />
<line x1="64.00" y1="173.50" x2="69.50" y2="173.50" stroke="#0000ff" stroke-width="1" />
<line x1="64.00" y1="147.50" x2="69.50" y2="147.50" stroke="#0000ff" stroke-width="1" />
<line x1="66.50" y1="128.50" x2="69.50" y2="128.50" stroke="#0000ff" stroke-width="1" />
<line x1="64.00" y1="114.50" x2="69.50" y2="114.50" stroke="#0000ff" stroke-width="1" />
<line x1="66.50" y1="102.50" x2="69.50" y2="102.50" stroke="#0000ff" stroke-width="1" />
<line x1="66.50" y1="92.50" x2="69.50" y2="92.50" stroke="#0000ff" stroke-width="1" />
<line x1="66.50" y1="83.50" x2="69.50" y2="83.50" stroke="#0000ff" stroke-width="1" />
<line x1="66.50" y1="75.50" x2="69.50" y2="75.50" stroke="#0000ff" stroke-width="1" />
<line x1="64.00" y1="69.50" x2="69.50" y2="69.50" stroke="#0000ff" stroke-width="1" />
<line x1="64.00" y1="24.50" x2="69.50" y2="24.50" stroke="#0000ff" stroke-width="1" />
<line x1="64.00" y1="24.19" x2="69.50" y2="24.19" stroke="#0000ff" stroke-width="1" />
<line x1="614.50" y1="24.50" x2="620.30" y2="24.50" stroke="#222" stroke-width="1" />
<line x1="614.50" y1="33.50" x2="617.50" y2="33.50" stroke="#222" stroke-width="1" />
<line x1="614.50" y1="43.50" x2="617.50" y2="43.50" stroke="#222" stroke-width="1" />
<line x1="614.50" y1="52.50" x2="617.50" y2="52.50" stroke="#222" stroke-width="1" />
<line x1="614.50" y1="62.50" x2="620.30" y2="62.50" stroke="#222" stroke-width="1" />
<line x1="614.50" y1="71.50" x2="617.50" y2="71.50" stroke="#222" stroke-width="1" />
<line x1="614.50" y1="81.50" x2="617.50" y2="81.50" stroke="#222" stroke-width="1" />
<line x1="614.50" y1="90.50" x2="617.50" y2="90.50" stroke="#222" stroke-width="1" />
<line x1="614.50" y1="100.50" x2="620.30" y2="100.50" stroke="#222" stroke-width="1" />
<line x1="614.50" y1="109.50" x2="617.50" y2="109.50" stroke="#222" stroke-width="1" />
<line x1="614.50" y1="119.50" x2="617.50" y2="119.50" stroke="#222" stroke-width="1" />
<line x1="614.50" y1="128.50" x2="617.50" y2="128.50" stroke="#222" stroke-width="1" />
<line x1="614.50" y1="138.50" x2="620.30" y2="138.50" stroke="#222" stroke-width="1" />
<line x1="614.50" y1="147.50" x2="617.50" y2="147.50" stroke="#222" stroke-width="1" />
<line x1="614.50" y1="157.50" x2="617.50" y2="157.50" stroke="#222" stroke-width="1" />
<line x1="614.50" y1="166.50" x2="617.50" y2="166.50" stroke="#222" stroke-width="1" />
<line x1="614.50" y1="176.50" x2="620.30" y2="176.50" stroke="#222" stroke-width="1" />
<line x1="614.50" y1="367.50" x2="620.30" y2="367.50" stroke="#222" stroke-width="1" />
<line x1="614.50" y1="329.50" x2="620.30" y2="329.50" stroke="#222" stroke-width="1" />
<line x1="614.50" y1="290.50" x2="620.30" y2="290.50" stroke="#222" stroke-width="1" />
<line x1="614.50" y1="252.50" x2="620.30" y2="252.50" stroke="#222" stroke-width="1" />
<line x1="614.50" y1="214.50" x2="620.30" y2="214.50" stroke="#222" stroke-width="1" />
<line x1="69.50" y1="314.10" x2="69.50" y2="337.30" stroke="#222" stroke-width="1.1" />
<g clip-path="url(#pc)">
<line x1="65.75" y1="314.10" x2="73.25" y2="314.10" stroke="#222" stroke-width="1.4" />
<line x1="65.75" y1="337.30" x2="73.25" y2="337.30" stroke="#222" stroke-width="1.4" />
<circle cx="69.5" cy="321.2" r="3.3" fill="#ffff00" stroke="#111" stroke-width="1.1"/>
</g>
<line x1="187.10" y1="283.50" x2="187.10" y2="337.00" stroke="#222" stroke-width="1.1" />
<g>
<line x1="183.35" y1="283.50" x2="190.85" y2="283.50" stroke="#222" stroke-width="1.4" />
<line x1="183.35" y1="337.00" x2="190.85" y2="337.00" stroke="#222" stroke-width="1.4" />
<circle cx="187.1" cy="313.6" r="3.3" fill="#ffff00" stroke="#111" stroke-width="1.1"/>
</g>
<line x1="315.20" y1="260.90" x2="315.20" y2="299.00" stroke="#222" stroke-width="1.1" />
<g>
<line x1="311.45" y1="260.90" x2="318.95" y2="260.90" stroke="#222" stroke-width="1.4" />
<line x1="311.45" y1="299.00" x2="318.95" y2="299.00" stroke="#222" stroke-width="1.4" />
<circle cx="315.2" cy="283.1" r="3.3" fill="#ffff00" stroke="#111" stroke-width="1.1"/>
</g>
<line x1="390.20" y1="268.30" x2="390.20" y2="313.90" stroke="#222" stroke-width="1.1" />
<g>
<line x1="386.45" y1="268.30" x2="393.95" y2="268.30" stroke="#222" stroke-width="1.4" />
<line x1="386.45" y1="313.90" x2="393.95" y2="313.90" stroke="#222" stroke-width="1.4" />
<circle cx="390.2" cy="298.4" r="3.3" fill="#ffff00" stroke="#111" stroke-width="1.1"/>
</g>
<line x1="496.90" y1="215.30" x2="496.90" y2="283.70" stroke="#222" stroke-width="1.1" />
<g>
<line x1="493.15" y1="215.30" x2="500.65" y2="215.30" stroke="#222" stroke-width="1.4" />
<line x1="493.15" y1="283.70" x2="500.65" y2="283.70" stroke="#222" stroke-width="1.4" />
<circle cx="496.9" cy="252.5" r="3.3" fill="#ffff00" stroke="#111" stroke-width="1.1"/>
</g>
<line x1="614.50" y1="222.60" x2="614.50" y2="283.60" stroke="#222" stroke-width="1.1" />
<g clip-path="url(#pc)">
<line x1="610.75" y1="222.60" x2="618.25" y2="222.60" stroke="#222" stroke-width="1.4" />
<line x1="610.75" y1="283.60" x2="618.25" y2="283.60" stroke="#222" stroke-width="1.4" />
<circle cx="614.5" cy="252.6" r="3.3" fill="#ffff00" stroke="#111" stroke-width="1.1"/>
</g>
<line x1="611.00" y1="222.60" x2="616.20" y2="222.60" stroke="#222" stroke-width="1.4" />
<line x1="611.00" y1="283.60" x2="616.20" y2="283.60" stroke="#222" stroke-width="1.4" />
<polygon points="535.5,18.8 529.9,29.9 541.1,29.9" fill="#ffff00" stroke="#222" stroke-width="0.9" stroke-linejoin="miter"/>
<line x1="444.70" y1="61.10" x2="416.31" y2="38.52" stroke="#111" stroke-width="1.1" />
<polygon points="412.0,35.1 418.6,37.3 415.6,41.0" fill="#111"/>
<line x1="94.90" y1="338.20" x2="79.85" y2="327.99" stroke="#111" stroke-width="1.1" />
<polygon points="75.3,324.9 82.0,326.6 79.3,330.5" fill="#111"/>
<line x1="595.90" y1="276.10" x2="606.55" y2="263.50" stroke="#111" stroke-width="1.1" />
<polygon points="610.1,259.3 607.7,265.8 604.1,262.7" fill="#111"/>
<text x="48.82" y="13.90" font-size="14.64" fill="#000" stroke="#000" textLength="42.04" lengthAdjust="spacingAndGlyphs">1-Dec</text>
<rect x="48.03" y="11.44" width="4.49" height="3.66" fill="#fff"/>
<rect x="54.41" y="11.44" width="3.39" height="3.66" fill="#fff"/>
<text x="48.82" y="391.40" font-size="15.07" fill="#000" stroke="#000" textLength="42.04" lengthAdjust="spacingAndGlyphs">1-Dec</text>
<rect x="48.03" y="388.89" width="4.49" height="3.71" fill="#fff"/>
<rect x="54.41" y="388.89" width="3.39" height="3.71" fill="#fff"/>
<text x="125.29" y="13.90" font-size="14.43" fill="#000" stroke="#000" textLength="41.86" lengthAdjust="spacingAndGlyphs">8-Dec</text>
<text x="125.29" y="391.40" font-size="14.86" fill="#000" stroke="#000" textLength="41.86" lengthAdjust="spacingAndGlyphs">8-Dec</text>
<text x="196.74" y="13.90" font-size="14.43" fill="#000" stroke="#000" textLength="50.03" lengthAdjust="spacingAndGlyphs">12-Dec</text>
<rect x="195.96" y="11.46" width="4.42" height="3.64" fill="#fff"/>
<rect x="202.25" y="11.46" width="3.34" height="3.64" fill="#fff"/>
<text x="196.74" y="391.40" font-size="14.86" fill="#000" stroke="#000" textLength="50.03" lengthAdjust="spacingAndGlyphs">12-Dec</text>
<rect x="195.96" y="388.91" width="4.42" height="3.69" fill="#fff"/>
<rect x="202.25" y="388.91" width="3.34" height="3.69" fill="#fff"/>
<text x="269.91" y="13.90" font-size="14.43" fill="#000" stroke="#000" textLength="50.66" lengthAdjust="spacingAndGlyphs">22-Dec</text>
<text x="269.91" y="391.40" font-size="14.86" fill="#000" stroke="#000" textLength="50.66" lengthAdjust="spacingAndGlyphs">22-Dec</text>
<text x="344.61" y="13.90" font-size="14.43" fill="#000" stroke="#000" textLength="50.66" lengthAdjust="spacingAndGlyphs">29-Dec</text>
<text x="344.61" y="391.40" font-size="14.86" fill="#000" stroke="#000" textLength="50.66" lengthAdjust="spacingAndGlyphs">29-Dec</text>
<text x="425.47" y="13.90" font-size="14.64" fill="#000" stroke="#000" textLength="39.38" lengthAdjust="spacingAndGlyphs">5-Jan</text>
<text x="425.47" y="391.40" font-size="15.07" fill="#000" stroke="#000" textLength="39.38" lengthAdjust="spacingAndGlyphs">5-Jan</text>
<text x="495.04" y="13.90" font-size="14.43" fill="#000" stroke="#000" textLength="47.41" lengthAdjust="spacingAndGlyphs">12-Jan</text>
<rect x="494.26" y="11.46" width="4.42" height="3.64" fill="#fff"/>
<rect x="500.54" y="11.46" width="3.33" height="3.64" fill="#fff"/>
<text x="495.04" y="391.40" font-size="14.86" fill="#000" stroke="#000" textLength="47.41" lengthAdjust="spacingAndGlyphs">12-Jan</text>
<rect x="494.26" y="388.91" width="4.42" height="3.69" fill="#fff"/>
<rect x="500.54" y="388.91" width="3.33" height="3.69" fill="#fff"/>
<text x="571.56" y="13.90" font-size="14.43" fill="#000" stroke="#000" textLength="46.47" lengthAdjust="spacingAndGlyphs">19-Jan</text>
<rect x="570.80" y="11.46" width="4.33" height="3.64" fill="#fff"/>
<rect x="576.96" y="11.46" width="3.27" height="3.64" fill="#fff"/>
<text x="571.56" y="391.40" font-size="14.86" fill="#000" stroke="#000" textLength="46.47" lengthAdjust="spacingAndGlyphs">19-Jan</text>
<rect x="570.80" y="388.91" width="4.33" height="3.69" fill="#fff"/>
<rect x="576.96" y="388.91" width="3.27" height="3.69" fill="#fff"/>
<text x="34.76" y="372.60" font-size="14.00" fill="#0000ff" stroke="#0000ff" textLength="25.43" lengthAdjust="spacingAndGlyphs">100</text>
<rect x="33.99" y="370.20" width="4.34" height="3.60" fill="#fff"/>
<rect x="40.17" y="370.20" width="3.28" height="3.60" fill="#fff"/>
<text x="33.60" y="327.69" font-size="14.00" fill="#0000ff" stroke="#0000ff" textLength="26.61" lengthAdjust="spacingAndGlyphs">200</text>
<text x="34.18" y="301.41" font-size="14.00" fill="#0000ff" stroke="#0000ff" textLength="26.02" lengthAdjust="spacingAndGlyphs">300</text>
<text x="34.38" y="268.31" font-size="14.00" fill="#0000ff" stroke="#0000ff" textLength="25.81" lengthAdjust="spacingAndGlyphs">500</text>
<text x="26.36" y="223.40" font-size="14.00" fill="#0000ff" stroke="#0000ff" textLength="33.76" lengthAdjust="spacingAndGlyphs">1000</text>
<rect x="25.60" y="221.00" width="4.33" height="3.60" fill="#fff"/>
<rect x="31.75" y="221.00" width="3.26" height="3.60" fill="#fff"/>
<text x="25.32" y="178.49" font-size="14.00" fill="#0000ff" stroke="#0000ff" textLength="34.83" lengthAdjust="spacingAndGlyphs">2000</text>
<text x="25.48" y="152.21" font-size="14.00" fill="#0000ff" stroke="#0000ff" textLength="34.66" lengthAdjust="spacingAndGlyphs">3000</text>
<text x="628.68" y="28.75" font-size="14.71" fill="#000" stroke="#000" textLength="31.92" lengthAdjust="spacingAndGlyphs">-200</text>
<text x="628.76" y="66.80" font-size="14.71" fill="#000" stroke="#000" textLength="8.87" lengthAdjust="spacingAndGlyphs">0</text>
<text x="628.60" y="104.85" font-size="14.71" fill="#000" stroke="#000" textLength="26.61" lengthAdjust="spacingAndGlyphs">200</text>
<text x="629.08" y="142.90" font-size="14.71" fill="#000" stroke="#000" textLength="26.61" lengthAdjust="spacingAndGlyphs">400</text>
<text x="628.60" y="180.95" font-size="14.71" fill="#000" stroke="#000" textLength="26.61" lengthAdjust="spacingAndGlyphs">600</text>
<text x="628.76" y="374.15" font-size="14.71" fill="#000" stroke="#000" textLength="8.87" lengthAdjust="spacingAndGlyphs">0</text>
<text x="628.76" y="335.83" font-size="14.71" fill="#000" stroke="#000" textLength="26.61" lengthAdjust="spacingAndGlyphs">500</text>
<text x="629.00" y="297.51" font-size="14.71" fill="#000" stroke="#000" textLength="35.48" lengthAdjust="spacingAndGlyphs">1000</text>
<rect x="628.21" y="295.04" width="4.55" height="3.67" fill="#fff"/>
<rect x="634.67" y="295.04" width="3.43" height="3.67" fill="#fff"/>
<text x="629.00" y="259.19" font-size="14.71" fill="#000" stroke="#000" textLength="35.48" lengthAdjust="spacingAndGlyphs">1500</text>
<rect x="628.21" y="256.72" width="4.55" height="3.67" fill="#fff"/>
<rect x="634.67" y="256.72" width="3.43" height="3.67" fill="#fff"/>
<text x="628.60" y="220.87" font-size="14.71" fill="#000" stroke="#000" textLength="35.48" lengthAdjust="spacingAndGlyphs">2000</text>
<text x="258.77" y="38.00" font-size="10.72" fill="#111" stroke="#111" textLength="33.46" lengthAdjust="spacingAndGlyphs">stage I</text>
<text x="341.26" y="38.10" font-size="11.01" fill="#111" stroke="#111" textLength="36.70" lengthAdjust="spacingAndGlyphs">stage II</text>
<text x="443.36" y="73.80" font-size="10.87" fill="#111" stroke="#111" textLength="39.77" lengthAdjust="spacingAndGlyphs">stage III</text>
<text x="485.17" y="39.30" font-size="10.87" fill="#111" stroke="#111" textLength="40.23" lengthAdjust="spacingAndGlyphs">stage IV</text>
<text x="570.77" y="39.30" font-size="11.30" fill="#111" stroke="#111" textLength="37.60" lengthAdjust="spacingAndGlyphs">stage V</text>
<text x="88.21" y="351.30" font-size="11.29" fill="#111" stroke="#111" textLength="38.03" lengthAdjust="spacingAndGlyphs">26-Nov</text>
<text x="569.80" y="288.90" font-size="11.57" fill="#111" stroke="#111" textLength="36.61" lengthAdjust="spacingAndGlyphs">22-Jan</text>
<text transform="translate(18.0,314.8) rotate(-90) scale(1.0,1)" font-size="15.2" fill="#0000ff" stroke="#0000ff" textLength="125.8" lengthAdjust="spacingAndGlyphs">amplitude (µm<tspan dy="-9.6" font-size="9">2</tspan><tspan dy="9.6">/s)</tspan></text>
<text transform="translate(671.0,66.3) rotate(90)" font-size="15.2" fill="#000" stroke="#000" textLength="68.5" lengthAdjust="spacingAndGlyphs">depth (m)</text>
<text transform="translate(671.0,238.9) rotate(90) scale(1.06,1)" font-size="15.5" fill="#000" stroke="#000">SO<tspan dy="4" font-size="10">2</tspan><tspan dy="-4"> (tons/day)</tspan></text>
</svg></body></html>
